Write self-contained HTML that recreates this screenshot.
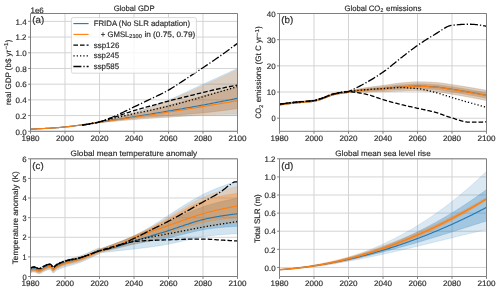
<!DOCTYPE html>
<html><head><meta charset="utf-8"><style>
html,body{margin:0;padding:0;background:#fff;}
svg{display:block;}
text{font-family:"Liberation Sans", sans-serif;text-rendering:geometricPrecision;stroke:#2e2e2e;stroke-width:0.18px;}
svg{will-change:transform;}
</style></head><body>
<svg width="500" height="291" viewBox="0 0 500 291">
<rect width="500" height="291" fill="#fff"/>
<path d="M30.50,13.50 V131.30 M65.00,13.50 V131.30 M99.50,13.50 V131.30 M134.00,13.50 V131.30 M168.50,13.50 V131.30 M203.00,13.50 V131.30 M237.50,13.50 V131.30 M30.50,131.30 H237.50 M30.50,115.59 H237.50 M30.50,99.89 H237.50 M30.50,84.18 H237.50 M30.50,68.47 H237.50 M30.50,52.77 H237.50 M30.50,37.06 H237.50 M30.50,21.35 H237.50" stroke="#d2d2d2" stroke-width="0.95" fill="none"/>
<path d="M30.50,129.02 L32.23,128.99 L33.95,128.94 L35.67,128.88 L37.40,128.81 L39.12,128.74 L40.85,128.65 L42.58,128.56 L44.30,128.46 L46.02,128.35 L47.75,128.23 L49.47,128.11 L51.20,127.99 L52.92,127.85 L54.65,127.72 L56.38,127.58 L58.10,127.43 L59.83,127.28 L61.55,127.13 L63.27,126.98 L65.00,126.82 L66.72,126.66 L68.45,126.48 L70.18,126.29 L71.90,126.08 L73.62,125.87 L75.35,125.64 L77.08,125.39 L78.80,125.14 L80.53,124.88 L82.25,124.60 L83.98,124.32 L85.70,124.03 L87.43,123.73 L89.15,123.43 L90.88,123.12 L92.60,122.80 L94.33,122.48 L96.05,122.15 L97.78,121.82 L99.50,121.48 L101.23,121.14 L102.95,120.78 L104.67,120.41 L106.40,120.02 L108.12,119.62 L109.85,119.21 L111.58,118.78 L113.30,118.35 L115.02,117.90 L116.75,117.44 L118.47,116.98 L120.20,116.50 L121.92,116.02 L123.65,115.52 L125.38,115.03 L127.10,114.52 L128.82,114.01 L130.55,113.50 L132.27,112.98 L134.00,112.45 L135.72,111.92 L137.45,111.37 L139.18,110.82 L140.90,110.25 L142.62,109.67 L144.35,109.07 L146.07,108.47 L147.80,107.86 L149.52,107.23 L151.25,106.60 L152.98,105.96 L154.70,105.31 L156.42,104.65 L158.15,103.99 L159.88,103.32 L161.60,102.64 L163.33,101.96 L165.05,101.27 L166.78,100.58 L168.50,99.89 L170.23,99.18 L171.95,98.46 L173.67,97.72 L175.40,96.97 L177.12,96.21 L178.85,95.43 L180.57,94.65 L182.30,93.86 L184.03,93.06 L185.75,92.25 L187.47,91.44 L189.20,90.63 L190.93,89.82 L192.65,89.00 L194.38,88.19 L196.10,87.38 L197.83,86.57 L199.55,85.77 L201.27,84.97 L203.00,84.18 L204.72,83.39 L206.45,82.61 L208.17,81.82 L209.90,81.04 L211.62,80.25 L213.35,79.47 L215.08,78.68 L216.80,77.90 L218.53,77.11 L220.25,76.33 L221.98,75.54 L223.70,74.76 L225.42,73.97 L227.15,73.19 L228.88,72.40 L230.60,71.61 L232.32,70.83 L234.05,70.04 L235.78,69.26 L237.50,68.47 L237.50,115.59 L235.78,115.59 L234.05,115.59 L232.32,115.59 L230.60,115.59 L228.88,115.59 L227.15,115.59 L225.42,115.59 L223.70,115.59 L221.98,115.59 L220.25,115.59 L218.53,115.59 L216.80,115.59 L215.08,115.59 L213.35,115.59 L211.62,115.59 L209.90,115.59 L208.17,115.59 L206.45,115.59 L204.72,115.59 L203.00,115.59 L201.27,115.60 L199.55,115.62 L197.83,115.65 L196.10,115.70 L194.38,115.75 L192.65,115.81 L190.93,115.89 L189.20,115.97 L187.47,116.05 L185.75,116.14 L184.03,116.24 L182.30,116.34 L180.57,116.44 L178.85,116.55 L177.12,116.65 L175.40,116.76 L173.67,116.86 L171.95,116.97 L170.23,117.07 L168.50,117.16 L166.78,117.26 L165.05,117.36 L163.33,117.46 L161.60,117.56 L159.88,117.67 L158.15,117.78 L156.42,117.89 L154.70,118.01 L152.98,118.12 L151.25,118.24 L149.52,118.36 L147.80,118.48 L146.07,118.61 L144.35,118.73 L142.62,118.86 L140.90,118.99 L139.18,119.12 L137.45,119.25 L135.72,119.39 L134.00,119.52 L132.27,119.66 L130.55,119.79 L128.82,119.93 L127.10,120.07 L125.38,120.22 L123.65,120.37 L121.92,120.51 L120.20,120.66 L118.47,120.82 L116.75,120.97 L115.02,121.13 L113.30,121.29 L111.58,121.45 L109.85,121.62 L108.12,121.79 L106.40,121.96 L104.67,122.13 L102.95,122.30 L101.23,122.48 L99.50,122.66 L97.78,122.85 L96.05,123.05 L94.33,123.26 L92.60,123.49 L90.88,123.71 L89.15,123.95 L87.43,124.19 L85.70,124.43 L83.98,124.68 L82.25,124.92 L80.53,125.16 L78.80,125.40 L77.08,125.63 L75.35,125.86 L73.62,126.08 L71.90,126.28 L70.18,126.48 L68.45,126.66 L66.72,126.83 L65.00,126.98 L63.27,127.12 L61.55,127.26 L59.83,127.40 L58.10,127.53 L56.38,127.66 L54.65,127.79 L52.92,127.92 L51.20,128.04 L49.47,128.16 L47.75,128.27 L46.02,128.38 L44.30,128.48 L42.58,128.58 L40.85,128.67 L39.12,128.76 L37.40,128.84 L35.67,128.92 L33.95,128.98 L32.23,129.05 L30.50,129.10Z" fill="#1f77b4" fill-opacity="0.2" stroke="#1f77b4" stroke-opacity="0.2" stroke-width="0.7"/>
<path d="M30.50,129.02 L32.23,128.98 L33.95,128.92 L35.67,128.86 L37.40,128.79 L39.12,128.71 L40.85,128.62 L42.58,128.52 L44.30,128.42 L46.02,128.31 L47.75,128.20 L49.47,128.08 L51.20,127.96 L52.92,127.83 L54.65,127.69 L56.38,127.56 L58.10,127.42 L59.83,127.27 L61.55,127.12 L63.27,126.97 L65.00,126.82 L66.72,126.66 L68.45,126.49 L70.18,126.31 L71.90,126.11 L73.62,125.90 L75.35,125.68 L77.08,125.45 L78.80,125.21 L80.53,124.97 L82.25,124.71 L83.98,124.45 L85.70,124.18 L87.43,123.91 L89.15,123.63 L90.88,123.34 L92.60,123.05 L94.33,122.76 L96.05,122.47 L97.78,122.17 L99.50,121.88 L101.23,121.57 L102.95,121.26 L104.67,120.93 L106.40,120.60 L108.12,120.26 L109.85,119.90 L111.58,119.54 L113.30,119.18 L115.02,118.80 L116.75,118.42 L118.47,118.04 L120.20,117.65 L121.92,117.25 L123.65,116.85 L125.38,116.45 L127.10,116.05 L128.82,115.64 L130.55,115.23 L132.27,114.82 L134.00,114.42 L135.72,114.00 L137.45,113.58 L139.18,113.16 L140.90,112.73 L142.62,112.29 L144.35,111.84 L146.07,111.40 L147.80,110.95 L149.52,110.49 L151.25,110.03 L152.98,109.57 L154.70,109.11 L156.42,108.64 L158.15,108.18 L159.88,107.71 L161.60,107.24 L163.33,106.78 L165.05,106.31 L166.78,105.85 L168.50,105.38 L170.23,104.92 L171.95,104.45 L173.67,103.98 L175.40,103.51 L177.12,103.04 L178.85,102.56 L180.57,102.08 L182.30,101.60 L184.03,101.12 L185.75,100.65 L187.47,100.17 L189.20,99.69 L190.93,99.21 L192.65,98.74 L194.38,98.27 L196.10,97.80 L197.83,97.33 L199.55,96.87 L201.27,96.41 L203.00,95.96 L204.72,95.51 L206.45,95.06 L208.17,94.62 L209.90,94.17 L211.62,93.73 L213.35,93.29 L215.08,92.85 L216.80,92.41 L218.53,91.98 L220.25,91.54 L221.98,91.11 L223.70,90.68 L225.42,90.26 L227.15,89.83 L228.88,89.41 L230.60,88.99 L232.32,88.57 L234.05,88.15 L235.78,87.73 L237.50,87.32 L237.50,108.53 L235.78,108.78 L234.05,109.03 L232.32,109.28 L230.60,109.52 L228.88,109.76 L227.15,110.00 L225.42,110.23 L223.70,110.46 L221.98,110.68 L220.25,110.90 L218.53,111.12 L216.80,111.33 L215.08,111.54 L213.35,111.74 L211.62,111.94 L209.90,112.13 L208.17,112.32 L206.45,112.50 L204.72,112.67 L203.00,112.84 L201.27,113.01 L199.55,113.17 L197.83,113.32 L196.10,113.47 L194.38,113.62 L192.65,113.76 L190.93,113.90 L189.20,114.03 L187.47,114.16 L185.75,114.30 L184.03,114.42 L182.30,114.55 L180.57,114.68 L178.85,114.81 L177.12,114.93 L175.40,115.06 L173.67,115.19 L171.95,115.32 L170.23,115.46 L168.50,115.59 L166.78,115.73 L165.05,115.86 L163.33,115.99 L161.60,116.13 L159.88,116.25 L158.15,116.38 L156.42,116.51 L154.70,116.64 L152.98,116.77 L151.25,116.90 L149.52,117.03 L147.80,117.16 L146.07,117.30 L144.35,117.43 L142.62,117.58 L140.90,117.72 L139.18,117.87 L137.45,118.02 L135.72,118.18 L134.00,118.34 L132.27,118.51 L130.55,118.69 L128.82,118.87 L127.10,119.06 L125.38,119.25 L123.65,119.45 L121.92,119.66 L120.20,119.87 L118.47,120.08 L116.75,120.29 L115.02,120.51 L113.30,120.73 L111.58,120.95 L109.85,121.17 L108.12,121.40 L106.40,121.62 L104.67,121.84 L102.95,122.07 L101.23,122.29 L99.50,122.50 L97.78,122.73 L96.05,122.96 L94.33,123.20 L92.60,123.44 L90.88,123.69 L89.15,123.95 L87.43,124.20 L85.70,124.46 L83.98,124.71 L82.25,124.96 L80.53,125.21 L78.80,125.46 L77.08,125.69 L75.35,125.92 L73.62,126.14 L71.90,126.35 L70.18,126.55 L68.45,126.74 L66.72,126.91 L65.00,127.06 L63.27,127.20 L61.55,127.34 L59.83,127.48 L58.10,127.62 L56.38,127.76 L54.65,127.89 L52.92,128.01 L51.20,128.14 L49.47,128.25 L47.75,128.37 L46.02,128.48 L44.30,128.58 L42.58,128.68 L40.85,128.77 L39.12,128.86 L37.40,128.94 L35.67,129.01 L33.95,129.07 L32.23,129.13 L30.50,129.18Z" fill="#1f77b4" fill-opacity="0.2" stroke="#1f77b4" stroke-opacity="0.2" stroke-width="0.7"/>
<path d="M30.50,128.94 L32.23,128.91 L33.95,128.86 L35.67,128.80 L37.40,128.73 L39.12,128.65 L40.85,128.57 L42.58,128.47 L44.30,128.37 L46.02,128.26 L47.75,128.15 L49.47,128.03 L51.20,127.90 L52.92,127.77 L54.65,127.63 L56.38,127.49 L58.10,127.35 L59.83,127.20 L61.55,127.05 L63.27,126.90 L65.00,126.75 L66.72,126.58 L68.45,126.41 L70.18,126.21 L71.90,126.01 L73.62,125.79 L75.35,125.56 L77.08,125.32 L78.80,125.07 L80.53,124.81 L82.25,124.54 L83.98,124.27 L85.70,123.98 L87.43,123.69 L89.15,123.39 L90.88,123.08 L92.60,122.77 L94.33,122.45 L96.05,122.13 L97.78,121.81 L99.50,121.48 L101.23,121.15 L102.95,120.80 L104.67,120.44 L106.40,120.07 L108.12,119.69 L109.85,119.29 L111.58,118.89 L113.30,118.47 L115.02,118.04 L116.75,117.61 L118.47,117.17 L120.20,116.71 L121.92,116.25 L123.65,115.78 L125.38,115.31 L127.10,114.83 L128.82,114.34 L130.55,113.85 L132.27,113.35 L134.00,112.84 L135.72,112.33 L137.45,111.81 L139.18,111.27 L140.90,110.71 L142.62,110.15 L144.35,109.57 L146.07,108.99 L147.80,108.39 L149.52,107.79 L151.25,107.17 L152.98,106.55 L154.70,105.92 L156.42,105.28 L158.15,104.64 L159.88,103.99 L161.60,103.33 L163.33,102.67 L165.05,102.01 L166.78,101.34 L168.50,100.67 L170.23,100.00 L171.95,99.31 L173.67,98.61 L175.40,97.90 L177.12,97.18 L178.85,96.45 L180.57,95.72 L182.30,94.98 L184.03,94.23 L185.75,93.47 L187.47,92.71 L189.20,91.95 L190.93,91.18 L192.65,90.41 L194.38,89.63 L196.10,88.86 L197.83,88.08 L199.55,87.30 L201.27,86.53 L203.00,85.75 L204.72,84.97 L206.45,84.20 L208.17,83.41 L209.90,82.63 L211.62,81.84 L213.35,81.05 L215.08,80.25 L216.80,79.46 L218.53,78.65 L220.25,77.85 L221.98,77.04 L223.70,76.23 L225.42,75.42 L227.15,74.61 L228.88,73.79 L230.60,72.97 L232.32,72.14 L234.05,71.31 L235.78,70.48 L237.50,69.65 L237.50,114.02 L235.78,114.03 L234.05,114.03 L232.32,114.05 L230.60,114.07 L228.88,114.09 L227.15,114.12 L225.42,114.15 L223.70,114.19 L221.98,114.23 L220.25,114.27 L218.53,114.31 L216.80,114.36 L215.08,114.41 L213.35,114.47 L211.62,114.52 L209.90,114.58 L208.17,114.63 L206.45,114.69 L204.72,114.75 L203.00,114.81 L201.27,114.87 L199.55,114.95 L197.83,115.03 L196.10,115.13 L194.38,115.23 L192.65,115.34 L190.93,115.46 L189.20,115.58 L187.47,115.71 L185.75,115.84 L184.03,115.97 L182.30,116.11 L180.57,116.25 L178.85,116.38 L177.12,116.52 L175.40,116.66 L173.67,116.79 L171.95,116.92 L170.23,117.04 L168.50,117.16 L166.78,117.28 L165.05,117.40 L163.33,117.51 L161.60,117.62 L159.88,117.73 L158.15,117.85 L156.42,117.96 L154.70,118.07 L152.98,118.18 L151.25,118.29 L149.52,118.41 L147.80,118.52 L146.07,118.64 L144.35,118.76 L142.62,118.88 L140.90,119.00 L139.18,119.12 L137.45,119.25 L135.72,119.38 L134.00,119.52 L132.27,119.66 L130.55,119.80 L128.82,119.95 L127.10,120.10 L125.38,120.25 L123.65,120.40 L121.92,120.56 L120.20,120.72 L118.47,120.88 L116.75,121.05 L115.02,121.21 L113.30,121.38 L111.58,121.55 L109.85,121.73 L108.12,121.91 L106.40,122.08 L104.67,122.27 L102.95,122.45 L101.23,122.63 L99.50,122.82 L97.78,123.01 L96.05,123.22 L94.33,123.43 L92.60,123.66 L90.88,123.89 L89.15,124.12 L87.43,124.36 L85.70,124.60 L83.98,124.85 L82.25,125.09 L80.53,125.33 L78.80,125.57 L77.08,125.80 L75.35,126.02 L73.62,126.24 L71.90,126.44 L70.18,126.64 L68.45,126.82 L66.72,126.99 L65.00,127.14 L63.27,127.28 L61.55,127.42 L59.83,127.56 L58.10,127.69 L56.38,127.82 L54.65,127.95 L52.92,128.07 L51.20,128.20 L49.47,128.31 L47.75,128.43 L46.02,128.53 L44.30,128.64 L42.58,128.74 L40.85,128.83 L39.12,128.92 L37.40,129.00 L35.67,129.07 L33.95,129.14 L32.23,129.20 L30.50,129.26Z" fill="#ff7f0e" fill-opacity="0.2" stroke="#ff7f0e" stroke-opacity="0.2" stroke-width="0.7"/>
<path d="M30.50,129.02 L32.23,128.98 L33.95,128.92 L35.67,128.86 L37.40,128.79 L39.12,128.71 L40.85,128.62 L42.58,128.52 L44.30,128.42 L46.02,128.31 L47.75,128.20 L49.47,128.08 L51.20,127.96 L52.92,127.83 L54.65,127.69 L56.38,127.56 L58.10,127.42 L59.83,127.27 L61.55,127.12 L63.27,126.97 L65.00,126.82 L66.72,126.66 L68.45,126.49 L70.18,126.31 L71.90,126.11 L73.62,125.90 L75.35,125.68 L77.08,125.45 L78.80,125.21 L80.53,124.97 L82.25,124.71 L83.98,124.45 L85.70,124.18 L87.43,123.91 L89.15,123.63 L90.88,123.34 L92.60,123.05 L94.33,122.76 L96.05,122.47 L97.78,122.17 L99.50,121.88 L101.23,121.57 L102.95,121.26 L104.67,120.93 L106.40,120.60 L108.12,120.26 L109.85,119.90 L111.58,119.54 L113.30,119.18 L115.02,118.80 L116.75,118.42 L118.47,118.04 L120.20,117.65 L121.92,117.25 L123.65,116.85 L125.38,116.45 L127.10,116.05 L128.82,115.64 L130.55,115.23 L132.27,114.82 L134.00,114.42 L135.72,114.00 L137.45,113.58 L139.18,113.16 L140.90,112.73 L142.62,112.29 L144.35,111.84 L146.07,111.40 L147.80,110.95 L149.52,110.49 L151.25,110.03 L152.98,109.57 L154.70,109.11 L156.42,108.64 L158.15,108.18 L159.88,107.71 L161.60,107.24 L163.33,106.78 L165.05,106.31 L166.78,105.85 L168.50,105.38 L170.23,104.92 L171.95,104.45 L173.67,103.98 L175.40,103.51 L177.12,103.04 L178.85,102.56 L180.57,102.08 L182.30,101.60 L184.03,101.12 L185.75,100.65 L187.47,100.17 L189.20,99.69 L190.93,99.21 L192.65,98.74 L194.38,98.27 L196.10,97.80 L197.83,97.33 L199.55,96.87 L201.27,96.41 L203.00,95.96 L204.72,95.51 L206.45,95.06 L208.17,94.62 L209.90,94.17 L211.62,93.73 L213.35,93.29 L215.08,92.85 L216.80,92.41 L218.53,91.98 L220.25,91.54 L221.98,91.11 L223.70,90.68 L225.42,90.26 L227.15,89.83 L228.88,89.41 L230.60,88.99 L232.32,88.57 L234.05,88.15 L235.78,87.73 L237.50,87.32 L237.50,108.53 L235.78,108.78 L234.05,109.03 L232.32,109.28 L230.60,109.52 L228.88,109.76 L227.15,110.00 L225.42,110.23 L223.70,110.46 L221.98,110.68 L220.25,110.90 L218.53,111.12 L216.80,111.33 L215.08,111.54 L213.35,111.74 L211.62,111.94 L209.90,112.13 L208.17,112.32 L206.45,112.50 L204.72,112.67 L203.00,112.84 L201.27,113.01 L199.55,113.17 L197.83,113.32 L196.10,113.47 L194.38,113.62 L192.65,113.76 L190.93,113.90 L189.20,114.03 L187.47,114.16 L185.75,114.30 L184.03,114.42 L182.30,114.55 L180.57,114.68 L178.85,114.81 L177.12,114.93 L175.40,115.06 L173.67,115.19 L171.95,115.32 L170.23,115.46 L168.50,115.59 L166.78,115.73 L165.05,115.86 L163.33,115.99 L161.60,116.13 L159.88,116.25 L158.15,116.38 L156.42,116.51 L154.70,116.64 L152.98,116.77 L151.25,116.90 L149.52,117.03 L147.80,117.16 L146.07,117.30 L144.35,117.43 L142.62,117.58 L140.90,117.72 L139.18,117.87 L137.45,118.02 L135.72,118.18 L134.00,118.34 L132.27,118.51 L130.55,118.69 L128.82,118.87 L127.10,119.06 L125.38,119.25 L123.65,119.45 L121.92,119.66 L120.20,119.87 L118.47,120.08 L116.75,120.29 L115.02,120.51 L113.30,120.73 L111.58,120.95 L109.85,121.17 L108.12,121.40 L106.40,121.62 L104.67,121.84 L102.95,122.07 L101.23,122.29 L99.50,122.50 L97.78,122.73 L96.05,122.96 L94.33,123.20 L92.60,123.44 L90.88,123.69 L89.15,123.95 L87.43,124.20 L85.70,124.46 L83.98,124.71 L82.25,124.96 L80.53,125.21 L78.80,125.46 L77.08,125.69 L75.35,125.92 L73.62,126.14 L71.90,126.35 L70.18,126.55 L68.45,126.74 L66.72,126.91 L65.00,127.06 L63.27,127.20 L61.55,127.34 L59.83,127.48 L58.10,127.62 L56.38,127.76 L54.65,127.89 L52.92,128.01 L51.20,128.14 L49.47,128.25 L47.75,128.37 L46.02,128.48 L44.30,128.58 L42.58,128.68 L40.85,128.77 L39.12,128.86 L37.40,128.94 L35.67,129.01 L33.95,129.07 L32.23,129.13 L30.50,129.18Z" fill="#ff7f0e" fill-opacity="0.2" stroke="#ff7f0e" stroke-opacity="0.2" stroke-width="0.7"/>
<path d="M30.50,129.10 L32.23,129.03 L33.95,128.96 L35.67,128.88 L37.40,128.81 L39.12,128.73 L40.85,128.65 L42.58,128.57 L44.30,128.48 L46.02,128.39 L47.75,128.29 L49.47,128.19 L51.20,128.09 L52.92,127.98 L54.65,127.86 L56.38,127.73 L58.10,127.60 L59.83,127.46 L61.55,127.31 L63.27,127.15 L65.00,126.98 L66.72,126.80 L68.45,126.61 L70.18,126.42 L71.90,126.21 L73.62,126.00 L75.35,125.78 L77.08,125.55 L78.80,125.31 L80.53,125.07 L82.25,124.83 L83.98,124.58 L85.70,124.32 L87.43,124.06 L89.15,123.80 L90.88,123.54 L92.60,123.27 L94.33,123.00 L96.05,122.73 L97.78,122.46 L99.50,122.19 L101.23,121.92 L102.95,121.65 L104.67,121.38 L106.40,121.11 L108.12,120.84 L109.85,120.58 L111.58,120.31 L113.30,120.04 L115.02,119.77 L116.75,119.50 L118.47,119.23 L120.20,118.96 L121.92,118.69 L123.65,118.42 L125.38,118.15 L127.10,117.87 L128.82,117.60 L130.55,117.32 L132.27,117.05 L134.00,116.77 L135.72,116.49 L137.45,116.21 L139.18,115.93 L140.90,115.65 L142.62,115.37 L144.35,115.09 L146.07,114.80 L147.80,114.52 L149.52,114.23 L151.25,113.94 L152.98,113.66 L154.70,113.37 L156.42,113.08 L158.15,112.79 L159.88,112.50 L161.60,112.21 L163.33,111.92 L165.05,111.62 L166.78,111.33 L168.50,111.04 L170.23,110.75 L171.95,110.45 L173.67,110.16 L175.40,109.86 L177.12,109.57 L178.85,109.27 L180.57,108.98 L182.30,108.68 L184.03,108.38 L185.75,108.08 L187.47,107.78 L189.20,107.48 L190.93,107.17 L192.65,106.87 L194.38,106.56 L196.10,106.25 L197.83,105.94 L199.55,105.62 L201.27,105.31 L203.00,104.99 L204.72,104.67 L206.45,104.35 L208.17,104.03 L209.90,103.70 L211.62,103.37 L213.35,103.04 L215.08,102.71 L216.80,102.38 L218.53,102.05 L220.25,101.71 L221.98,101.37 L223.70,101.04 L225.42,100.70 L227.15,100.36 L228.88,100.02 L230.60,99.68 L232.32,99.34 L234.05,99.00 L235.78,98.66 L237.50,98.32" fill="none" stroke="#1f77b4" stroke-width="1.1" stroke-linejoin="round" />
<path d="M30.50,129.10 L32.23,129.03 L33.95,128.96 L35.67,128.89 L37.40,128.81 L39.12,128.74 L40.85,128.66 L42.58,128.58 L44.30,128.49 L46.02,128.40 L47.75,128.31 L49.47,128.21 L51.20,128.10 L52.92,127.99 L54.65,127.87 L56.38,127.75 L58.10,127.61 L59.83,127.47 L61.55,127.32 L63.27,127.15 L65.00,126.98 L66.72,126.80 L68.45,126.60 L70.18,126.40 L71.90,126.19 L73.62,125.97 L75.35,125.75 L77.08,125.51 L78.80,125.27 L80.53,125.03 L82.25,124.78 L83.98,124.53 L85.70,124.27 L87.43,124.01 L89.15,123.75 L90.88,123.49 L92.60,123.23 L94.33,122.97 L96.05,122.71 L97.78,122.45 L99.50,122.19 L101.23,121.94 L102.95,121.68 L104.67,121.44 L106.40,121.19 L108.12,120.94 L109.85,120.70 L111.58,120.46 L113.30,120.22 L115.02,119.98 L116.75,119.74 L118.47,119.50 L120.20,119.26 L121.92,119.02 L123.65,118.78 L125.38,118.54 L127.10,118.30 L128.82,118.06 L130.55,117.81 L132.27,117.57 L134.00,117.32 L135.72,117.07 L137.45,116.82 L139.18,116.57 L140.90,116.31 L142.62,116.05 L144.35,115.79 L146.07,115.53 L147.80,115.27 L149.52,115.01 L151.25,114.74 L152.98,114.48 L154.70,114.21 L156.42,113.95 L158.15,113.68 L159.88,113.41 L161.60,113.14 L163.33,112.87 L165.05,112.60 L166.78,112.33 L168.50,112.06 L170.23,111.79 L171.95,111.52 L173.67,111.25 L175.40,110.98 L177.12,110.71 L178.85,110.44 L180.57,110.16 L182.30,109.89 L184.03,109.62 L185.75,109.35 L187.47,109.07 L189.20,108.80 L190.93,108.52 L192.65,108.25 L194.38,107.97 L196.10,107.69 L197.83,107.41 L199.55,107.13 L201.27,106.85 L203.00,106.56 L204.72,106.28 L206.45,105.99 L208.17,105.70 L209.90,105.41 L211.62,105.12 L213.35,104.83 L215.08,104.54 L216.80,104.24 L218.53,103.95 L220.25,103.65 L221.98,103.36 L223.70,103.06 L225.42,102.76 L227.15,102.47 L228.88,102.17 L230.60,101.87 L232.32,101.57 L234.05,101.27 L235.78,100.97 L237.50,100.67" fill="none" stroke="#ff7f0e" stroke-width="1.1" stroke-linejoin="round" />
<path d="M82.25,125.17 L83.98,124.90 L85.70,124.62 L87.43,124.34 L89.15,124.04 L90.88,123.73 L92.60,123.41 L94.33,123.06 L96.05,122.70 L97.78,122.30 L99.50,121.88 L101.23,121.42 L102.95,120.93 L104.67,120.42 L106.40,119.88 L108.12,119.33 L109.85,118.75 L111.58,118.17 L113.30,117.58 L115.02,116.98 L116.75,116.38 L118.47,115.78 L120.20,115.18 L121.92,114.59 L123.65,114.00 L125.38,113.42 L127.10,112.85 L128.82,112.28 L130.55,111.72 L132.27,111.18 L134.00,110.65 L135.72,110.13 L137.45,109.62 L139.18,109.12 L140.90,108.63 L142.62,108.15 L144.35,107.67 L146.07,107.19 L147.80,106.72 L149.52,106.25 L151.25,105.78 L152.98,105.30 L154.70,104.82 L156.42,104.35 L158.15,103.87 L159.88,103.39 L161.60,102.92 L163.33,102.45 L165.05,101.98 L166.78,101.52 L168.50,101.06 L170.23,100.62 L171.95,100.18 L173.67,99.74 L175.40,99.31 L177.12,98.88 L178.85,98.45 L180.57,98.03 L182.30,97.60 L184.03,97.17 L185.75,96.75 L187.47,96.31 L189.20,95.88 L190.93,95.45 L192.65,95.01 L194.38,94.57 L196.10,94.14 L197.83,93.71 L199.55,93.28 L201.27,92.85 L203.00,92.43 L204.72,92.01 L206.45,91.59 L208.17,91.19 L209.90,90.78 L211.62,90.39 L213.35,90.00 L215.08,89.61 L216.80,89.24 L218.53,88.86 L220.25,88.50 L221.98,88.14 L223.70,87.79 L225.42,87.44 L227.15,87.10 L228.88,86.77 L230.60,86.43 L232.32,86.10 L234.05,85.78 L235.78,85.45 L237.50,85.12" fill="none" stroke="#000" stroke-width="1.3" stroke-dasharray="4.6,2.0" stroke-linejoin="round" />
<path d="M82.25,125.17 L83.98,124.87 L85.70,124.57 L87.43,124.26 L89.15,123.95 L90.88,123.63 L92.60,123.31 L94.33,122.97 L96.05,122.62 L97.78,122.26 L99.50,121.88 L101.23,121.48 L102.95,121.07 L104.67,120.64 L106.40,120.21 L108.12,119.77 L109.85,119.33 L111.58,118.88 L113.30,118.43 L115.02,117.99 L116.75,117.56 L118.47,117.13 L120.20,116.71 L121.92,116.30 L123.65,115.90 L125.38,115.51 L127.10,115.12 L128.82,114.74 L130.55,114.36 L132.27,113.99 L134.00,113.63 L135.72,113.27 L137.45,112.92 L139.18,112.57 L140.90,112.22 L142.62,111.87 L144.35,111.52 L146.07,111.17 L147.80,110.81 L149.52,110.46 L151.25,110.10 L152.98,109.73 L154.70,109.36 L156.42,108.98 L158.15,108.59 L159.88,108.20 L161.60,107.81 L163.33,107.41 L165.05,107.00 L166.78,106.59 L168.50,106.17 L170.23,105.75 L171.95,105.32 L173.67,104.88 L175.40,104.44 L177.12,104.00 L178.85,103.55 L180.57,103.09 L182.30,102.63 L184.03,102.17 L185.75,101.69 L187.47,101.22 L189.20,100.73 L190.93,100.25 L192.65,99.75 L194.38,99.26 L196.10,98.76 L197.83,98.26 L199.55,97.76 L201.27,97.25 L203.00,96.75 L204.72,96.24 L206.45,95.73 L208.17,95.22 L209.90,94.71 L211.62,94.20 L213.35,93.69 L215.08,93.18 L216.80,92.66 L218.53,92.15 L220.25,91.64 L221.98,91.13 L223.70,90.62 L225.42,90.11 L227.15,89.60 L228.88,89.09 L230.60,88.58 L232.32,88.07 L234.05,87.56 L235.78,87.05 L237.50,86.54" fill="none" stroke="#000" stroke-width="1.3" stroke-dasharray="1.25,2.06" stroke-linejoin="round" />
<path d="M82.25,125.17 L83.98,124.92 L85.70,124.67 L87.43,124.40 L89.15,124.12 L90.88,123.82 L92.60,123.50 L94.33,123.15 L96.05,122.76 L97.78,122.34 L99.50,121.88 L101.23,121.36 L102.95,120.81 L104.67,120.21 L106.40,119.58 L108.12,118.91 L109.85,118.22 L111.58,117.49 L113.30,116.75 L115.02,115.98 L116.75,115.20 L118.47,114.41 L120.20,113.60 L121.92,112.79 L123.65,111.97 L125.38,111.14 L127.10,110.31 L128.82,109.47 L130.55,108.63 L132.27,107.79 L134.00,106.95 L135.72,106.12 L137.45,105.29 L139.18,104.45 L140.90,103.63 L142.62,102.80 L144.35,101.98 L146.07,101.16 L147.80,100.34 L149.52,99.52 L151.25,98.71 L152.98,97.90 L154.70,97.09 L156.42,96.27 L158.15,95.44 L159.88,94.60 L161.60,93.75 L163.33,92.87 L165.05,91.97 L166.78,91.04 L168.50,90.07 L170.23,89.07 L171.95,88.04 L173.67,86.97 L175.40,85.88 L177.12,84.78 L178.85,83.65 L180.57,82.52 L182.30,81.37 L184.03,80.22 L185.75,79.08 L187.47,77.93 L189.20,76.79 L190.93,75.65 L192.65,74.52 L194.38,73.38 L196.10,72.25 L197.83,71.11 L199.55,69.97 L201.27,68.83 L203.00,67.69 L204.72,66.54 L206.45,65.39 L208.17,64.23 L209.90,63.06 L211.62,61.89 L213.35,60.71 L215.08,59.53 L216.80,58.33 L218.53,57.12 L220.25,55.91 L221.98,54.68 L223.70,53.45 L225.42,52.20 L227.15,50.95 L228.88,49.69 L230.60,48.43 L232.32,47.16 L234.05,45.89 L235.78,44.62 L237.50,43.34" fill="none" stroke="#000" stroke-width="1.3" stroke-dasharray="8.0,2.0,1.25,2.0" stroke-linejoin="round" />
<path d="M30.50,13.50 H237.50 V131.30 H30.50 Z M30.50,131.30 v2.4 M65.00,131.30 v2.4 M99.50,131.30 v2.4 M134.00,131.30 v2.4 M168.50,131.30 v2.4 M203.00,131.30 v2.4 M237.50,131.30 v2.4 M30.50,131.30 h-2.4 M30.50,115.59 h-2.4 M30.50,99.89 h-2.4 M30.50,84.18 h-2.4 M30.50,68.47 h-2.4 M30.50,52.77 h-2.4 M30.50,37.06 h-2.4 M30.50,21.35 h-2.4" stroke="#7a7a7a" stroke-width="0.95" fill="none"/>
<text x="21.51" y="140.60" font-size="7.92" textLength="17.99" lengthAdjust="spacingAndGlyphs" fill="#2e2e2e">1980</text>
<text x="55.96" y="140.60" font-size="7.92" textLength="18.04" lengthAdjust="spacingAndGlyphs" fill="#2e2e2e">2000</text>
<text x="90.46" y="140.60" font-size="7.92" textLength="18.04" lengthAdjust="spacingAndGlyphs" fill="#2e2e2e">2020</text>
<text x="124.96" y="140.60" font-size="7.92" textLength="18.04" lengthAdjust="spacingAndGlyphs" fill="#2e2e2e">2040</text>
<text x="159.46" y="140.60" font-size="7.92" textLength="18.04" lengthAdjust="spacingAndGlyphs" fill="#2e2e2e">2060</text>
<text x="193.96" y="140.60" font-size="7.92" textLength="18.04" lengthAdjust="spacingAndGlyphs" fill="#2e2e2e">2080</text>
<text x="228.46" y="140.60" font-size="7.92" textLength="18.04" lengthAdjust="spacingAndGlyphs" fill="#2e2e2e">2100</text>
<text x="15.51" y="134.50" font-size="7.92" textLength="11.12" lengthAdjust="spacingAndGlyphs" fill="#2e2e2e">0.0</text>
<text x="15.52" y="118.79" font-size="7.92" textLength="10.96" lengthAdjust="spacingAndGlyphs" fill="#2e2e2e">0.2</text>
<text x="15.51" y="103.09" font-size="7.92" textLength="11.12" lengthAdjust="spacingAndGlyphs" fill="#2e2e2e">0.4</text>
<text x="15.51" y="87.38" font-size="7.92" textLength="11.19" lengthAdjust="spacingAndGlyphs" fill="#2e2e2e">0.6</text>
<text x="15.51" y="71.67" font-size="7.92" textLength="11.15" lengthAdjust="spacingAndGlyphs" fill="#2e2e2e">0.8</text>
<text x="15.53" y="55.97" font-size="7.92" textLength="11.10" lengthAdjust="spacingAndGlyphs" fill="#2e2e2e">1.0</text>
<text x="15.54" y="40.26" font-size="7.92" textLength="10.93" lengthAdjust="spacingAndGlyphs" fill="#2e2e2e">1.2</text>
<text x="15.53" y="24.55" font-size="7.92" textLength="11.10" lengthAdjust="spacingAndGlyphs" fill="#2e2e2e">1.4</text>
<path d="M279.50,13.50 V131.30 M314.00,13.50 V131.30 M348.50,13.50 V131.30 M383.00,13.50 V131.30 M417.50,13.50 V131.30 M452.00,13.50 V131.30 M486.50,13.50 V131.30 M279.50,118.21 H486.50 M279.50,92.03 H486.50 M279.50,65.86 H486.50 M279.50,39.68 H486.50 M279.50,13.50 H486.50" stroke="#d2d2d2" stroke-width="0.95" fill="none"/>
<path d="M279.50,103.71 L280.36,103.59 L281.23,103.47 L282.09,103.35 L282.95,103.23 L283.81,103.12 L284.68,103.00 L285.54,102.89 L286.40,102.78 L287.26,102.67 L288.12,102.56 L288.99,102.45 L289.85,102.35 L290.71,102.24 L291.57,102.14 L292.44,102.04 L293.30,101.94 L294.16,101.84 L295.02,101.74 L295.89,101.65 L296.75,101.55 L297.61,101.46 L298.48,101.38 L299.34,101.30 L300.20,101.23 L301.06,101.16 L301.93,101.09 L302.79,101.02 L303.65,100.96 L304.51,100.89 L305.38,100.83 L306.24,100.76 L307.10,100.69 L307.96,100.62 L308.82,100.54 L309.69,100.45 L310.55,100.36 L311.41,100.26 L312.27,100.16 L313.14,100.04 L314.00,99.92 L314.86,99.77 L315.73,99.58 L316.59,99.37 L317.45,99.13 L318.31,98.86 L319.18,98.58 L320.04,98.29 L320.90,97.99 L321.76,97.70 L322.62,97.40 L323.49,97.09 L324.35,96.75 L325.21,96.39 L326.07,96.02 L326.94,95.64 L327.80,95.26 L328.66,94.90 L329.52,94.55 L330.39,94.24 L331.25,93.97 L332.11,93.72 L332.98,93.48 L333.84,93.25 L334.70,93.04 L335.56,92.83 L336.43,92.63 L337.29,92.45 L338.15,92.28 L339.01,92.12 L339.88,91.97 L340.74,91.84 L341.60,91.71 L342.46,91.60 L343.32,91.49 L344.19,91.38 L345.05,91.28 L345.91,91.18 L346.77,91.09 L347.64,90.99 L348.50,90.89 L349.36,90.73 L350.23,90.56 L351.09,90.39 L351.95,90.22 L352.81,90.06 L353.68,89.89 L354.54,89.73 L355.40,89.57 L356.26,89.41 L357.12,89.25 L357.99,89.09 L358.85,88.93 L359.71,88.77 L360.57,88.61 L361.44,88.46 L362.30,88.30 L363.16,88.15 L364.02,88.00 L364.89,87.85 L365.75,87.70 L366.61,87.58 L367.48,87.47 L368.34,87.36 L369.20,87.25 L370.06,87.14 L370.93,87.03 L371.79,86.92 L372.65,86.82 L373.51,86.71 L374.38,86.60 L375.24,86.50 L376.10,86.39 L376.96,86.29 L377.82,86.18 L378.69,86.08 L379.55,85.97 L380.41,85.86 L381.27,85.75 L382.14,85.64 L383.00,85.52 L383.86,85.40 L384.73,85.28 L385.59,85.16 L386.45,85.03 L387.31,84.91 L388.18,84.78 L389.04,84.65 L389.90,84.52 L390.76,84.38 L391.62,84.25 L392.49,84.12 L393.35,84.00 L394.21,83.87 L395.07,83.74 L395.94,83.62 L396.80,83.51 L397.66,83.39 L398.52,83.28 L399.39,83.18 L400.25,83.08 L401.11,83.01 L401.98,82.94 L402.84,82.86 L403.70,82.79 L404.56,82.72 L405.42,82.65 L406.29,82.57 L407.15,82.50 L408.01,82.44 L408.88,82.37 L409.74,82.31 L410.60,82.25 L411.46,82.19 L412.33,82.14 L413.19,82.09 L414.05,82.04 L414.91,82.01 L415.77,81.97 L416.64,81.94 L417.50,81.92 L418.36,81.92 L419.23,81.92 L420.09,81.92 L420.95,81.94 L421.81,81.95 L422.67,81.97 L423.54,82.00 L424.40,82.02 L425.26,82.05 L426.12,82.09 L426.99,82.13 L427.85,82.17 L428.71,82.21 L429.57,82.26 L430.44,82.30 L431.30,82.35 L432.16,82.40 L433.02,82.45 L433.89,82.50 L434.75,82.55 L435.61,82.61 L436.48,82.67 L437.34,82.75 L438.20,82.83 L439.06,82.93 L439.93,83.02 L440.79,83.13 L441.65,83.24 L442.51,83.36 L443.38,83.48 L444.24,83.60 L445.10,83.73 L445.96,83.85 L446.83,83.98 L447.69,84.11 L448.55,84.24 L449.41,84.37 L450.27,84.50 L451.14,84.63 L452.00,84.75 L452.86,84.88 L453.73,85.00 L454.59,85.13 L455.45,85.26 L456.31,85.39 L457.17,85.52 L458.04,85.65 L458.90,85.79 L459.76,85.93 L460.62,86.06 L461.49,86.20 L462.35,86.34 L463.21,86.48 L464.08,86.62 L464.94,86.76 L465.80,86.91 L466.66,87.05 L467.52,87.19 L468.39,87.33 L469.25,87.48 L470.11,87.62 L470.98,87.76 L471.84,87.91 L472.70,88.05 L473.56,88.20 L474.42,88.34 L475.29,88.49 L476.15,88.64 L477.01,88.79 L477.88,88.94 L478.74,89.09 L479.60,89.24 L480.46,89.39 L481.32,89.54 L482.19,89.69 L483.05,89.84 L483.91,90.00 L484.77,90.15 L485.64,90.31 L486.50,90.46 L486.50,100.41 L485.64,100.24 L484.77,100.07 L483.91,99.90 L483.05,99.73 L482.19,99.56 L481.32,99.39 L480.46,99.23 L479.60,99.06 L478.74,98.89 L477.88,98.73 L477.01,98.56 L476.15,98.40 L475.29,98.24 L474.42,98.07 L473.56,97.91 L472.70,97.75 L471.84,97.59 L470.98,97.43 L470.11,97.27 L469.25,97.11 L468.39,96.96 L467.52,96.80 L466.66,96.64 L465.80,96.48 L464.94,96.32 L464.08,96.17 L463.21,96.01 L462.35,95.85 L461.49,95.70 L460.62,95.54 L459.76,95.39 L458.90,95.24 L458.04,95.09 L457.17,94.94 L456.31,94.79 L455.45,94.64 L454.59,94.50 L453.73,94.36 L452.86,94.22 L452.00,94.08 L451.14,93.94 L450.27,93.80 L449.41,93.65 L448.55,93.51 L447.69,93.36 L446.83,93.22 L445.96,93.07 L445.10,92.93 L444.24,92.79 L443.38,92.65 L442.51,92.51 L441.65,92.38 L440.79,92.25 L439.93,92.13 L439.06,92.02 L438.20,91.91 L437.34,91.81 L436.48,91.72 L435.61,91.64 L434.75,91.57 L433.89,91.50 L433.02,91.43 L432.16,91.37 L431.30,91.30 L430.44,91.24 L429.57,91.18 L428.71,91.12 L427.85,91.06 L426.99,91.00 L426.12,90.95 L425.26,90.90 L424.40,90.85 L423.54,90.81 L422.67,90.77 L421.81,90.73 L420.95,90.70 L420.09,90.67 L419.23,90.65 L418.36,90.64 L417.50,90.63 L416.64,90.61 L415.77,90.60 L414.91,90.60 L414.05,90.60 L413.19,90.61 L412.33,90.62 L411.46,90.63 L410.60,90.65 L409.74,90.68 L408.88,90.70 L408.01,90.73 L407.15,90.76 L406.29,90.79 L405.42,90.83 L404.56,90.86 L403.70,90.90 L402.84,90.93 L401.98,90.97 L401.11,91.00 L400.25,91.04 L399.39,91.05 L398.52,91.07 L397.66,91.09 L396.80,91.12 L395.94,91.15 L395.07,91.18 L394.21,91.22 L393.35,91.26 L392.49,91.30 L391.62,91.34 L390.76,91.38 L389.90,91.43 L389.04,91.47 L388.18,91.52 L387.31,91.56 L386.45,91.60 L385.59,91.64 L384.73,91.68 L383.86,91.71 L383.00,91.74 L382.14,91.77 L381.27,91.79 L380.41,91.81 L379.55,91.84 L378.69,91.86 L377.82,91.88 L376.96,91.90 L376.10,91.91 L375.24,91.93 L374.38,91.95 L373.51,91.97 L372.65,91.99 L371.79,92.01 L370.93,92.03 L370.06,92.05 L369.20,92.07 L368.34,92.10 L367.48,92.12 L366.61,92.15 L365.75,92.18 L364.89,92.18 L364.02,92.18 L363.16,92.18 L362.30,92.18 L361.44,92.19 L360.57,92.20 L359.71,92.20 L358.85,92.21 L357.99,92.22 L357.12,92.23 L356.26,92.24 L355.40,92.25 L354.54,92.27 L353.68,92.28 L352.81,92.30 L351.95,92.31 L351.09,92.33 L350.23,92.35 L349.36,92.37 L348.50,92.39 L347.64,92.48 L346.77,92.57 L345.91,92.66 L345.05,92.75 L344.19,92.84 L343.32,92.94 L342.46,93.04 L341.60,93.16 L340.74,93.27 L339.88,93.40 L339.01,93.54 L338.15,93.70 L337.29,93.86 L336.43,94.04 L335.56,94.23 L334.70,94.43 L333.84,94.64 L332.98,94.86 L332.11,95.09 L331.25,95.34 L330.39,95.60 L329.52,95.91 L328.66,96.25 L327.80,96.60 L326.94,96.97 L326.07,97.35 L325.21,97.72 L324.35,98.07 L323.49,98.40 L322.62,98.71 L321.76,98.99 L320.90,99.29 L320.04,99.58 L319.18,99.86 L318.31,100.14 L317.45,100.39 L316.59,100.63 L315.73,100.84 L314.86,101.02 L314.00,101.16 L313.14,101.28 L312.27,101.39 L311.41,101.49 L310.55,101.58 L309.69,101.66 L308.82,101.74 L307.96,101.82 L307.10,101.88 L306.24,101.95 L305.38,102.01 L304.51,102.07 L303.65,102.13 L302.79,102.19 L301.93,102.25 L301.06,102.31 L300.20,102.37 L299.34,102.44 L298.48,102.51 L297.61,102.59 L296.75,102.67 L295.89,102.76 L295.02,102.85 L294.16,102.94 L293.30,103.03 L292.44,103.12 L291.57,103.22 L290.71,103.32 L289.85,103.42 L288.99,103.52 L288.12,103.62 L287.26,103.72 L286.40,103.82 L285.54,103.93 L284.68,104.04 L283.81,104.14 L282.95,104.25 L282.09,104.36 L281.23,104.48 L280.36,104.59 L279.50,104.70Z" fill="#1f77b4" fill-opacity="0.2" stroke="#1f77b4" stroke-opacity="0.2" stroke-width="0.7"/>
<path d="M279.50,103.94 L280.36,103.83 L281.23,103.71 L282.09,103.59 L282.95,103.48 L283.81,103.36 L284.68,103.25 L285.54,103.14 L286.40,103.03 L287.26,102.92 L288.12,102.81 L288.99,102.70 L289.85,102.60 L290.71,102.50 L291.57,102.39 L292.44,102.29 L293.30,102.20 L294.16,102.10 L295.02,102.00 L295.89,101.91 L296.75,101.82 L297.61,101.73 L298.48,101.65 L299.34,101.57 L300.20,101.50 L301.06,101.43 L301.93,101.36 L302.79,101.30 L303.65,101.24 L304.51,101.17 L305.38,101.11 L306.24,101.04 L307.10,100.97 L307.96,100.90 L308.82,100.82 L309.69,100.74 L310.55,100.65 L311.41,100.55 L312.27,100.45 L313.14,100.34 L314.00,100.21 L314.86,100.07 L315.73,99.88 L316.59,99.67 L317.45,99.43 L318.31,99.16 L319.18,98.88 L320.04,98.60 L320.90,98.30 L321.76,98.00 L322.62,97.71 L323.49,97.40 L324.35,97.07 L325.21,96.71 L326.07,96.33 L326.94,95.95 L327.80,95.58 L328.66,95.22 L329.52,94.88 L330.39,94.56 L331.25,94.29 L332.11,94.05 L332.98,93.81 L333.84,93.58 L334.70,93.37 L335.56,93.16 L336.43,92.97 L337.29,92.78 L338.15,92.61 L339.01,92.46 L339.88,92.31 L340.74,92.18 L341.60,92.05 L342.46,91.94 L343.32,91.83 L344.19,91.73 L345.05,91.63 L345.91,91.53 L346.77,91.44 L347.64,91.34 L348.50,91.25 L349.36,91.11 L350.23,90.98 L351.09,90.85 L351.95,90.72 L352.81,90.59 L353.68,90.46 L354.54,90.33 L355.40,90.20 L356.26,90.08 L357.12,89.95 L357.99,89.83 L358.85,89.70 L359.71,89.58 L360.57,89.46 L361.44,89.34 L362.30,89.22 L363.16,89.11 L364.02,88.99 L364.89,88.87 L365.75,88.76 L366.61,88.67 L367.48,88.57 L368.34,88.48 L369.20,88.39 L370.06,88.30 L370.93,88.21 L371.79,88.13 L372.65,88.04 L373.51,87.96 L374.38,87.87 L375.24,87.79 L376.10,87.70 L376.96,87.62 L377.82,87.53 L378.69,87.44 L379.55,87.36 L380.41,87.27 L381.27,87.18 L382.14,87.09 L383.00,86.99 L383.86,86.90 L384.73,86.80 L385.59,86.70 L386.45,86.59 L387.31,86.48 L388.18,86.37 L389.04,86.26 L389.90,86.15 L390.76,86.04 L391.62,85.93 L392.49,85.82 L393.35,85.72 L394.21,85.61 L395.07,85.51 L395.94,85.41 L396.80,85.31 L397.66,85.22 L398.52,85.13 L399.39,85.04 L400.25,84.97 L401.11,84.90 L401.98,84.84 L402.84,84.77 L403.70,84.71 L404.56,84.65 L405.42,84.58 L406.29,84.52 L407.15,84.46 L408.01,84.40 L408.88,84.34 L409.74,84.29 L410.60,84.24 L411.46,84.19 L412.33,84.15 L413.19,84.11 L414.05,84.07 L414.91,84.04 L415.77,84.02 L416.64,84.00 L417.50,83.98 L418.36,83.98 L419.23,83.99 L420.09,84.00 L420.95,84.01 L421.81,84.03 L422.67,84.05 L423.54,84.08 L424.40,84.11 L425.26,84.15 L426.12,84.19 L426.99,84.23 L427.85,84.27 L428.71,84.32 L429.57,84.37 L430.44,84.42 L431.30,84.47 L432.16,84.52 L433.02,84.58 L433.89,84.63 L434.75,84.69 L435.61,84.75 L436.48,84.82 L437.34,84.90 L438.20,84.98 L439.06,85.08 L439.93,85.18 L440.79,85.29 L441.65,85.40 L442.51,85.52 L443.38,85.65 L444.24,85.77 L445.10,85.90 L445.96,86.04 L446.83,86.17 L447.69,86.30 L448.55,86.44 L449.41,86.57 L450.27,86.70 L451.14,86.83 L452.00,86.96 L452.86,87.09 L453.73,87.22 L454.59,87.35 L455.45,87.48 L456.31,87.61 L457.17,87.75 L458.04,87.89 L458.90,88.03 L459.76,88.17 L460.62,88.31 L461.49,88.45 L462.35,88.59 L463.21,88.74 L464.08,88.88 L464.94,89.03 L465.80,89.17 L466.66,89.32 L467.52,89.47 L468.39,89.61 L469.25,89.76 L470.11,89.91 L470.98,90.05 L471.84,90.20 L472.70,90.35 L473.56,90.50 L474.42,90.65 L475.29,90.80 L476.15,90.95 L477.01,91.10 L477.88,91.26 L478.74,91.41 L479.60,91.56 L480.46,91.72 L481.32,91.87 L482.19,92.03 L483.05,92.19 L483.91,92.34 L484.77,92.50 L485.64,92.66 L486.50,92.82 L486.50,98.05 L485.64,97.89 L484.77,97.72 L483.91,97.55 L483.05,97.39 L482.19,97.22 L481.32,97.06 L480.46,96.90 L479.60,96.73 L478.74,96.57 L477.88,96.41 L477.01,96.25 L476.15,96.09 L475.29,95.93 L474.42,95.77 L473.56,95.61 L472.70,95.45 L471.84,95.30 L470.98,95.14 L470.11,94.99 L469.25,94.83 L468.39,94.68 L467.52,94.52 L466.66,94.37 L465.80,94.21 L464.94,94.06 L464.08,93.91 L463.21,93.75 L462.35,93.60 L461.49,93.45 L460.62,93.30 L459.76,93.15 L458.90,93.00 L458.04,92.85 L457.17,92.71 L456.31,92.56 L455.45,92.42 L454.59,92.28 L453.73,92.14 L452.86,92.00 L452.00,91.87 L451.14,91.73 L450.27,91.60 L449.41,91.46 L448.55,91.31 L447.69,91.17 L446.83,91.03 L445.96,90.89 L445.10,90.75 L444.24,90.61 L443.38,90.47 L442.51,90.34 L441.65,90.21 L440.79,90.09 L439.93,89.98 L439.06,89.86 L438.20,89.76 L437.34,89.67 L436.48,89.58 L435.61,89.50 L434.75,89.43 L433.89,89.37 L433.02,89.31 L432.16,89.24 L431.30,89.18 L430.44,89.12 L429.57,89.06 L428.71,89.01 L427.85,88.95 L426.99,88.90 L426.12,88.85 L425.26,88.80 L424.40,88.76 L423.54,88.72 L422.67,88.68 L421.81,88.65 L420.95,88.63 L420.09,88.60 L419.23,88.58 L418.36,88.57 L417.50,88.56 L416.64,88.56 L415.77,88.56 L414.91,88.56 L414.05,88.57 L413.19,88.59 L412.33,88.61 L411.46,88.63 L410.60,88.66 L409.74,88.69 L408.88,88.73 L408.01,88.77 L407.15,88.81 L406.29,88.85 L405.42,88.89 L404.56,88.93 L403.70,88.98 L402.84,89.02 L401.98,89.07 L401.11,89.11 L400.25,89.15 L399.39,89.19 L398.52,89.22 L397.66,89.27 L396.80,89.31 L395.94,89.36 L395.07,89.42 L394.21,89.48 L393.35,89.54 L392.49,89.60 L391.62,89.66 L390.76,89.73 L389.90,89.79 L389.04,89.86 L388.18,89.92 L387.31,89.98 L386.45,90.05 L385.59,90.10 L384.73,90.16 L383.86,90.22 L383.00,90.27 L382.14,90.31 L381.27,90.36 L380.41,90.40 L379.55,90.45 L378.69,90.49 L377.82,90.53 L376.96,90.57 L376.10,90.61 L375.24,90.65 L374.38,90.69 L373.51,90.72 L372.65,90.76 L371.79,90.80 L370.93,90.84 L370.06,90.89 L369.20,90.93 L368.34,90.97 L367.48,91.02 L366.61,91.07 L365.75,91.12 L364.89,91.15 L364.02,91.19 L363.16,91.23 L362.30,91.27 L361.44,91.31 L360.57,91.35 L359.71,91.39 L358.85,91.43 L357.99,91.48 L357.12,91.52 L356.26,91.57 L355.40,91.62 L354.54,91.67 L353.68,91.72 L352.81,91.77 L351.95,91.82 L351.09,91.87 L350.23,91.92 L349.36,91.98 L348.50,92.03 L347.64,92.13 L346.77,92.22 L345.91,92.31 L345.05,92.40 L344.19,92.50 L343.32,92.60 L342.46,92.70 L341.60,92.81 L340.74,92.93 L339.88,93.06 L339.01,93.21 L338.15,93.36 L337.29,93.53 L336.43,93.71 L335.56,93.90 L334.70,94.10 L333.84,94.31 L332.98,94.54 L332.11,94.77 L331.25,95.01 L330.39,95.28 L329.52,95.59 L328.66,95.93 L327.80,96.29 L326.94,96.66 L326.07,97.03 L325.21,97.40 L324.35,97.76 L323.49,98.09 L322.62,98.40 L321.76,98.69 L320.90,98.98 L320.04,99.27 L319.18,99.56 L318.31,99.83 L317.45,100.09 L316.59,100.33 L315.73,100.54 L314.86,100.72 L314.00,100.87 L313.14,100.99 L312.27,101.10 L311.41,101.20 L310.55,101.29 L309.69,101.38 L308.82,101.46 L307.96,101.53 L307.10,101.60 L306.24,101.67 L305.38,101.73 L304.51,101.79 L303.65,101.85 L302.79,101.91 L301.93,101.97 L301.06,102.04 L300.20,102.10 L299.34,102.17 L298.48,102.24 L297.61,102.32 L296.75,102.41 L295.89,102.50 L295.02,102.59 L294.16,102.68 L293.30,102.77 L292.44,102.87 L291.57,102.96 L290.71,103.06 L289.85,103.16 L288.99,103.26 L288.12,103.37 L287.26,103.47 L286.40,103.58 L285.54,103.68 L284.68,103.79 L283.81,103.90 L282.95,104.01 L282.09,104.12 L281.23,104.24 L280.36,104.35 L279.50,104.47Z" fill="#1f77b4" fill-opacity="0.2" stroke="#1f77b4" stroke-opacity="0.2" stroke-width="0.7"/>
<path d="M279.50,103.68 L280.36,103.56 L281.23,103.44 L282.09,103.32 L282.95,103.21 L283.81,103.09 L284.68,102.98 L285.54,102.86 L286.40,102.75 L287.26,102.64 L288.12,102.53 L288.99,102.42 L289.85,102.32 L290.71,102.21 L291.57,102.11 L292.44,102.01 L293.30,101.91 L294.16,101.81 L295.02,101.71 L295.89,101.62 L296.75,101.52 L297.61,101.43 L298.48,101.35 L299.34,101.27 L300.20,101.20 L301.06,101.13 L301.93,101.06 L302.79,100.99 L303.65,100.93 L304.51,100.86 L305.38,100.80 L306.24,100.73 L307.10,100.66 L307.96,100.58 L308.82,100.50 L309.69,100.42 L310.55,100.33 L311.41,100.23 L312.27,100.13 L313.14,100.01 L314.00,99.89 L314.86,99.74 L315.73,99.55 L316.59,99.33 L317.45,99.09 L318.31,98.83 L319.18,98.55 L320.04,98.26 L320.90,97.96 L321.76,97.66 L322.62,97.37 L323.49,97.06 L324.35,96.72 L325.21,96.36 L326.07,95.98 L326.94,95.60 L327.80,95.22 L328.66,94.86 L329.52,94.52 L330.39,94.21 L331.25,93.93 L332.11,93.68 L332.98,93.45 L333.84,93.22 L334.70,93.00 L335.56,92.79 L336.43,92.60 L337.29,92.41 L338.15,92.24 L339.01,92.08 L339.88,91.94 L340.74,91.80 L341.60,91.68 L342.46,91.56 L343.32,91.45 L344.19,91.34 L345.05,91.24 L345.91,91.14 L346.77,91.05 L347.64,90.95 L348.50,90.86 L349.36,90.68 L350.23,90.51 L351.09,90.34 L351.95,90.17 L352.81,90.00 L353.68,89.83 L354.54,89.66 L355.40,89.50 L356.26,89.33 L357.12,89.17 L357.99,89.00 L358.85,88.84 L359.71,88.68 L360.57,88.52 L361.44,88.36 L362.30,88.20 L363.16,88.05 L364.02,87.89 L364.89,87.74 L365.75,87.58 L366.61,87.46 L367.48,87.35 L368.34,87.23 L369.20,87.12 L370.06,87.01 L370.93,86.90 L371.79,86.79 L372.65,86.68 L373.51,86.57 L374.38,86.46 L375.24,86.36 L376.10,86.25 L376.96,86.14 L377.82,86.03 L378.69,85.92 L379.55,85.81 L380.41,85.70 L381.27,85.59 L382.14,85.47 L383.00,85.36 L383.86,85.24 L384.73,85.12 L385.59,84.99 L386.45,84.86 L387.31,84.73 L388.18,84.60 L389.04,84.47 L389.90,84.33 L390.76,84.20 L391.62,84.07 L392.49,83.93 L393.35,83.80 L394.21,83.68 L395.07,83.55 L395.94,83.43 L396.80,83.31 L397.66,83.19 L398.52,83.08 L399.39,82.97 L400.25,82.87 L401.11,82.80 L401.98,82.73 L402.84,82.65 L403.70,82.58 L404.56,82.50 L405.42,82.43 L406.29,82.36 L407.15,82.29 L408.01,82.22 L408.88,82.15 L409.74,82.09 L410.60,82.03 L411.46,81.97 L412.33,81.91 L413.19,81.86 L414.05,81.82 L414.91,81.78 L415.77,81.74 L416.64,81.72 L417.50,81.69 L418.36,81.69 L419.23,81.69 L420.09,81.69 L420.95,81.70 L421.81,81.72 L422.67,81.74 L423.54,81.76 L424.40,81.79 L425.26,81.82 L426.12,81.86 L426.99,81.89 L427.85,81.93 L428.71,81.98 L429.57,82.02 L430.44,82.07 L431.30,82.12 L432.16,82.16 L433.02,82.21 L433.89,82.26 L434.75,82.31 L435.61,82.37 L436.48,82.44 L437.34,82.51 L438.20,82.59 L439.06,82.69 L439.93,82.78 L440.79,82.89 L441.65,83.00 L442.51,83.11 L443.38,83.23 L444.24,83.36 L445.10,83.48 L445.96,83.61 L446.83,83.74 L447.69,83.87 L448.55,84.00 L449.41,84.13 L450.27,84.26 L451.14,84.38 L452.00,84.51 L452.86,84.63 L453.73,84.75 L454.59,84.88 L455.45,85.01 L456.31,85.14 L457.17,85.27 L458.04,85.41 L458.90,85.54 L459.76,85.68 L460.62,85.81 L461.49,85.95 L462.35,86.09 L463.21,86.23 L464.08,86.37 L464.94,86.51 L465.80,86.65 L466.66,86.80 L467.52,86.94 L468.39,87.08 L469.25,87.22 L470.11,87.37 L470.98,87.51 L471.84,87.65 L472.70,87.80 L473.56,87.94 L474.42,88.09 L475.29,88.23 L476.15,88.38 L477.01,88.53 L477.88,88.68 L478.74,88.83 L479.60,88.98 L480.46,89.13 L481.32,89.28 L482.19,89.43 L483.05,89.58 L483.91,89.74 L484.77,89.89 L485.64,90.05 L486.50,90.20 L486.50,100.67 L485.64,100.50 L484.77,100.33 L483.91,100.16 L483.05,99.99 L482.19,99.82 L481.32,99.65 L480.46,99.49 L479.60,99.32 L478.74,99.15 L477.88,98.99 L477.01,98.82 L476.15,98.66 L475.29,98.49 L474.42,98.33 L473.56,98.17 L472.70,98.01 L471.84,97.85 L470.98,97.69 L470.11,97.53 L469.25,97.37 L468.39,97.21 L467.52,97.05 L466.66,96.89 L465.80,96.73 L464.94,96.58 L464.08,96.42 L463.21,96.26 L462.35,96.10 L461.49,95.95 L460.62,95.79 L459.76,95.64 L458.90,95.49 L458.04,95.34 L457.17,95.19 L456.31,95.04 L455.45,94.89 L454.59,94.75 L453.73,94.60 L452.86,94.46 L452.00,94.32 L451.14,94.18 L450.27,94.04 L449.41,93.90 L448.55,93.75 L447.69,93.61 L446.83,93.46 L445.96,93.31 L445.10,93.17 L444.24,93.03 L443.38,92.89 L442.51,92.75 L441.65,92.62 L440.79,92.49 L439.93,92.37 L439.06,92.26 L438.20,92.15 L437.34,92.05 L436.48,91.96 L435.61,91.88 L434.75,91.80 L433.89,91.74 L433.02,91.67 L432.16,91.60 L431.30,91.54 L430.44,91.48 L429.57,91.41 L428.71,91.35 L427.85,91.29 L426.99,91.24 L426.12,91.18 L425.26,91.13 L424.40,91.08 L423.54,91.04 L422.67,91.00 L421.81,90.96 L420.95,90.93 L420.09,90.91 L419.23,90.88 L418.36,90.87 L417.50,90.86 L416.64,90.84 L415.77,90.83 L414.91,90.82 L414.05,90.82 L413.19,90.83 L412.33,90.84 L411.46,90.86 L410.60,90.87 L409.74,90.90 L408.88,90.92 L408.01,90.95 L407.15,90.98 L406.29,91.01 L405.42,91.04 L404.56,91.08 L403.70,91.11 L402.84,91.15 L401.98,91.18 L401.11,91.21 L400.25,91.25 L399.39,91.26 L398.52,91.27 L397.66,91.29 L396.80,91.32 L395.94,91.34 L395.07,91.38 L394.21,91.41 L393.35,91.45 L392.49,91.49 L391.62,91.53 L390.76,91.57 L389.90,91.61 L389.04,91.65 L388.18,91.69 L387.31,91.73 L386.45,91.77 L385.59,91.81 L384.73,91.84 L383.86,91.87 L383.00,91.90 L382.14,91.93 L381.27,91.95 L380.41,91.97 L379.55,91.99 L378.69,92.01 L377.82,92.03 L376.96,92.04 L376.10,92.06 L375.24,92.08 L374.38,92.09 L373.51,92.11 L372.65,92.12 L371.79,92.14 L370.93,92.16 L370.06,92.18 L369.20,92.20 L368.34,92.22 L367.48,92.24 L366.61,92.27 L365.75,92.30 L364.89,92.29 L364.02,92.29 L363.16,92.29 L362.30,92.29 L361.44,92.29 L360.57,92.29 L359.71,92.29 L358.85,92.30 L357.99,92.30 L357.12,92.31 L356.26,92.32 L355.40,92.32 L354.54,92.33 L353.68,92.34 L352.81,92.36 L351.95,92.37 L351.09,92.38 L350.23,92.39 L349.36,92.41 L348.50,92.43 L347.64,92.52 L346.77,92.61 L345.91,92.70 L345.05,92.79 L344.19,92.88 L343.32,92.98 L342.46,93.08 L341.60,93.19 L340.74,93.31 L339.88,93.44 L339.01,93.58 L338.15,93.73 L337.29,93.90 L336.43,94.08 L335.56,94.27 L334.70,94.47 L333.84,94.68 L332.98,94.90 L332.11,95.13 L331.25,95.37 L330.39,95.64 L329.52,95.95 L328.66,96.28 L327.80,96.64 L326.94,97.01 L326.07,97.38 L325.21,97.75 L324.35,98.11 L323.49,98.44 L322.62,98.74 L321.76,99.03 L320.90,99.32 L320.04,99.61 L319.18,99.90 L318.31,100.17 L317.45,100.43 L316.59,100.66 L315.73,100.87 L314.86,101.05 L314.00,101.20 L313.14,101.31 L312.27,101.42 L311.41,101.52 L310.55,101.61 L309.69,101.70 L308.82,101.77 L307.96,101.85 L307.10,101.91 L306.24,101.98 L305.38,102.04 L304.51,102.10 L303.65,102.16 L302.79,102.22 L301.93,102.28 L301.06,102.34 L300.20,102.40 L299.34,102.47 L298.48,102.54 L297.61,102.62 L296.75,102.70 L295.89,102.79 L295.02,102.88 L294.16,102.97 L293.30,103.06 L292.44,103.15 L291.57,103.25 L290.71,103.35 L289.85,103.44 L288.99,103.54 L288.12,103.65 L287.26,103.75 L286.40,103.85 L285.54,103.96 L284.68,104.06 L283.81,104.17 L282.95,104.28 L282.09,104.39 L281.23,104.50 L280.36,104.62 L279.50,104.73Z" fill="#ff7f0e" fill-opacity="0.2" stroke="#ff7f0e" stroke-opacity="0.2" stroke-width="0.7"/>
<path d="M279.50,103.92 L280.36,103.80 L281.23,103.68 L282.09,103.56 L282.95,103.45 L283.81,103.33 L284.68,103.22 L285.54,103.11 L286.40,103.00 L287.26,102.89 L288.12,102.78 L288.99,102.68 L289.85,102.57 L290.71,102.47 L291.57,102.37 L292.44,102.27 L293.30,102.17 L294.16,102.07 L295.02,101.97 L295.89,101.88 L296.75,101.79 L297.61,101.70 L298.48,101.62 L299.34,101.54 L300.20,101.47 L301.06,101.40 L301.93,101.33 L302.79,101.27 L303.65,101.21 L304.51,101.14 L305.38,101.08 L306.24,101.01 L307.10,100.94 L307.96,100.87 L308.82,100.79 L309.69,100.71 L310.55,100.62 L311.41,100.52 L312.27,100.42 L313.14,100.30 L314.00,100.18 L314.86,100.03 L315.73,99.85 L316.59,99.63 L317.45,99.39 L318.31,99.13 L319.18,98.85 L320.04,98.56 L320.90,98.27 L321.76,97.97 L322.62,97.68 L323.49,97.37 L324.35,97.03 L325.21,96.67 L326.07,96.30 L326.94,95.92 L327.80,95.54 L328.66,95.18 L329.52,94.84 L330.39,94.53 L331.25,94.26 L332.11,94.01 L332.98,93.77 L333.84,93.55 L334.70,93.33 L335.56,93.12 L336.43,92.93 L337.29,92.75 L338.15,92.58 L339.01,92.42 L339.88,92.27 L340.74,92.14 L341.60,92.02 L342.46,91.90 L343.32,91.79 L344.19,91.69 L345.05,91.59 L345.91,91.49 L346.77,91.40 L347.64,91.30 L348.50,91.21 L349.36,91.07 L350.23,90.93 L351.09,90.80 L351.95,90.66 L352.81,90.53 L353.68,90.40 L354.54,90.26 L355.40,90.13 L356.26,90.00 L357.12,89.87 L357.99,89.75 L358.85,89.62 L359.71,89.49 L360.57,89.37 L361.44,89.24 L362.30,89.12 L363.16,89.00 L364.02,88.88 L364.89,88.76 L365.75,88.64 L366.61,88.55 L367.48,88.45 L368.34,88.36 L369.20,88.26 L370.06,88.17 L370.93,88.08 L371.79,87.99 L372.65,87.91 L373.51,87.82 L374.38,87.73 L375.24,87.64 L376.10,87.56 L376.96,87.47 L377.82,87.38 L378.69,87.29 L379.55,87.20 L380.41,87.11 L381.27,87.02 L382.14,86.93 L383.00,86.83 L383.86,86.73 L384.73,86.63 L385.59,86.52 L386.45,86.42 L387.31,86.31 L388.18,86.20 L389.04,86.08 L389.90,85.97 L390.76,85.86 L391.62,85.75 L392.49,85.63 L393.35,85.52 L394.21,85.42 L395.07,85.31 L395.94,85.21 L396.80,85.11 L397.66,85.01 L398.52,84.92 L399.39,84.84 L400.25,84.76 L401.11,84.69 L401.98,84.63 L402.84,84.56 L403.70,84.50 L404.56,84.43 L405.42,84.37 L406.29,84.30 L407.15,84.24 L408.01,84.18 L408.88,84.12 L409.74,84.07 L410.60,84.02 L411.46,83.97 L412.33,83.92 L413.19,83.88 L414.05,83.85 L414.91,83.81 L415.77,83.79 L416.64,83.77 L417.50,83.75 L418.36,83.75 L419.23,83.76 L420.09,83.77 L420.95,83.78 L421.81,83.80 L422.67,83.82 L423.54,83.85 L424.40,83.88 L425.26,83.92 L426.12,83.96 L426.99,84.00 L427.85,84.04 L428.71,84.09 L429.57,84.13 L430.44,84.18 L431.30,84.24 L432.16,84.29 L433.02,84.34 L433.89,84.40 L434.75,84.45 L435.61,84.51 L436.48,84.58 L437.34,84.66 L438.20,84.74 L439.06,84.84 L439.93,84.94 L440.79,85.05 L441.65,85.16 L442.51,85.28 L443.38,85.41 L444.24,85.53 L445.10,85.66 L445.96,85.79 L446.83,85.93 L447.69,86.06 L448.55,86.19 L449.41,86.33 L450.27,86.46 L451.14,86.59 L452.00,86.72 L452.86,86.84 L453.73,86.97 L454.59,87.10 L455.45,87.23 L456.31,87.37 L457.17,87.50 L458.04,87.64 L458.90,87.78 L459.76,87.92 L460.62,88.06 L461.49,88.20 L462.35,88.34 L463.21,88.49 L464.08,88.63 L464.94,88.78 L465.80,88.92 L466.66,89.07 L467.52,89.21 L468.39,89.36 L469.25,89.51 L470.11,89.65 L470.98,89.80 L471.84,89.95 L472.70,90.09 L473.56,90.24 L474.42,90.39 L475.29,90.54 L476.15,90.69 L477.01,90.85 L477.88,91.00 L478.74,91.15 L479.60,91.30 L480.46,91.46 L481.32,91.61 L482.19,91.77 L483.05,91.93 L483.91,92.08 L484.77,92.24 L485.64,92.40 L486.50,92.56 L486.50,98.32 L485.64,98.15 L484.77,97.98 L483.91,97.81 L483.05,97.65 L482.19,97.48 L481.32,97.32 L480.46,97.15 L479.60,96.99 L478.74,96.83 L477.88,96.67 L477.01,96.51 L476.15,96.34 L475.29,96.19 L474.42,96.03 L473.56,95.87 L472.70,95.71 L471.84,95.55 L470.98,95.40 L470.11,95.24 L469.25,95.08 L468.39,94.93 L467.52,94.77 L466.66,94.62 L465.80,94.47 L464.94,94.31 L464.08,94.16 L463.21,94.00 L462.35,93.85 L461.49,93.70 L460.62,93.55 L459.76,93.40 L458.90,93.25 L458.04,93.10 L457.17,92.96 L456.31,92.81 L455.45,92.67 L454.59,92.53 L453.73,92.39 L452.86,92.25 L452.00,92.12 L451.14,91.98 L450.27,91.84 L449.41,91.70 L448.55,91.56 L447.69,91.42 L446.83,91.27 L445.96,91.13 L445.10,90.99 L444.24,90.85 L443.38,90.72 L442.51,90.58 L441.65,90.46 L440.79,90.33 L439.93,90.21 L439.06,90.10 L438.20,90.00 L437.34,89.90 L436.48,89.82 L435.61,89.74 L434.75,89.67 L433.89,89.61 L433.02,89.54 L432.16,89.48 L431.30,89.42 L430.44,89.36 L429.57,89.30 L428.71,89.24 L427.85,89.19 L426.99,89.13 L426.12,89.08 L425.26,89.04 L424.40,88.99 L423.54,88.95 L422.67,88.92 L421.81,88.88 L420.95,88.86 L420.09,88.83 L419.23,88.81 L418.36,88.80 L417.50,88.79 L416.64,88.79 L415.77,88.78 L414.91,88.79 L414.05,88.80 L413.19,88.81 L412.33,88.83 L411.46,88.86 L410.60,88.88 L409.74,88.91 L408.88,88.95 L408.01,88.98 L407.15,89.02 L406.29,89.06 L405.42,89.10 L404.56,89.15 L403.70,89.19 L402.84,89.23 L401.98,89.28 L401.11,89.32 L400.25,89.36 L399.39,89.39 L398.52,89.43 L397.66,89.47 L396.80,89.51 L395.94,89.56 L395.07,89.62 L394.21,89.67 L393.35,89.73 L392.49,89.79 L391.62,89.85 L390.76,89.91 L389.90,89.97 L389.04,90.04 L388.18,90.10 L387.31,90.16 L386.45,90.22 L385.59,90.28 L384.73,90.33 L383.86,90.38 L383.00,90.43 L382.14,90.48 L381.27,90.52 L380.41,90.56 L379.55,90.60 L378.69,90.64 L377.82,90.68 L376.96,90.72 L376.10,90.75 L375.24,90.79 L374.38,90.83 L373.51,90.86 L372.65,90.90 L371.79,90.94 L370.93,90.98 L370.06,91.02 L369.20,91.06 L368.34,91.10 L367.48,91.14 L366.61,91.19 L365.75,91.23 L364.89,91.27 L364.02,91.30 L363.16,91.33 L362.30,91.37 L361.44,91.40 L360.57,91.44 L359.71,91.48 L358.85,91.52 L357.99,91.56 L357.12,91.60 L356.26,91.64 L355.40,91.69 L354.54,91.73 L353.68,91.78 L352.81,91.82 L351.95,91.87 L351.09,91.92 L350.23,91.97 L349.36,92.02 L348.50,92.07 L347.64,92.16 L346.77,92.26 L345.91,92.35 L345.05,92.44 L344.19,92.54 L343.32,92.63 L342.46,92.74 L341.60,92.85 L340.74,92.97 L339.88,93.10 L339.01,93.24 L338.15,93.40 L337.29,93.56 L336.43,93.74 L335.56,93.93 L334.70,94.14 L333.84,94.35 L332.98,94.57 L332.11,94.80 L331.25,95.05 L330.39,95.32 L329.52,95.62 L328.66,95.96 L327.80,96.32 L326.94,96.69 L326.07,97.07 L325.21,97.44 L324.35,97.79 L323.49,98.13 L322.62,98.43 L321.76,98.72 L320.90,99.01 L320.04,99.31 L319.18,99.59 L318.31,99.87 L317.45,100.13 L316.59,100.36 L315.73,100.58 L314.86,100.76 L314.00,100.90 L313.14,101.02 L312.27,101.13 L311.41,101.23 L310.55,101.32 L309.69,101.41 L308.82,101.49 L307.96,101.56 L307.10,101.63 L306.24,101.70 L305.38,101.76 L304.51,101.82 L303.65,101.88 L302.79,101.94 L301.93,102.00 L301.06,102.07 L300.20,102.13 L299.34,102.20 L298.48,102.27 L297.61,102.35 L296.75,102.44 L295.89,102.52 L295.02,102.61 L294.16,102.71 L293.30,102.80 L292.44,102.90 L291.57,102.99 L290.71,103.09 L289.85,103.19 L288.99,103.29 L288.12,103.39 L287.26,103.50 L286.40,103.60 L285.54,103.71 L284.68,103.82 L283.81,103.93 L282.95,104.04 L282.09,104.15 L281.23,104.26 L280.36,104.38 L279.50,104.49Z" fill="#ff7f0e" fill-opacity="0.2" stroke="#ff7f0e" stroke-opacity="0.2" stroke-width="0.7"/>
<path d="M279.50,104.08 L280.36,103.96 L281.23,103.84 L282.09,103.72 L282.95,103.61 L283.81,103.50 L284.68,103.38 L285.54,103.27 L286.40,103.16 L287.26,103.06 L288.12,102.95 L288.99,102.84 L289.85,102.74 L290.71,102.64 L291.57,102.54 L292.44,102.44 L293.30,102.34 L294.16,102.24 L295.02,102.15 L295.89,102.06 L296.75,101.96 L297.61,101.88 L298.48,101.80 L299.34,101.72 L300.20,101.65 L301.06,101.58 L301.93,101.52 L302.79,101.45 L303.65,101.39 L304.51,101.33 L305.38,101.26 L306.24,101.20 L307.10,101.13 L307.96,101.06 L308.82,100.98 L309.69,100.90 L310.55,100.81 L311.41,100.72 L312.27,100.61 L313.14,100.50 L314.00,100.38 L314.86,100.23 L315.73,100.05 L316.59,99.83 L317.45,99.59 L318.31,99.33 L319.18,99.05 L320.04,98.76 L320.90,98.47 L321.76,98.17 L322.62,97.88 L323.49,97.58 L324.35,97.24 L325.21,96.88 L326.07,96.51 L326.94,96.13 L327.80,95.75 L328.66,95.39 L329.52,95.05 L330.39,94.74 L331.25,94.47 L332.11,94.23 L332.98,93.99 L333.84,93.76 L334.70,93.55 L335.56,93.34 L336.43,93.15 L337.29,92.97 L338.15,92.80 L339.01,92.64 L339.88,92.50 L340.74,92.37 L341.60,92.24 L342.46,92.13 L343.32,92.02 L344.19,91.92 L345.05,91.82 L345.91,91.73 L346.77,91.63 L347.64,91.54 L348.50,91.44 L349.36,91.33 L350.23,91.22 L351.09,91.10 L351.95,90.99 L352.81,90.88 L353.68,90.77 L354.54,90.66 L355.40,90.56 L356.26,90.45 L357.12,90.34 L357.99,90.24 L358.85,90.14 L359.71,90.03 L360.57,89.93 L361.44,89.83 L362.30,89.73 L363.16,89.64 L364.02,89.54 L364.89,89.44 L365.75,89.35 L366.61,89.27 L367.48,89.18 L368.34,89.10 L369.20,89.02 L370.06,88.95 L370.93,88.87 L371.79,88.80 L372.65,88.72 L373.51,88.65 L374.38,88.57 L375.24,88.50 L376.10,88.43 L376.96,88.35 L377.82,88.28 L378.69,88.21 L379.55,88.13 L380.41,88.05 L381.27,87.97 L382.14,87.89 L383.00,87.81 L383.86,87.73 L384.73,87.64 L385.59,87.55 L386.45,87.45 L387.31,87.36 L388.18,87.26 L389.04,87.16 L389.90,87.06 L390.76,86.96 L391.62,86.86 L392.49,86.77 L393.35,86.67 L394.21,86.58 L395.07,86.48 L395.94,86.40 L396.80,86.31 L397.66,86.23 L398.52,86.15 L399.39,86.08 L400.25,86.01 L401.11,85.95 L401.98,85.90 L402.84,85.84 L403.70,85.78 L404.56,85.72 L405.42,85.66 L406.29,85.60 L407.15,85.55 L408.01,85.49 L408.88,85.44 L409.74,85.39 L410.60,85.34 L411.46,85.30 L412.33,85.26 L413.19,85.23 L414.05,85.20 L414.91,85.17 L415.77,85.15 L416.64,85.14 L417.50,85.13 L418.36,85.13 L419.23,85.14 L420.09,85.15 L420.95,85.16 L421.81,85.19 L422.67,85.21 L423.54,85.24 L424.40,85.28 L425.26,85.31 L426.12,85.35 L426.99,85.40 L427.85,85.44 L428.71,85.49 L429.57,85.54 L430.44,85.60 L431.30,85.65 L432.16,85.70 L433.02,85.76 L433.89,85.82 L434.75,85.87 L435.61,85.94 L436.48,86.01 L437.34,86.09 L438.20,86.18 L439.06,86.28 L439.93,86.38 L440.79,86.49 L441.65,86.61 L442.51,86.73 L443.38,86.85 L444.24,86.98 L445.10,87.12 L445.96,87.25 L446.83,87.39 L447.69,87.52 L448.55,87.66 L449.41,87.79 L450.27,87.93 L451.14,88.06 L452.00,88.19 L452.86,88.32 L453.73,88.45 L454.59,88.58 L455.45,88.72 L456.31,88.85 L457.17,88.99 L458.04,89.13 L458.90,89.27 L459.76,89.41 L460.62,89.56 L461.49,89.70 L462.35,89.85 L463.21,89.99 L464.08,90.14 L464.94,90.29 L465.80,90.43 L466.66,90.58 L467.52,90.73 L468.39,90.88 L469.25,91.03 L470.11,91.18 L470.98,91.32 L471.84,91.47 L472.70,91.63 L473.56,91.78 L474.42,91.93 L475.29,92.08 L476.15,92.24 L477.01,92.39 L477.88,92.54 L478.74,92.70 L479.60,92.86 L480.46,93.01 L481.32,93.17 L482.19,93.33 L483.05,93.49 L483.91,93.65 L484.77,93.81 L485.64,93.97 L486.50,94.13 L486.50,96.75 L485.64,96.58 L484.77,96.42 L483.91,96.25 L483.05,96.09 L482.19,95.92 L481.32,95.76 L480.46,95.60 L479.60,95.44 L478.74,95.28 L477.88,95.12 L477.01,94.96 L476.15,94.80 L475.29,94.65 L474.42,94.49 L473.56,94.33 L472.70,94.18 L471.84,94.02 L470.98,93.87 L470.11,93.72 L469.25,93.56 L468.39,93.41 L467.52,93.26 L466.66,93.11 L465.80,92.95 L464.94,92.80 L464.08,92.65 L463.21,92.50 L462.35,92.35 L461.49,92.20 L460.62,92.05 L459.76,91.90 L458.90,91.76 L458.04,91.61 L457.17,91.47 L456.31,91.33 L455.45,91.19 L454.59,91.05 L453.73,90.91 L452.86,90.78 L452.00,90.64 L451.14,90.51 L450.27,90.37 L449.41,90.24 L448.55,90.10 L447.69,89.96 L446.83,89.81 L445.96,89.68 L445.10,89.54 L444.24,89.40 L443.38,89.27 L442.51,89.14 L441.65,89.01 L440.79,88.89 L439.93,88.78 L439.06,88.67 L438.20,88.57 L437.34,88.47 L436.48,88.39 L435.61,88.31 L434.75,88.25 L433.89,88.18 L433.02,88.12 L432.16,88.06 L431.30,88.01 L430.44,87.95 L429.57,87.89 L428.71,87.84 L427.85,87.78 L426.99,87.73 L426.12,87.69 L425.26,87.64 L424.40,87.60 L423.54,87.56 L422.67,87.53 L421.81,87.50 L420.95,87.47 L420.09,87.45 L419.23,87.43 L418.36,87.42 L417.50,87.42 L416.64,87.42 L415.77,87.42 L414.91,87.43 L414.05,87.45 L413.19,87.47 L412.33,87.49 L411.46,87.52 L410.60,87.56 L409.74,87.59 L408.88,87.63 L408.01,87.67 L407.15,87.72 L406.29,87.76 L405.42,87.81 L404.56,87.86 L403.70,87.91 L402.84,87.96 L401.98,88.01 L401.11,88.06 L400.25,88.11 L399.39,88.15 L398.52,88.20 L397.66,88.25 L396.80,88.31 L395.94,88.38 L395.07,88.44 L394.21,88.51 L393.35,88.58 L392.49,88.66 L391.62,88.73 L390.76,88.81 L389.90,88.88 L389.04,88.96 L388.18,89.03 L387.31,89.11 L386.45,89.18 L385.59,89.25 L384.73,89.32 L383.86,89.39 L383.00,89.45 L382.14,89.51 L381.27,89.56 L380.41,89.62 L379.55,89.67 L378.69,89.73 L377.82,89.78 L376.96,89.83 L376.10,89.88 L375.24,89.93 L374.38,89.98 L373.51,90.03 L372.65,90.08 L371.79,90.13 L370.93,90.19 L370.06,90.24 L369.20,90.29 L368.34,90.35 L367.48,90.41 L366.61,90.47 L365.75,90.53 L364.89,90.58 L364.02,90.64 L363.16,90.70 L362.30,90.76 L361.44,90.81 L360.57,90.88 L359.71,90.94 L358.85,91.00 L357.99,91.06 L357.12,91.13 L356.26,91.20 L355.40,91.26 L354.54,91.33 L353.68,91.40 L352.81,91.47 L351.95,91.54 L351.09,91.61 L350.23,91.69 L349.36,91.76 L348.50,91.84 L347.64,91.93 L346.77,92.02 L345.91,92.11 L345.05,92.21 L344.19,92.30 L343.32,92.41 L342.46,92.51 L341.60,92.62 L340.74,92.75 L339.88,92.88 L339.01,93.02 L338.15,93.17 L337.29,93.34 L336.43,93.52 L335.56,93.71 L334.70,93.92 L333.84,94.13 L332.98,94.35 L332.11,94.59 L331.25,94.83 L330.39,95.10 L329.52,95.41 L328.66,95.75 L327.80,96.11 L326.94,96.48 L326.07,96.86 L325.21,97.23 L324.35,97.59 L323.49,97.92 L322.62,98.23 L321.76,98.52 L320.90,98.81 L320.04,99.10 L319.18,99.39 L318.31,99.67 L317.45,99.93 L316.59,100.16 L315.73,100.38 L314.86,100.56 L314.00,100.70 L313.14,100.83 L312.27,100.94 L311.41,101.04 L310.55,101.13 L309.69,101.22 L308.82,101.30 L307.96,101.37 L307.10,101.44 L306.24,101.51 L305.38,101.57 L304.51,101.64 L303.65,101.70 L302.79,101.76 L301.93,101.82 L301.06,101.88 L300.20,101.95 L299.34,102.02 L298.48,102.09 L297.61,102.17 L296.75,102.26 L295.89,102.35 L295.02,102.44 L294.16,102.53 L293.30,102.63 L292.44,102.72 L291.57,102.82 L290.71,102.92 L289.85,103.02 L288.99,103.12 L288.12,103.23 L287.26,103.33 L286.40,103.44 L285.54,103.55 L284.68,103.66 L283.81,103.77 L282.95,103.88 L282.09,103.99 L281.23,104.11 L280.36,104.22 L279.50,104.34Z" fill="#ff7f0e" fill-opacity="0.2" stroke="#ff7f0e" stroke-opacity="0.2" stroke-width="0.7"/>
<path d="M279.50,104.99 L280.36,104.87 L281.23,104.76 L282.09,104.64 L282.95,104.53 L283.81,104.42 L284.68,104.31 L285.54,104.20 L286.40,104.09 L287.26,103.98 L288.12,103.87 L288.99,103.77 L289.85,103.67 L290.71,103.57 L291.57,103.46 L292.44,103.37 L293.30,103.27 L294.16,103.17 L295.02,103.08 L295.89,102.99 L296.75,102.90 L297.61,102.81 L298.48,102.73 L299.34,102.66 L300.20,102.59 L301.06,102.52 L301.93,102.45 L302.79,102.39 L303.65,102.33 L304.51,102.27 L305.38,102.20 L306.24,102.14 L307.10,102.07 L307.96,102.00 L308.82,101.93 L309.69,101.84 L310.55,101.76 L311.41,101.66 L312.27,101.56 L313.14,101.45 L314.00,101.33 L314.86,101.18 L315.73,101.00 L316.59,100.78 L317.45,100.54 L318.31,100.28 L319.18,100.01 L320.04,99.72 L320.90,99.43 L321.76,99.13 L322.62,98.84 L323.49,98.53 L324.35,98.20 L325.21,97.84 L326.07,97.47 L326.94,97.09 L327.80,96.72 L328.66,96.36 L329.52,96.02 L330.39,95.71 L331.25,95.44 L332.11,95.19 L332.98,94.96 L333.84,94.73 L334.70,94.52 L335.56,94.31 L336.43,94.12 L337.29,93.94 L338.15,93.77 L339.01,93.62 L339.88,93.47 L340.74,93.34 L341.60,93.22 L342.46,93.11 L343.32,93.00 L344.19,92.90 L345.05,92.80 L345.91,92.71 L346.77,92.61 L347.64,92.52 L348.50,92.43 L349.36,91.42 L350.23,91.32 L351.09,91.23 L351.95,91.14 L352.81,91.05 L353.68,90.96 L354.54,90.87 L355.40,90.78 L356.26,90.69 L357.12,90.61 L357.99,90.52 L358.85,90.44 L359.71,90.36 L360.57,90.27 L361.44,90.19 L362.30,90.11 L363.16,90.04 L364.02,89.96 L364.89,89.88 L365.75,89.81 L366.61,89.74 L367.48,89.66 L368.34,89.60 L369.20,89.53 L370.06,89.46 L370.93,89.40 L371.79,89.33 L372.65,89.27 L373.51,89.21 L374.38,89.15 L375.24,89.09 L376.10,89.02 L376.96,88.96 L377.82,88.90 L378.69,88.84 L379.55,88.77 L380.41,88.71 L381.27,88.64 L382.14,88.57 L383.00,88.50 L383.86,88.43 L384.73,88.35 L385.59,88.27 L386.45,88.19 L387.31,88.10 L388.18,88.02 L389.04,87.93 L389.90,87.84 L390.76,87.75 L391.62,87.67 L392.49,87.58 L393.35,87.50 L394.21,87.41 L395.07,87.33 L395.94,87.25 L396.80,87.18 L397.66,87.11 L398.52,87.04 L399.39,86.98 L400.25,86.93 L401.11,86.88 L401.98,86.82 L402.84,86.77 L403.70,86.71 L404.56,86.66 L405.42,86.61 L406.29,86.55 L407.15,86.50 L408.01,86.45 L408.88,86.41 L409.74,86.36 L410.60,86.32 L411.46,86.28 L412.33,86.25 L413.19,86.22 L414.05,86.19 L414.91,86.17 L415.77,86.16 L416.64,86.15 L417.50,86.14 L418.36,86.15 L419.23,86.15 L420.09,86.17 L420.95,86.19 L421.81,86.21 L422.67,86.24 L423.54,86.27 L424.40,86.31 L425.26,86.35 L426.12,86.39 L426.99,86.43 L427.85,86.48 L428.71,86.53 L429.57,86.59 L430.44,86.64 L431.30,86.70 L432.16,86.75 L433.02,86.81 L433.89,86.87 L434.75,86.93 L435.61,86.99 L436.48,87.07 L437.34,87.15 L438.20,87.24 L439.06,87.34 L439.93,87.45 L440.79,87.56 L441.65,87.68 L442.51,87.80 L443.38,87.93 L444.24,88.06 L445.10,88.20 L445.96,88.33 L446.83,88.47 L447.69,88.61 L448.55,88.75 L449.41,88.88 L450.27,89.02 L451.14,89.15 L452.00,89.28 L452.86,89.42 L453.73,89.55 L454.59,89.68 L455.45,89.82 L456.31,89.96 L457.17,90.10 L458.04,90.24 L458.90,90.38 L459.76,90.53 L460.62,90.67 L461.49,90.82 L462.35,90.97 L463.21,91.11 L464.08,91.26 L464.94,91.41 L465.80,91.56 L466.66,91.71 L467.52,91.86 L468.39,92.01 L469.25,92.16 L470.11,92.31 L470.98,92.47 L471.84,92.62 L472.70,92.77 L473.56,92.92 L474.42,93.08 L475.29,93.23 L476.15,93.39 L477.01,93.54 L477.88,93.70 L478.74,93.86 L479.60,94.02 L480.46,94.18 L481.32,94.34 L482.19,94.50 L483.05,94.66 L483.91,94.82 L484.77,94.98 L485.64,95.14 L486.50,95.31" fill="none" stroke="#1f77b4" stroke-width="1.1" stroke-linejoin="round" />
<path d="M279.50,104.99 L280.36,104.87 L281.23,104.76 L282.09,104.64 L282.95,104.53 L283.81,104.42 L284.68,104.31 L285.54,104.20 L286.40,104.09 L287.26,103.98 L288.12,103.87 L288.99,103.77 L289.85,103.67 L290.71,103.57 L291.57,103.46 L292.44,103.37 L293.30,103.27 L294.16,103.17 L295.02,103.08 L295.89,102.99 L296.75,102.90 L297.61,102.81 L298.48,102.73 L299.34,102.66 L300.20,102.59 L301.06,102.52 L301.93,102.45 L302.79,102.39 L303.65,102.33 L304.51,102.27 L305.38,102.20 L306.24,102.14 L307.10,102.07 L307.96,102.00 L308.82,101.93 L309.69,101.84 L310.55,101.76 L311.41,101.66 L312.27,101.56 L313.14,101.45 L314.00,101.33 L314.86,101.18 L315.73,101.00 L316.59,100.78 L317.45,100.54 L318.31,100.28 L319.18,100.01 L320.04,99.72 L320.90,99.43 L321.76,99.13 L322.62,98.84 L323.49,98.53 L324.35,98.20 L325.21,97.84 L326.07,97.47 L326.94,97.09 L327.80,96.72 L328.66,96.36 L329.52,96.02 L330.39,95.71 L331.25,95.44 L332.11,95.19 L332.98,94.96 L333.84,94.73 L334.70,94.52 L335.56,94.31 L336.43,94.12 L337.29,93.94 L338.15,93.77 L339.01,93.62 L339.88,93.47 L340.74,93.34 L341.60,93.22 L342.46,93.11 L343.32,93.00 L344.19,92.90 L345.05,92.80 L345.91,92.71 L346.77,92.61 L347.64,92.52 L348.50,92.43 L349.36,91.55 L350.23,91.45 L351.09,91.36 L351.95,91.27 L352.81,91.18 L353.68,91.09 L354.54,91.00 L355.40,90.91 L356.26,90.82 L357.12,90.74 L357.99,90.65 L358.85,90.57 L359.71,90.49 L360.57,90.40 L361.44,90.32 L362.30,90.24 L363.16,90.17 L364.02,90.09 L364.89,90.01 L365.75,89.94 L366.61,89.87 L367.48,89.80 L368.34,89.73 L369.20,89.66 L370.06,89.59 L370.93,89.53 L371.79,89.47 L372.65,89.40 L373.51,89.34 L374.38,89.28 L375.24,89.22 L376.10,89.15 L376.96,89.09 L377.82,89.03 L378.69,88.97 L379.55,88.90 L380.41,88.84 L381.27,88.77 L382.14,88.70 L383.00,88.63 L383.86,88.56 L384.73,88.48 L385.59,88.40 L386.45,88.32 L387.31,88.23 L388.18,88.15 L389.04,88.06 L389.90,87.97 L390.76,87.88 L391.62,87.80 L392.49,87.71 L393.35,87.63 L394.21,87.54 L395.07,87.46 L395.94,87.39 L396.80,87.31 L397.66,87.24 L398.52,87.18 L399.39,87.11 L400.25,87.06 L401.11,87.01 L401.98,86.95 L402.84,86.90 L403.70,86.84 L404.56,86.79 L405.42,86.74 L406.29,86.68 L407.15,86.63 L408.01,86.58 L408.88,86.54 L409.74,86.49 L410.60,86.45 L411.46,86.41 L412.33,86.38 L413.19,86.35 L414.05,86.32 L414.91,86.30 L415.77,86.29 L416.64,86.28 L417.50,86.27 L418.36,86.28 L419.23,86.29 L420.09,86.30 L420.95,86.32 L421.81,86.34 L422.67,86.37 L423.54,86.40 L424.40,86.44 L425.26,86.48 L426.12,86.52 L426.99,86.57 L427.85,86.61 L428.71,86.66 L429.57,86.72 L430.44,86.77 L431.30,86.83 L432.16,86.88 L433.02,86.94 L433.89,87.00 L434.75,87.06 L435.61,87.12 L436.48,87.20 L437.34,87.28 L438.20,87.37 L439.06,87.47 L439.93,87.58 L440.79,87.69 L441.65,87.81 L442.51,87.93 L443.38,88.06 L444.24,88.19 L445.10,88.33 L445.96,88.46 L446.83,88.60 L447.69,88.74 L448.55,88.88 L449.41,89.01 L450.27,89.15 L451.14,89.28 L452.00,89.42 L452.86,89.55 L453.73,89.68 L454.59,89.81 L455.45,89.95 L456.31,90.09 L457.17,90.23 L458.04,90.37 L458.90,90.51 L459.76,90.66 L460.62,90.80 L461.49,90.95 L462.35,91.10 L463.21,91.25 L464.08,91.39 L464.94,91.54 L465.80,91.69 L466.66,91.84 L467.52,91.99 L468.39,92.14 L469.25,92.30 L470.11,92.45 L470.98,92.60 L471.84,92.75 L472.70,92.90 L473.56,93.06 L474.42,93.21 L475.29,93.36 L476.15,93.52 L477.01,93.68 L477.88,93.83 L478.74,93.99 L479.60,94.15 L480.46,94.31 L481.32,94.47 L482.19,94.63 L483.05,94.79 L483.91,94.95 L484.77,95.11 L485.64,95.27 L486.50,95.44" fill="none" stroke="#ff7f0e" stroke-width="1.1" stroke-linejoin="round" />
<path d="M279.50,104.21 L280.36,104.09 L281.23,103.97 L282.09,103.86 L282.95,103.74 L283.81,103.63 L284.68,103.52 L285.54,103.41 L286.40,103.30 L287.26,103.19 L288.12,103.09 L288.99,102.98 L289.85,102.88 L290.71,102.78 L291.57,102.68 L292.44,102.58 L293.30,102.48 L294.16,102.39 L295.02,102.29 L295.89,102.20 L296.75,102.11 L297.61,102.03 L298.48,101.95 L299.34,101.87 L300.20,101.80 L301.06,101.73 L301.93,101.67 L302.79,101.61 L303.65,101.54 L304.51,101.48 L305.38,101.42 L306.24,101.35 L307.10,101.29 L307.96,101.22 L308.82,101.14 L309.69,101.06 L310.55,100.97 L311.41,100.88 L312.27,100.77 L313.14,100.66 L314.00,100.54 L314.86,100.39 L315.73,100.21 L316.59,100.00 L317.45,99.76 L318.31,99.50 L319.18,99.22 L320.04,98.93 L320.90,98.64 L321.76,98.35 L322.62,98.05 L323.49,97.75 L324.35,97.41 L325.21,97.05 L326.07,96.68 L326.94,96.30 L327.80,95.93 L328.66,95.57 L329.52,95.23 L330.39,94.92 L331.25,94.65 L332.11,94.41 L332.98,94.17 L333.84,93.95 L334.70,93.73 L335.56,93.53 L336.43,93.34 L337.29,93.16 L338.15,92.99 L339.01,92.83 L339.88,92.69 L340.74,92.55 L341.60,92.42 L342.46,92.30 L343.32,92.18 L344.19,92.07 L345.05,91.96 L345.91,91.87 L346.77,91.78 L347.64,91.71 L348.50,91.64 L349.36,91.69 L350.23,91.76 L351.09,91.83 L351.95,91.92 L352.81,92.01 L353.68,92.11 L354.54,92.21 L355.40,92.33 L356.26,92.45 L357.12,92.58 L357.99,92.71 L358.85,92.85 L359.71,93.00 L360.57,93.15 L361.44,93.30 L362.30,93.46 L363.16,93.62 L364.02,93.79 L364.89,93.96 L365.75,94.13 L366.61,94.31 L367.48,94.51 L368.34,94.74 L369.20,94.98 L370.06,95.23 L370.93,95.50 L371.79,95.78 L372.65,96.07 L373.51,96.37 L374.38,96.67 L375.24,96.98 L376.10,97.29 L376.96,97.60 L377.82,97.91 L378.69,98.21 L379.55,98.51 L380.41,98.81 L381.27,99.09 L382.14,99.36 L383.00,99.62 L383.86,99.88 L384.73,100.13 L385.59,100.38 L386.45,100.63 L387.31,100.87 L388.18,101.12 L389.04,101.36 L389.90,101.60 L390.76,101.84 L391.62,102.08 L392.49,102.32 L393.35,102.55 L394.21,102.78 L395.07,103.01 L395.94,103.24 L396.80,103.46 L397.66,103.68 L398.52,103.90 L399.39,104.12 L400.25,104.34 L401.11,104.55 L401.98,104.76 L402.84,104.96 L403.70,105.17 L404.56,105.37 L405.42,105.57 L406.29,105.76 L407.15,105.96 L408.01,106.15 L408.88,106.34 L409.74,106.54 L410.60,106.73 L411.46,106.92 L412.33,107.11 L413.19,107.30 L414.05,107.49 L414.91,107.68 L415.77,107.87 L416.64,108.07 L417.50,108.26 L418.36,108.46 L419.23,108.65 L420.09,108.84 L420.95,109.03 L421.81,109.21 L422.67,109.39 L423.54,109.58 L424.40,109.76 L425.26,109.95 L426.12,110.13 L426.99,110.32 L427.85,110.51 L428.71,110.71 L429.57,110.90 L430.44,111.10 L431.30,111.31 L432.16,111.52 L433.02,111.74 L433.89,111.96 L434.75,112.19 L435.61,112.43 L436.48,112.69 L437.34,112.95 L438.20,113.23 L439.06,113.52 L439.93,113.82 L440.79,114.12 L441.65,114.42 L442.51,114.73 L443.38,115.05 L444.24,115.36 L445.10,115.67 L445.96,115.98 L446.83,116.29 L447.69,116.59 L448.55,116.88 L449.41,117.16 L450.27,117.44 L451.14,117.70 L452.00,117.95 L452.86,118.20 L453.73,118.46 L454.59,118.73 L455.45,119.01 L456.31,119.29 L457.17,119.57 L458.04,119.85 L458.90,120.12 L459.76,120.39 L460.62,120.65 L461.49,120.90 L462.35,121.13 L463.21,121.34 L464.08,121.54 L464.94,121.71 L465.80,121.86 L466.66,121.98 L467.52,122.06 L468.39,122.12 L469.25,122.14 L470.11,122.14 L470.98,122.14 L471.84,122.14 L472.70,122.14 L473.56,122.13 L474.42,122.13 L475.29,122.13 L476.15,122.12 L477.01,122.11 L477.88,122.11 L478.74,122.09 L479.60,122.08 L480.46,122.07 L481.32,122.05 L482.19,122.03 L483.05,122.00 L483.91,121.98 L484.77,121.95 L485.64,121.91 L486.50,121.88" fill="none" stroke="#000" stroke-width="1.3" stroke-dasharray="4.6,2.0" stroke-linejoin="round" />
<path d="M279.50,104.21 L280.36,104.09 L281.23,103.97 L282.09,103.86 L282.95,103.74 L283.81,103.63 L284.68,103.52 L285.54,103.41 L286.40,103.30 L287.26,103.19 L288.12,103.09 L288.99,102.98 L289.85,102.88 L290.71,102.78 L291.57,102.68 L292.44,102.58 L293.30,102.48 L294.16,102.39 L295.02,102.29 L295.89,102.20 L296.75,102.11 L297.61,102.03 L298.48,101.95 L299.34,101.87 L300.20,101.80 L301.06,101.73 L301.93,101.67 L302.79,101.61 L303.65,101.54 L304.51,101.48 L305.38,101.42 L306.24,101.35 L307.10,101.29 L307.96,101.22 L308.82,101.14 L309.69,101.06 L310.55,100.97 L311.41,100.88 L312.27,100.77 L313.14,100.66 L314.00,100.54 L314.86,100.39 L315.73,100.21 L316.59,100.00 L317.45,99.76 L318.31,99.50 L319.18,99.22 L320.04,98.93 L320.90,98.64 L321.76,98.35 L322.62,98.05 L323.49,97.75 L324.35,97.41 L325.21,97.05 L326.07,96.68 L326.94,96.30 L327.80,95.93 L328.66,95.57 L329.52,95.23 L330.39,94.92 L331.25,94.65 L332.11,94.41 L332.98,94.17 L333.84,93.95 L334.70,93.73 L335.56,93.53 L336.43,93.34 L337.29,93.16 L338.15,92.99 L339.01,92.83 L339.88,92.69 L340.74,92.55 L341.60,92.42 L342.46,92.30 L343.32,92.18 L344.19,92.07 L345.05,91.96 L345.91,91.87 L346.77,91.78 L347.64,91.71 L348.50,91.64 L349.36,91.52 L350.23,91.40 L351.09,91.29 L351.95,91.17 L352.81,91.06 L353.68,90.95 L354.54,90.84 L355.40,90.73 L356.26,90.63 L357.12,90.53 L357.99,90.43 L358.85,90.33 L359.71,90.24 L360.57,90.15 L361.44,90.06 L362.30,89.98 L363.16,89.90 L364.02,89.82 L364.89,89.75 L365.75,89.68 L366.61,89.61 L367.48,89.55 L368.34,89.49 L369.20,89.43 L370.06,89.37 L370.93,89.32 L371.79,89.26 L372.65,89.21 L373.51,89.16 L374.38,89.11 L375.24,89.07 L376.10,89.02 L376.96,88.97 L377.82,88.92 L378.69,88.88 L379.55,88.83 L380.41,88.78 L381.27,88.73 L382.14,88.68 L383.00,88.63 L383.86,88.58 L384.73,88.52 L385.59,88.45 L386.45,88.39 L387.31,88.32 L388.18,88.25 L389.04,88.18 L389.90,88.11 L390.76,88.04 L391.62,87.98 L392.49,87.91 L393.35,87.85 L394.21,87.79 L395.07,87.74 L395.94,87.70 L396.80,87.66 L397.66,87.63 L398.52,87.60 L399.39,87.59 L400.25,87.58 L401.11,87.59 L401.98,87.60 L402.84,87.62 L403.70,87.64 L404.56,87.67 L405.42,87.71 L406.29,87.75 L407.15,87.80 L408.01,87.85 L408.88,87.90 L409.74,87.96 L410.60,88.03 L411.46,88.09 L412.33,88.16 L413.19,88.24 L414.05,88.31 L414.91,88.39 L415.77,88.47 L416.64,88.55 L417.50,88.63 L418.36,88.72 L419.23,88.83 L420.09,88.95 L420.95,89.08 L421.81,89.23 L422.67,89.39 L423.54,89.56 L424.40,89.74 L425.26,89.93 L426.12,90.13 L426.99,90.33 L427.85,90.54 L428.71,90.75 L429.57,90.97 L430.44,91.19 L431.30,91.41 L432.16,91.64 L433.02,91.86 L433.89,92.08 L434.75,92.30 L435.61,92.52 L436.48,92.75 L437.34,92.98 L438.20,93.23 L439.06,93.48 L439.93,93.74 L440.79,94.00 L441.65,94.27 L442.51,94.54 L443.38,94.81 L444.24,95.09 L445.10,95.37 L445.96,95.64 L446.83,95.92 L447.69,96.20 L448.55,96.47 L449.41,96.74 L450.27,97.01 L451.14,97.27 L452.00,97.53 L452.86,97.79 L453.73,98.04 L454.59,98.29 L455.45,98.54 L456.31,98.79 L457.17,99.04 L458.04,99.29 L458.90,99.54 L459.76,99.79 L460.62,100.03 L461.49,100.28 L462.35,100.53 L463.21,100.77 L464.08,101.02 L464.94,101.27 L465.80,101.51 L466.66,101.76 L467.52,102.01 L468.39,102.26 L469.25,102.50 L470.11,102.75 L470.98,103.00 L471.84,103.25 L472.70,103.50 L473.56,103.75 L474.42,104.00 L475.29,104.25 L476.15,104.49 L477.01,104.74 L477.88,104.99 L478.74,105.24 L479.60,105.49 L480.46,105.74 L481.32,105.99 L482.19,106.23 L483.05,106.48 L483.91,106.73 L484.77,106.98 L485.64,107.23 L486.50,107.48" fill="none" stroke="#000" stroke-width="1.3" stroke-dasharray="1.25,2.06" stroke-linejoin="round" />
<path d="M279.50,104.21 L280.36,104.09 L281.23,103.97 L282.09,103.86 L282.95,103.74 L283.81,103.63 L284.68,103.52 L285.54,103.41 L286.40,103.30 L287.26,103.19 L288.12,103.09 L288.99,102.98 L289.85,102.88 L290.71,102.78 L291.57,102.68 L292.44,102.58 L293.30,102.48 L294.16,102.39 L295.02,102.29 L295.89,102.20 L296.75,102.11 L297.61,102.03 L298.48,101.95 L299.34,101.87 L300.20,101.80 L301.06,101.73 L301.93,101.67 L302.79,101.61 L303.65,101.54 L304.51,101.48 L305.38,101.42 L306.24,101.35 L307.10,101.29 L307.96,101.22 L308.82,101.14 L309.69,101.06 L310.55,100.97 L311.41,100.88 L312.27,100.77 L313.14,100.66 L314.00,100.54 L314.86,100.39 L315.73,100.21 L316.59,100.00 L317.45,99.76 L318.31,99.50 L319.18,99.22 L320.04,98.93 L320.90,98.64 L321.76,98.35 L322.62,98.05 L323.49,97.75 L324.35,97.41 L325.21,97.05 L326.07,96.68 L326.94,96.30 L327.80,95.93 L328.66,95.57 L329.52,95.23 L330.39,94.92 L331.25,94.65 L332.11,94.41 L332.98,94.17 L333.84,93.95 L334.70,93.73 L335.56,93.53 L336.43,93.34 L337.29,93.16 L338.15,92.99 L339.01,92.83 L339.88,92.69 L340.74,92.55 L341.60,92.42 L342.46,92.30 L343.32,92.18 L344.19,92.07 L345.05,91.96 L345.91,91.87 L346.77,91.78 L347.64,91.71 L348.50,91.64 L349.36,91.13 L350.23,90.74 L351.09,90.35 L351.95,89.95 L352.81,89.54 L353.68,89.13 L354.54,88.72 L355.40,88.29 L356.26,87.87 L357.12,87.44 L357.99,87.00 L358.85,86.56 L359.71,86.12 L360.57,85.67 L361.44,85.21 L362.30,84.75 L363.16,84.29 L364.02,83.82 L364.89,83.35 L365.75,82.87 L366.61,82.39 L367.48,81.90 L368.34,81.41 L369.20,80.91 L370.06,80.41 L370.93,79.90 L371.79,79.39 L372.65,78.87 L373.51,78.34 L374.38,77.81 L375.24,77.27 L376.10,76.73 L376.96,76.17 L377.82,75.62 L378.69,75.05 L379.55,74.48 L380.41,73.91 L381.27,73.32 L382.14,72.73 L383.00,72.14 L383.86,71.53 L384.73,70.90 L385.59,70.27 L386.45,69.61 L387.31,68.95 L388.18,68.27 L389.04,67.59 L389.90,66.90 L390.76,66.20 L391.62,65.50 L392.49,64.79 L393.35,64.09 L394.21,63.38 L395.07,62.67 L395.94,61.97 L396.80,61.27 L397.66,60.57 L398.52,59.88 L399.39,59.20 L400.25,58.53 L401.11,57.86 L401.98,57.19 L402.84,56.51 L403.70,55.84 L404.56,55.16 L405.42,54.49 L406.29,53.82 L407.15,53.14 L408.01,52.47 L408.88,51.81 L409.74,51.14 L410.60,50.48 L411.46,49.83 L412.33,49.18 L413.19,48.54 L414.05,47.90 L414.91,47.27 L415.77,46.65 L416.64,46.04 L417.50,45.44 L418.36,44.84 L419.23,44.25 L420.09,43.66 L420.95,43.08 L421.81,42.51 L422.67,41.93 L423.54,41.37 L424.40,40.81 L425.26,40.25 L426.12,39.70 L426.99,39.15 L427.85,38.60 L428.71,38.07 L429.57,37.53 L430.44,37.01 L431.30,36.48 L432.16,35.96 L433.02,35.45 L433.89,34.94 L434.75,34.44 L435.61,33.93 L436.48,33.39 L437.34,32.84 L438.20,32.27 L439.06,31.69 L439.93,31.11 L440.79,30.53 L441.65,29.96 L442.51,29.39 L443.38,28.85 L444.24,28.32 L445.10,27.82 L445.96,27.34 L446.83,26.91 L447.69,26.51 L448.55,26.15 L449.41,25.85 L450.27,25.60 L451.14,25.41 L452.00,25.28 L452.86,25.19 L453.73,25.10 L454.59,25.01 L455.45,24.93 L456.31,24.85 L457.17,24.78 L458.04,24.71 L458.90,24.64 L459.76,24.58 L460.62,24.52 L461.49,24.47 L462.35,24.42 L463.21,24.38 L464.08,24.34 L464.94,24.31 L465.80,24.28 L466.66,24.26 L467.52,24.25 L468.39,24.24 L469.25,24.23 L470.11,24.24 L470.98,24.26 L471.84,24.29 L472.70,24.33 L473.56,24.39 L474.42,24.45 L475.29,24.53 L476.15,24.62 L477.01,24.72 L477.88,24.82 L478.74,24.94 L479.60,25.06 L480.46,25.20 L481.32,25.34 L482.19,25.48 L483.05,25.64 L483.91,25.80 L484.77,25.97 L485.64,26.15 L486.50,26.33" fill="none" stroke="#000" stroke-width="1.3" stroke-dasharray="8.0,2.0,1.25,2.0" stroke-linejoin="round" />
<path d="M279.50,13.50 H486.50 V131.30 H279.50 Z M279.50,131.30 v2.4 M314.00,131.30 v2.4 M348.50,131.30 v2.4 M383.00,131.30 v2.4 M417.50,131.30 v2.4 M452.00,131.30 v2.4 M486.50,131.30 v2.4 M279.50,118.21 h-2.4 M279.50,92.03 h-2.4 M279.50,65.86 h-2.4 M279.50,39.68 h-2.4 M279.50,13.50 h-2.4" stroke="#7a7a7a" stroke-width="0.95" fill="none"/>
<text x="270.51" y="140.60" font-size="7.92" textLength="17.99" lengthAdjust="spacingAndGlyphs" fill="#2e2e2e">1980</text>
<text x="304.96" y="140.60" font-size="7.92" textLength="18.04" lengthAdjust="spacingAndGlyphs" fill="#2e2e2e">2000</text>
<text x="339.46" y="140.60" font-size="7.92" textLength="18.04" lengthAdjust="spacingAndGlyphs" fill="#2e2e2e">2020</text>
<text x="373.96" y="140.60" font-size="7.92" textLength="18.04" lengthAdjust="spacingAndGlyphs" fill="#2e2e2e">2040</text>
<text x="408.46" y="140.60" font-size="7.92" textLength="18.04" lengthAdjust="spacingAndGlyphs" fill="#2e2e2e">2060</text>
<text x="442.96" y="140.60" font-size="7.92" textLength="18.04" lengthAdjust="spacingAndGlyphs" fill="#2e2e2e">2080</text>
<text x="477.46" y="140.60" font-size="7.92" textLength="18.04" lengthAdjust="spacingAndGlyphs" fill="#2e2e2e">2100</text>
<text x="271.40" y="121.41" font-size="7.92" textLength="4.22" lengthAdjust="spacingAndGlyphs" fill="#2e2e2e">0</text>
<text x="266.83" y="95.23" font-size="7.92" textLength="8.80" lengthAdjust="spacingAndGlyphs" fill="#2e2e2e">10</text>
<text x="266.76" y="69.06" font-size="7.92" textLength="8.87" lengthAdjust="spacingAndGlyphs" fill="#2e2e2e">20</text>
<text x="266.89" y="42.88" font-size="7.92" textLength="8.74" lengthAdjust="spacingAndGlyphs" fill="#2e2e2e">30</text>
<text x="266.81" y="16.70" font-size="7.92" textLength="8.82" lengthAdjust="spacingAndGlyphs" fill="#2e2e2e">40</text>
<path d="M30.50,158.80 V276.50 M65.00,158.80 V276.50 M99.50,158.80 V276.50 M134.00,158.80 V276.50 M168.50,158.80 V276.50 M203.00,158.80 V276.50 M237.50,158.80 V276.50 M30.50,276.50 H237.50 M30.50,256.88 H237.50 M30.50,237.27 H237.50 M30.50,217.65 H237.50 M30.50,198.03 H237.50 M30.50,178.42 H237.50 M30.50,158.80 H237.50" stroke="#d2d2d2" stroke-width="0.95" fill="none"/>
<path d="M30.50,267.28 L31.36,266.87 L32.23,266.55 L33.09,266.34 L33.95,266.27 L34.81,266.37 L35.67,266.66 L36.54,267.02 L37.40,267.39 L38.26,267.68 L39.12,267.78 L39.99,267.63 L40.85,267.26 L41.71,266.74 L42.58,266.17 L43.44,265.62 L44.30,265.18 L45.16,264.80 L46.02,264.40 L46.89,264.01 L47.75,263.69 L48.61,263.46 L49.47,263.37 L50.34,263.47 L51.20,263.74 L52.06,265.19 L52.92,266.47 L53.79,266.16 L54.65,265.44 L55.51,264.58 L56.38,263.89 L57.24,263.38 L58.10,262.92 L58.96,262.48 L59.83,262.07 L60.69,261.67 L61.55,261.28 L62.41,260.90 L63.27,260.52 L64.14,260.17 L65.00,259.88 L65.86,259.63 L66.72,259.41 L67.59,259.21 L68.45,259.02 L69.31,258.83 L70.18,258.65 L71.04,258.42 L71.90,258.20 L72.76,257.99 L73.62,257.78 L74.49,257.56 L75.35,257.32 L76.21,257.07 L77.08,256.82 L77.94,256.55 L78.80,256.28 L79.66,256.00 L80.53,255.71 L81.39,255.41 L82.25,255.09 L83.11,254.77 L83.98,254.42 L84.84,254.06 L85.70,253.69 L86.56,253.31 L87.43,252.92 L88.29,252.53 L89.15,252.14 L90.01,251.76 L90.88,251.38 L91.74,251.01 L92.60,250.64 L93.46,250.26 L94.33,249.89 L95.19,249.52 L96.05,249.15 L96.91,248.78 L97.78,248.41 L98.64,248.04 L99.50,247.66 L100.36,248.73 L101.23,248.42 L102.09,248.11 L102.95,247.79 L103.81,247.48 L104.67,247.17 L105.54,246.86 L106.40,246.55 L107.26,246.24 L108.12,245.92 L108.99,245.61 L109.85,245.30 L110.71,244.98 L111.58,244.67 L112.44,244.35 L113.30,244.03 L114.16,243.72 L115.02,243.40 L115.89,243.08 L116.75,242.76 L117.61,242.44 L118.47,242.12 L119.34,241.79 L120.20,241.46 L121.06,241.14 L121.92,240.80 L122.79,240.47 L123.65,240.13 L124.51,239.79 L125.38,239.45 L126.24,239.10 L127.10,238.74 L127.96,238.38 L128.82,238.02 L129.69,237.65 L130.55,237.27 L131.41,236.89 L132.27,236.50 L133.14,236.10 L134.00,235.70 L134.86,235.29 L135.72,234.87 L136.59,234.44 L137.45,234.01 L138.31,233.57 L139.18,233.12 L140.04,232.67 L140.90,232.21 L141.76,231.74 L142.62,231.27 L143.49,230.80 L144.35,230.31 L145.21,229.82 L146.07,229.33 L146.94,228.83 L147.80,228.33 L148.66,227.82 L149.52,227.31 L150.39,226.79 L151.25,226.27 L152.11,225.75 L152.98,225.22 L153.84,224.69 L154.70,224.15 L155.56,223.61 L156.42,223.07 L157.29,222.53 L158.15,221.98 L159.01,221.44 L159.88,220.88 L160.74,220.33 L161.60,219.78 L162.46,219.22 L163.33,218.66 L164.19,218.10 L165.05,217.54 L165.91,216.98 L166.78,216.42 L167.64,215.86 L168.50,215.30 L169.36,214.73 L170.23,214.17 L171.09,213.61 L171.95,213.05 L172.81,212.49 L173.67,211.92 L174.54,211.36 L175.40,210.81 L176.26,210.25 L177.12,209.69 L177.99,209.14 L178.85,208.59 L179.71,208.03 L180.57,207.49 L181.44,206.94 L182.30,206.40 L183.16,205.85 L184.03,205.31 L184.89,204.78 L185.75,204.25 L186.61,203.72 L187.47,203.19 L188.34,202.67 L189.20,202.15 L190.06,201.63 L190.93,201.12 L191.79,200.62 L192.65,200.12 L193.51,199.62 L194.38,199.13 L195.24,198.64 L196.10,198.16 L196.96,197.68 L197.83,197.21 L198.69,196.74 L199.55,196.28 L200.41,195.83 L201.27,195.38 L202.14,194.94 L203.00,194.50 L203.86,194.07 L204.72,193.65 L205.59,193.24 L206.45,192.83 L207.31,192.42 L208.17,192.02 L209.04,191.63 L209.90,191.25 L210.76,190.86 L211.62,190.49 L212.49,190.12 L213.35,189.75 L214.21,189.39 L215.08,189.03 L215.94,188.68 L216.80,188.33 L217.66,187.98 L218.53,187.64 L219.39,187.31 L220.25,186.97 L221.11,186.64 L221.98,186.31 L222.84,185.99 L223.70,185.67 L224.56,185.35 L225.42,185.03 L226.29,184.72 L227.15,184.41 L228.01,184.10 L228.88,183.79 L229.74,183.48 L230.60,183.18 L231.46,182.87 L232.32,182.57 L233.19,182.27 L234.05,181.97 L234.91,181.67 L235.78,181.37 L236.64,181.07 L237.50,180.77 L237.50,233.74 L236.64,233.78 L235.78,233.83 L234.91,233.88 L234.05,233.93 L233.19,233.97 L232.32,234.02 L231.46,234.07 L230.60,234.12 L229.74,234.17 L228.88,234.23 L228.01,234.28 L227.15,234.34 L226.29,234.39 L225.42,234.45 L224.56,234.51 L223.70,234.57 L222.84,234.63 L221.98,234.70 L221.11,234.77 L220.25,234.83 L219.39,234.91 L218.53,234.98 L217.66,235.06 L216.80,235.14 L215.94,235.22 L215.08,235.31 L214.21,235.39 L213.35,235.49 L212.49,235.58 L211.62,235.68 L210.76,235.78 L209.90,235.89 L209.04,235.99 L208.17,236.11 L207.31,236.22 L206.45,236.35 L205.59,236.47 L204.72,236.60 L203.86,236.74 L203.00,236.87 L202.14,237.02 L201.27,237.17 L200.41,237.32 L199.55,237.47 L198.69,237.63 L197.83,237.80 L196.96,237.97 L196.10,238.14 L195.24,238.31 L194.38,238.49 L193.51,238.67 L192.65,238.85 L191.79,239.03 L190.93,239.22 L190.06,239.41 L189.20,239.60 L188.34,239.79 L187.47,239.98 L186.61,240.17 L185.75,240.37 L184.89,240.56 L184.03,240.76 L183.16,240.96 L182.30,241.15 L181.44,241.35 L180.57,241.54 L179.71,241.74 L178.85,241.93 L177.99,242.13 L177.12,242.32 L176.26,242.51 L175.40,242.70 L174.54,242.89 L173.67,243.07 L172.81,243.25 L171.95,243.44 L171.09,243.61 L170.23,243.79 L169.36,243.96 L168.50,244.13 L167.64,244.30 L166.78,244.46 L165.91,244.62 L165.05,244.78 L164.19,244.93 L163.33,245.08 L162.46,245.23 L161.60,245.38 L160.74,245.52 L159.88,245.66 L159.01,245.80 L158.15,245.93 L157.29,246.06 L156.42,246.19 L155.56,246.32 L154.70,246.45 L153.84,246.57 L152.98,246.69 L152.11,246.81 L151.25,246.93 L150.39,247.05 L149.52,247.16 L148.66,247.28 L147.80,247.39 L146.94,247.50 L146.07,247.61 L145.21,247.71 L144.35,247.82 L143.49,247.93 L142.62,248.03 L141.76,248.13 L140.90,248.24 L140.04,248.34 L139.18,248.44 L138.31,248.54 L137.45,248.64 L136.59,248.74 L135.72,248.84 L134.86,248.94 L134.00,249.04 L133.14,249.14 L132.27,249.23 L131.41,249.33 L130.55,249.43 L129.69,249.53 L128.82,249.63 L127.96,249.73 L127.10,249.82 L126.24,249.92 L125.38,250.02 L124.51,250.12 L123.65,250.22 L122.79,250.31 L121.92,250.41 L121.06,250.51 L120.20,250.61 L119.34,250.70 L118.47,250.80 L117.61,250.90 L116.75,251.00 L115.89,251.10 L115.02,251.19 L114.16,251.29 L113.30,251.39 L112.44,251.49 L111.58,251.59 L110.71,251.68 L109.85,251.78 L108.99,251.88 L108.12,251.98 L107.26,252.08 L106.40,252.17 L105.54,252.27 L104.67,252.37 L103.81,252.47 L102.95,252.57 L102.09,252.67 L101.23,252.76 L100.36,252.86 L99.50,253.74 L98.64,254.14 L97.78,254.54 L96.91,254.93 L96.05,255.33 L95.19,255.73 L94.33,256.12 L93.46,256.52 L92.60,256.91 L91.74,257.31 L90.88,257.71 L90.01,258.11 L89.15,258.52 L88.29,258.93 L87.43,259.34 L86.56,259.76 L85.70,260.16 L84.84,260.56 L83.98,260.95 L83.11,261.32 L82.25,261.67 L81.39,262.00 L80.53,262.33 L79.66,262.64 L78.80,262.95 L77.94,263.25 L77.08,263.54 L76.21,263.82 L75.35,264.09 L74.49,264.35 L73.62,264.59 L72.76,264.83 L71.90,265.07 L71.04,265.31 L70.18,265.56 L69.31,265.77 L68.45,265.98 L67.59,266.19 L66.72,266.42 L65.86,266.67 L65.00,266.94 L64.14,267.20 L63.27,267.50 L62.41,267.84 L61.55,268.19 L60.69,268.54 L59.83,268.89 L58.96,269.27 L58.10,269.66 L57.24,270.09 L56.38,270.56 L55.51,271.21 L54.65,272.03 L53.79,272.71 L52.92,272.98 L52.06,271.66 L51.20,270.17 L50.34,269.86 L49.47,269.72 L48.61,269.77 L47.75,269.96 L46.89,270.25 L46.02,270.60 L45.16,270.96 L44.30,271.30 L43.44,271.70 L42.58,272.21 L41.71,272.75 L40.85,273.22 L39.99,273.56 L39.12,273.67 L38.26,273.52 L37.40,273.20 L36.54,272.79 L35.67,272.38 L34.81,272.06 L33.95,271.91 L33.09,271.95 L32.23,272.12 L31.36,272.40 L30.50,272.77Z" fill="#1f77b4" fill-opacity="0.2" stroke="#1f77b4" stroke-opacity="0.2" stroke-width="0.7"/>
<path d="M30.50,269.05 L31.36,268.63 L32.23,268.31 L33.09,268.11 L33.95,268.03 L34.81,268.14 L35.67,268.42 L36.54,268.79 L37.40,269.16 L38.26,269.44 L39.12,269.55 L39.99,269.40 L40.85,269.03 L41.71,268.51 L42.58,267.93 L43.44,267.39 L44.30,266.95 L45.16,266.57 L46.02,266.16 L46.89,265.78 L47.75,265.45 L48.61,265.22 L49.47,265.13 L50.34,265.23 L51.20,265.51 L52.06,266.96 L52.92,268.24 L53.79,267.93 L54.65,267.20 L55.51,266.35 L56.38,265.65 L57.24,265.15 L58.10,264.68 L58.96,264.25 L59.83,263.83 L60.69,263.44 L61.55,263.05 L62.41,262.66 L63.27,262.28 L64.14,261.94 L65.00,261.64 L65.86,261.39 L66.72,261.17 L67.59,260.97 L68.45,260.78 L69.31,260.60 L70.18,260.41 L71.04,260.19 L71.90,259.97 L72.76,259.76 L73.62,259.54 L74.49,259.32 L75.35,259.09 L76.21,258.84 L77.08,258.58 L77.94,258.32 L78.80,258.04 L79.66,257.76 L80.53,257.47 L81.39,257.17 L82.25,256.86 L83.11,256.53 L83.98,256.19 L84.84,255.83 L85.70,255.46 L86.56,255.07 L87.43,254.68 L88.29,254.29 L89.15,253.91 L90.01,253.52 L90.88,253.14 L91.74,252.77 L92.60,252.40 L93.46,252.03 L94.33,251.66 L95.19,251.29 L96.05,250.92 L96.91,250.54 L97.78,250.17 L98.64,249.80 L99.50,249.43 L100.36,249.31 L101.23,248.99 L102.09,248.67 L102.95,248.35 L103.81,248.03 L104.67,247.71 L105.54,247.39 L106.40,247.07 L107.26,246.74 L108.12,246.42 L108.99,246.10 L109.85,245.78 L110.71,245.45 L111.58,245.13 L112.44,244.80 L113.30,244.47 L114.16,244.14 L115.02,243.81 L115.89,243.48 L116.75,243.15 L117.61,242.82 L118.47,242.48 L119.34,242.15 L120.20,241.81 L121.06,241.47 L121.92,241.13 L122.79,240.79 L123.65,240.45 L124.51,240.11 L125.38,239.77 L126.24,239.42 L127.10,239.08 L127.96,238.73 L128.82,238.38 L129.69,238.04 L130.55,237.69 L131.41,237.34 L132.27,236.99 L133.14,236.64 L134.00,236.29 L134.86,235.93 L135.72,235.58 L136.59,235.23 L137.45,234.88 L138.31,234.52 L139.18,234.17 L140.04,233.81 L140.90,233.45 L141.76,233.10 L142.62,232.74 L143.49,232.38 L144.35,232.02 L145.21,231.66 L146.07,231.30 L146.94,230.94 L147.80,230.58 L148.66,230.21 L149.52,229.85 L150.39,229.48 L151.25,229.12 L152.11,228.75 L152.98,228.38 L153.84,228.01 L154.70,227.64 L155.56,227.27 L156.42,226.90 L157.29,226.53 L158.15,226.15 L159.01,225.78 L159.88,225.40 L160.74,225.02 L161.60,224.65 L162.46,224.27 L163.33,223.89 L164.19,223.50 L165.05,223.12 L165.91,222.74 L166.78,222.35 L167.64,221.96 L168.50,221.57 L169.36,221.18 L170.23,220.79 L171.09,220.40 L171.95,220.01 L172.81,219.61 L173.67,219.22 L174.54,218.83 L175.40,218.43 L176.26,218.04 L177.12,217.65 L177.99,217.25 L178.85,216.86 L179.71,216.47 L180.57,216.08 L181.44,215.69 L182.30,215.30 L183.16,214.91 L184.03,214.53 L184.89,214.15 L185.75,213.76 L186.61,213.39 L187.47,213.01 L188.34,212.64 L189.20,212.27 L190.06,211.90 L190.93,211.53 L191.79,211.17 L192.65,210.81 L193.51,210.46 L194.38,210.11 L195.24,209.76 L196.10,209.42 L196.96,209.08 L197.83,208.75 L198.69,208.42 L199.55,208.10 L200.41,207.78 L201.27,207.47 L202.14,207.16 L203.00,206.86 L203.86,206.57 L204.72,206.28 L205.59,205.99 L206.45,205.71 L207.31,205.44 L208.17,205.17 L209.04,204.91 L209.90,204.65 L210.76,204.39 L211.62,204.14 L212.49,203.90 L213.35,203.66 L214.21,203.42 L215.08,203.19 L215.94,202.96 L216.80,202.73 L217.66,202.51 L218.53,202.29 L219.39,202.07 L220.25,201.86 L221.11,201.65 L221.98,201.45 L222.84,201.24 L223.70,201.04 L224.56,200.84 L225.42,200.64 L226.29,200.45 L227.15,200.26 L228.01,200.06 L228.88,199.87 L229.74,199.69 L230.60,199.50 L231.46,199.31 L232.32,199.13 L233.19,198.94 L234.05,198.76 L234.91,198.58 L235.78,198.40 L236.64,198.22 L237.50,198.03 L237.50,226.28 L236.64,226.34 L235.78,226.39 L234.91,226.44 L234.05,226.50 L233.19,226.55 L232.32,226.61 L231.46,226.67 L230.60,226.72 L229.74,226.78 L228.88,226.84 L228.01,226.90 L227.15,226.96 L226.29,227.03 L225.42,227.09 L224.56,227.16 L223.70,227.23 L222.84,227.30 L221.98,227.38 L221.11,227.45 L220.25,227.53 L219.39,227.61 L218.53,227.69 L217.66,227.78 L216.80,227.87 L215.94,227.96 L215.08,228.06 L214.21,228.16 L213.35,228.26 L212.49,228.37 L211.62,228.48 L210.76,228.59 L209.90,228.71 L209.04,228.83 L208.17,228.96 L207.31,229.09 L206.45,229.22 L205.59,229.36 L204.72,229.51 L203.86,229.66 L203.00,229.81 L202.14,229.97 L201.27,230.14 L200.41,230.31 L199.55,230.48 L198.69,230.66 L197.83,230.84 L196.96,231.03 L196.10,231.22 L195.24,231.41 L194.38,231.61 L193.51,231.80 L192.65,232.01 L191.79,232.21 L190.93,232.42 L190.06,232.63 L189.20,232.84 L188.34,233.05 L187.47,233.26 L186.61,233.48 L185.75,233.69 L184.89,233.91 L184.03,234.13 L183.16,234.34 L182.30,234.56 L181.44,234.78 L180.57,234.99 L179.71,235.21 L178.85,235.42 L177.99,235.64 L177.12,235.85 L176.26,236.06 L175.40,236.27 L174.54,236.48 L173.67,236.68 L172.81,236.89 L171.95,237.09 L171.09,237.28 L170.23,237.48 L169.36,237.67 L168.50,237.86 L167.64,238.04 L166.78,238.22 L165.91,238.40 L165.05,238.57 L164.19,238.74 L163.33,238.91 L162.46,239.07 L161.60,239.23 L160.74,239.39 L159.88,239.55 L159.01,239.71 L158.15,239.86 L157.29,240.01 L156.42,240.16 L155.56,240.31 L154.70,240.46 L153.84,240.61 L152.98,240.76 L152.11,240.90 L151.25,241.05 L150.39,241.19 L149.52,241.34 L148.66,241.48 L147.80,241.63 L146.94,241.77 L146.07,241.92 L145.21,242.07 L144.35,242.22 L143.49,242.36 L142.62,242.52 L141.76,242.67 L140.90,242.82 L140.04,242.98 L139.18,243.13 L138.31,243.29 L137.45,243.46 L136.59,243.62 L135.72,243.79 L134.86,243.96 L134.00,244.13 L133.14,244.31 L132.27,244.49 L131.41,244.67 L130.55,244.86 L129.69,245.04 L128.82,245.23 L127.96,245.43 L127.10,245.62 L126.24,245.82 L125.38,246.02 L124.51,246.21 L123.65,246.42 L122.79,246.62 L121.92,246.82 L121.06,247.03 L120.20,247.23 L119.34,247.44 L118.47,247.64 L117.61,247.85 L116.75,248.06 L115.89,248.26 L115.02,248.47 L114.16,248.67 L113.30,248.88 L112.44,249.09 L111.58,249.29 L110.71,249.50 L109.85,249.71 L108.99,249.91 L108.12,250.12 L107.26,250.32 L106.40,250.53 L105.54,250.73 L104.67,250.94 L103.81,251.15 L102.95,251.35 L102.09,251.56 L101.23,251.76 L100.36,251.97 L99.50,251.98 L98.64,252.35 L97.78,252.72 L96.91,253.09 L96.05,253.47 L95.19,253.84 L94.33,254.21 L93.46,254.58 L92.60,254.95 L91.74,255.32 L90.88,255.69 L90.01,256.07 L89.15,256.46 L88.29,256.84 L87.43,257.24 L86.56,257.62 L85.70,258.01 L84.84,258.38 L83.98,258.74 L83.11,259.08 L82.25,259.41 L81.39,259.72 L80.53,260.02 L79.66,260.31 L78.80,260.59 L77.94,260.87 L77.08,261.13 L76.21,261.39 L75.35,261.64 L74.49,261.87 L73.62,262.09 L72.76,262.31 L71.90,262.52 L71.04,262.74 L70.18,262.96 L69.31,263.15 L68.45,263.33 L67.59,263.52 L66.72,263.72 L65.86,263.95 L65.00,264.19 L64.14,264.49 L63.27,264.83 L62.41,265.21 L61.55,265.60 L60.69,265.99 L59.83,266.38 L58.96,266.80 L58.10,267.23 L57.24,267.70 L56.38,268.20 L55.51,268.90 L54.65,269.75 L53.79,270.48 L52.92,270.79 L52.06,269.51 L51.20,268.06 L50.34,267.78 L49.47,267.68 L48.61,267.77 L47.75,268.00 L46.89,268.33 L46.02,268.71 L45.16,269.12 L44.30,269.50 L43.44,269.94 L42.58,270.49 L41.71,271.06 L40.85,271.58 L39.99,271.95 L39.12,272.10 L38.26,271.99 L37.40,271.71 L36.54,271.34 L35.67,270.97 L34.81,270.69 L33.95,270.58 L33.09,270.66 L32.23,270.86 L31.36,271.18 L30.50,271.60Z" fill="#1f77b4" fill-opacity="0.3" stroke="#1f77b4" stroke-opacity="0.3" stroke-width="0.7"/>
<path d="M30.50,267.87 L31.36,267.45 L32.23,267.14 L33.09,266.93 L33.95,266.85 L34.81,266.96 L35.67,267.24 L36.54,267.61 L37.40,267.98 L38.26,268.26 L39.12,268.37 L39.99,268.22 L40.85,267.85 L41.71,267.33 L42.58,266.76 L43.44,266.21 L44.30,265.77 L45.16,265.39 L46.02,264.99 L46.89,264.60 L47.75,264.27 L48.61,264.04 L49.47,263.95 L50.34,264.06 L51.20,264.33 L52.06,265.78 L52.92,267.06 L53.79,266.75 L54.65,266.02 L55.51,265.17 L56.38,264.47 L57.24,263.97 L58.10,263.50 L58.96,263.07 L59.83,262.66 L60.69,262.26 L61.55,261.87 L62.41,261.49 L63.27,261.11 L64.14,260.76 L65.00,260.47 L65.86,260.22 L66.72,260.00 L67.59,259.79 L68.45,259.61 L69.31,259.42 L70.18,259.24 L71.04,259.01 L71.90,258.79 L72.76,258.58 L73.62,258.37 L74.49,258.15 L75.35,257.91 L76.21,257.66 L77.08,257.41 L77.94,257.14 L78.80,256.87 L79.66,256.59 L80.53,256.29 L81.39,255.99 L82.25,255.68 L83.11,255.36 L83.98,255.01 L84.84,254.65 L85.70,254.28 L86.56,253.90 L87.43,253.51 L88.29,253.12 L89.15,252.73 L90.01,252.34 L90.88,251.97 L91.74,251.60 L92.60,251.22 L93.46,250.85 L94.33,250.48 L95.19,250.11 L96.05,249.74 L96.91,249.37 L97.78,249.00 L98.64,248.62 L99.50,248.25 L100.36,248.75 L101.23,248.46 L102.09,248.18 L102.95,247.89 L103.81,247.60 L104.67,247.31 L105.54,247.02 L106.40,246.73 L107.26,246.44 L108.12,246.15 L108.99,245.86 L109.85,245.56 L110.71,245.27 L111.58,244.97 L112.44,244.67 L113.30,244.37 L114.16,244.07 L115.02,243.77 L115.89,243.46 L116.75,243.15 L117.61,242.84 L118.47,242.53 L119.34,242.21 L120.20,241.90 L121.06,241.57 L121.92,241.25 L122.79,240.92 L123.65,240.59 L124.51,240.26 L125.38,239.92 L126.24,239.58 L127.10,239.23 L127.96,238.88 L128.82,238.52 L129.69,238.16 L130.55,237.80 L131.41,237.43 L132.27,237.05 L133.14,236.67 L134.00,236.29 L134.86,235.89 L135.72,235.50 L136.59,235.09 L137.45,234.68 L138.31,234.27 L139.18,233.85 L140.04,233.43 L140.90,233.00 L141.76,232.56 L142.62,232.12 L143.49,231.68 L144.35,231.23 L145.21,230.78 L146.07,230.32 L146.94,229.86 L147.80,229.39 L148.66,228.92 L149.52,228.45 L150.39,227.97 L151.25,227.49 L152.11,227.01 L152.98,226.52 L153.84,226.03 L154.70,225.53 L155.56,225.03 L156.42,224.53 L157.29,224.03 L158.15,223.52 L159.01,223.01 L159.88,222.50 L160.74,221.98 L161.60,221.47 L162.46,220.95 L163.33,220.43 L164.19,219.90 L165.05,219.38 L165.91,218.85 L166.78,218.32 L167.64,217.79 L168.50,217.26 L169.36,216.72 L170.23,216.19 L171.09,215.65 L171.95,215.12 L172.81,214.58 L173.67,214.04 L174.54,213.51 L175.40,212.97 L176.26,212.43 L177.12,211.90 L177.99,211.37 L178.85,210.83 L179.71,210.30 L180.57,209.77 L181.44,209.24 L182.30,208.72 L183.16,208.20 L184.03,207.68 L184.89,207.16 L185.75,206.65 L186.61,206.14 L187.47,205.63 L188.34,205.13 L189.20,204.63 L190.06,204.14 L190.93,203.65 L191.79,203.17 L192.65,202.69 L193.51,202.21 L194.38,201.75 L195.24,201.29 L196.10,200.83 L196.96,200.38 L197.83,199.94 L198.69,199.51 L199.55,199.08 L200.41,198.66 L201.27,198.25 L202.14,197.84 L203.00,197.44 L203.86,197.06 L204.72,196.68 L205.59,196.31 L206.45,195.94 L207.31,195.59 L208.17,195.24 L209.04,194.89 L209.90,194.56 L210.76,194.23 L211.62,193.91 L212.49,193.60 L213.35,193.29 L214.21,192.98 L215.08,192.69 L215.94,192.39 L216.80,192.11 L217.66,191.83 L218.53,191.55 L219.39,191.28 L220.25,191.01 L221.11,190.75 L221.98,190.49 L222.84,190.23 L223.70,189.98 L224.56,189.73 L225.42,189.49 L226.29,189.24 L227.15,189.00 L228.01,188.77 L228.88,188.53 L229.74,188.30 L230.60,188.07 L231.46,187.84 L232.32,187.61 L233.19,187.38 L234.05,187.16 L234.91,186.93 L235.78,186.71 L236.64,186.49 L237.50,186.26 L237.50,222.55 L236.64,222.65 L235.78,222.74 L234.91,222.84 L234.05,222.93 L233.19,223.02 L232.32,223.12 L231.46,223.22 L230.60,223.31 L229.74,223.41 L228.88,223.51 L228.01,223.61 L227.15,223.71 L226.29,223.81 L225.42,223.92 L224.56,224.02 L223.70,224.13 L222.84,224.24 L221.98,224.35 L221.11,224.46 L220.25,224.57 L219.39,224.69 L218.53,224.81 L217.66,224.93 L216.80,225.05 L215.94,225.18 L215.08,225.31 L214.21,225.44 L213.35,225.57 L212.49,225.71 L211.62,225.85 L210.76,226.00 L209.90,226.14 L209.04,226.30 L208.17,226.45 L207.31,226.61 L206.45,226.77 L205.59,226.94 L204.72,227.11 L203.86,227.28 L203.00,227.46 L202.14,227.64 L201.27,227.83 L200.41,228.02 L199.55,228.21 L198.69,228.41 L197.83,228.61 L196.96,228.82 L196.10,229.03 L195.24,229.24 L194.38,229.45 L193.51,229.67 L192.65,229.89 L191.79,230.11 L190.93,230.33 L190.06,230.56 L189.20,230.78 L188.34,231.01 L187.47,231.24 L186.61,231.47 L185.75,231.70 L184.89,231.94 L184.03,232.17 L183.16,232.40 L182.30,232.64 L181.44,232.87 L180.57,233.11 L179.71,233.34 L178.85,233.57 L177.99,233.81 L177.12,234.04 L176.26,234.27 L175.40,234.50 L174.54,234.73 L173.67,234.96 L172.81,235.18 L171.95,235.41 L171.09,235.63 L170.23,235.85 L169.36,236.07 L168.50,236.29 L167.64,236.50 L166.78,236.71 L165.91,236.92 L165.05,237.12 L164.19,237.33 L163.33,237.53 L162.46,237.73 L161.60,237.93 L160.74,238.12 L159.88,238.32 L159.01,238.51 L158.15,238.70 L157.29,238.90 L156.42,239.09 L155.56,239.28 L154.70,239.46 L153.84,239.65 L152.98,239.84 L152.11,240.03 L151.25,240.22 L150.39,240.40 L149.52,240.59 L148.66,240.78 L147.80,240.97 L146.94,241.16 L146.07,241.34 L145.21,241.53 L144.35,241.73 L143.49,241.92 L142.62,242.11 L141.76,242.30 L140.90,242.50 L140.04,242.70 L139.18,242.90 L138.31,243.10 L137.45,243.30 L136.59,243.50 L135.72,243.71 L134.86,243.92 L134.00,244.13 L133.14,244.35 L132.27,244.56 L131.41,244.78 L130.55,245.00 L129.69,245.23 L128.82,245.45 L127.96,245.68 L127.10,245.90 L126.24,246.13 L125.38,246.36 L124.51,246.59 L123.65,246.82 L122.79,247.05 L121.92,247.28 L121.06,247.51 L120.20,247.74 L119.34,247.96 L118.47,248.19 L117.61,248.42 L116.75,248.64 L115.89,248.87 L115.02,249.09 L114.16,249.31 L113.30,249.53 L112.44,249.75 L111.58,249.97 L110.71,250.19 L109.85,250.41 L108.99,250.62 L108.12,250.84 L107.26,251.05 L106.40,251.26 L105.54,251.48 L104.67,251.69 L103.81,251.90 L102.95,252.11 L102.09,252.33 L101.23,252.54 L100.36,252.75 L99.50,253.35 L98.64,253.72 L97.78,254.10 L96.91,254.47 L96.05,254.84 L95.19,255.21 L94.33,255.58 L93.46,255.95 L92.60,256.32 L91.74,256.70 L90.88,257.07 L90.01,257.44 L89.15,257.83 L88.29,258.22 L87.43,258.61 L86.56,259.00 L85.70,259.38 L84.84,259.75 L83.98,260.11 L83.11,260.46 L82.25,260.78 L81.39,261.09 L80.53,261.39 L79.66,261.69 L78.80,261.97 L77.94,262.24 L77.08,262.51 L76.21,262.76 L75.35,263.01 L74.49,263.25 L73.62,263.47 L72.76,263.68 L71.90,263.89 L71.04,264.11 L70.18,264.34 L69.31,264.52 L68.45,264.71 L67.59,264.89 L66.72,265.10 L65.86,265.32 L65.00,265.57 L64.14,265.86 L63.27,266.21 L62.41,266.59 L61.55,266.97 L60.69,267.36 L59.83,267.76 L58.96,268.17 L58.10,268.60 L57.24,269.07 L56.38,269.57 L55.51,270.27 L54.65,271.13 L53.79,271.85 L52.92,272.16 L52.06,270.88 L51.20,269.43 L50.34,269.16 L49.47,269.05 L48.61,269.15 L47.75,269.37 L46.89,269.70 L46.02,270.09 L45.16,270.49 L44.30,270.87 L43.44,271.31 L42.58,271.86 L41.71,272.43 L40.85,272.95 L39.99,273.32 L39.12,273.47 L38.26,273.36 L37.40,273.08 L36.54,272.71 L35.67,272.34 L34.81,272.06 L33.95,271.95 L33.09,272.03 L32.23,272.24 L31.36,272.56 L30.50,272.97Z" fill="#ff7f0e" fill-opacity="0.2" stroke="#ff7f0e" stroke-opacity="0.2" stroke-width="0.7"/>
<path d="M30.50,269.44 L31.36,269.02 L32.23,268.71 L33.09,268.50 L33.95,268.42 L34.81,268.53 L35.67,268.81 L36.54,269.18 L37.40,269.55 L38.26,269.83 L39.12,269.94 L39.99,269.79 L40.85,269.42 L41.71,268.90 L42.58,268.33 L43.44,267.78 L44.30,267.34 L45.16,266.96 L46.02,266.56 L46.89,266.17 L47.75,265.84 L48.61,265.61 L49.47,265.52 L50.34,265.63 L51.20,265.90 L52.06,267.35 L52.92,268.63 L53.79,268.32 L54.65,267.59 L55.51,266.74 L56.38,266.04 L57.24,265.54 L58.10,265.07 L58.96,264.64 L59.83,264.23 L60.69,263.83 L61.55,263.44 L62.41,263.05 L63.27,262.68 L64.14,262.33 L65.00,262.03 L65.86,261.79 L66.72,261.57 L67.59,261.36 L68.45,261.17 L69.31,260.99 L70.18,260.81 L71.04,260.58 L71.90,260.36 L72.76,260.15 L73.62,259.94 L74.49,259.71 L75.35,259.48 L76.21,259.23 L77.08,258.98 L77.94,258.71 L78.80,258.44 L79.66,258.15 L80.53,257.86 L81.39,257.56 L82.25,257.25 L83.11,256.93 L83.98,256.58 L84.84,256.22 L85.70,255.85 L86.56,255.47 L87.43,255.08 L88.29,254.69 L89.15,254.30 L90.01,253.91 L90.88,253.54 L91.74,253.17 L92.60,252.79 L93.46,252.42 L94.33,252.05 L95.19,251.68 L96.05,251.31 L96.91,250.94 L97.78,250.56 L98.64,250.19 L99.50,249.82 L100.36,249.31 L101.23,249.00 L102.09,248.69 L102.95,248.37 L103.81,248.06 L104.67,247.74 L105.54,247.43 L106.40,247.11 L107.26,246.79 L108.12,246.47 L108.99,246.15 L109.85,245.83 L110.71,245.50 L111.58,245.17 L112.44,244.84 L113.30,244.51 L114.16,244.18 L115.02,243.84 L115.89,243.50 L116.75,243.15 L117.61,242.80 L118.47,242.45 L119.34,242.10 L120.20,241.74 L121.06,241.38 L121.92,241.02 L122.79,240.65 L123.65,240.28 L124.51,239.91 L125.38,239.54 L126.24,239.16 L127.10,238.79 L127.96,238.41 L128.82,238.02 L129.69,237.64 L130.55,237.25 L131.41,236.87 L132.27,236.48 L133.14,236.09 L134.00,235.70 L134.86,235.30 L135.72,234.91 L136.59,234.52 L137.45,234.12 L138.31,233.72 L139.18,233.32 L140.04,232.92 L140.90,232.52 L141.76,232.12 L142.62,231.71 L143.49,231.30 L144.35,230.89 L145.21,230.48 L146.07,230.07 L146.94,229.66 L147.80,229.24 L148.66,228.83 L149.52,228.41 L150.39,227.99 L151.25,227.56 L152.11,227.14 L152.98,226.71 L153.84,226.28 L154.70,225.85 L155.56,225.42 L156.42,224.98 L157.29,224.54 L158.15,224.10 L159.01,223.66 L159.88,223.22 L160.74,222.77 L161.60,222.32 L162.46,221.87 L163.33,221.41 L164.19,220.96 L165.05,220.50 L165.91,220.03 L166.78,219.57 L167.64,219.10 L168.50,218.63 L169.36,218.16 L170.23,217.68 L171.09,217.20 L171.95,216.73 L172.81,216.24 L173.67,215.76 L174.54,215.28 L175.40,214.80 L176.26,214.31 L177.12,213.83 L177.99,213.35 L178.85,212.86 L179.71,212.38 L180.57,211.90 L181.44,211.43 L182.30,210.95 L183.16,210.48 L184.03,210.01 L184.89,209.54 L185.75,209.07 L186.61,208.61 L187.47,208.16 L188.34,207.70 L189.20,207.25 L190.06,206.81 L190.93,206.37 L191.79,205.94 L192.65,205.51 L193.51,205.09 L194.38,204.68 L195.24,204.27 L196.10,203.88 L196.96,203.48 L197.83,203.10 L198.69,202.72 L199.55,202.36 L200.41,202.00 L201.27,201.65 L202.14,201.31 L203.00,200.98 L203.86,200.66 L204.72,200.34 L205.59,200.04 L206.45,199.75 L207.31,199.47 L208.17,199.19 L209.04,198.93 L209.90,198.67 L210.76,198.42 L211.62,198.18 L212.49,197.95 L213.35,197.72 L214.21,197.50 L215.08,197.29 L215.94,197.08 L216.80,196.88 L217.66,196.69 L218.53,196.50 L219.39,196.32 L220.25,196.14 L221.11,195.97 L221.98,195.80 L222.84,195.64 L223.70,195.48 L224.56,195.33 L225.42,195.18 L226.29,195.03 L227.15,194.89 L228.01,194.75 L228.88,194.61 L229.74,194.47 L230.60,194.34 L231.46,194.21 L232.32,194.08 L233.19,193.95 L234.05,193.82 L234.91,193.70 L235.78,193.57 L236.64,193.45 L237.50,193.33 L237.50,217.65 L236.64,217.74 L235.78,217.82 L234.91,217.91 L234.05,218.00 L233.19,218.09 L232.32,218.17 L231.46,218.26 L230.60,218.35 L229.74,218.45 L228.88,218.54 L228.01,218.63 L227.15,218.73 L226.29,218.82 L225.42,218.92 L224.56,219.02 L223.70,219.13 L222.84,219.23 L221.98,219.34 L221.11,219.45 L220.25,219.56 L219.39,219.68 L218.53,219.79 L217.66,219.91 L216.80,220.04 L215.94,220.17 L215.08,220.30 L214.21,220.43 L213.35,220.57 L212.49,220.71 L211.62,220.85 L210.76,221.00 L209.90,221.16 L209.04,221.32 L208.17,221.48 L207.31,221.65 L206.45,221.82 L205.59,221.99 L204.72,222.18 L203.86,222.36 L203.00,222.55 L202.14,222.75 L201.27,222.95 L200.41,223.16 L199.55,223.37 L198.69,223.59 L197.83,223.81 L196.96,224.04 L196.10,224.27 L195.24,224.50 L194.38,224.74 L193.51,224.98 L192.65,225.22 L191.79,225.46 L190.93,225.71 L190.06,225.96 L189.20,226.22 L188.34,226.47 L187.47,226.73 L186.61,226.98 L185.75,227.24 L184.89,227.50 L184.03,227.76 L183.16,228.03 L182.30,228.29 L181.44,228.55 L180.57,228.81 L179.71,229.07 L178.85,229.34 L177.99,229.60 L177.12,229.86 L176.26,230.12 L175.40,230.37 L174.54,230.63 L173.67,230.88 L172.81,231.14 L171.95,231.39 L171.09,231.64 L170.23,231.88 L169.36,232.12 L168.50,232.36 L167.64,232.60 L166.78,232.83 L165.91,233.06 L165.05,233.29 L164.19,233.51 L163.33,233.74 L162.46,233.96 L161.60,234.18 L160.74,234.39 L159.88,234.61 L159.01,234.82 L158.15,235.03 L157.29,235.24 L156.42,235.46 L155.56,235.66 L154.70,235.87 L153.84,236.08 L152.98,236.29 L152.11,236.50 L151.25,236.71 L150.39,236.92 L149.52,237.13 L148.66,237.34 L147.80,237.55 L146.94,237.76 L146.07,237.97 L145.21,238.19 L144.35,238.40 L143.49,238.62 L142.62,238.84 L141.76,239.06 L140.90,239.29 L140.04,239.52 L139.18,239.74 L138.31,239.98 L137.45,240.21 L136.59,240.45 L135.72,240.69 L134.86,240.94 L134.00,241.19 L133.14,241.44 L132.27,241.70 L131.41,241.96 L130.55,242.23 L129.69,242.49 L128.82,242.76 L127.96,243.03 L127.10,243.31 L126.24,243.58 L125.38,243.86 L124.51,244.14 L123.65,244.42 L122.79,244.70 L121.92,244.99 L121.06,245.27 L120.20,245.55 L119.34,245.84 L118.47,246.12 L117.61,246.40 L116.75,246.68 L115.89,246.96 L115.02,247.24 L114.16,247.52 L113.30,247.80 L112.44,248.08 L111.58,248.35 L110.71,248.63 L109.85,248.91 L108.99,249.18 L108.12,249.45 L107.26,249.73 L106.40,250.00 L105.54,250.27 L104.67,250.55 L103.81,250.82 L102.95,251.09 L102.09,251.36 L101.23,251.63 L100.36,251.90 L99.50,252.18 L98.64,252.55 L97.78,252.92 L96.91,253.29 L96.05,253.66 L95.19,254.03 L94.33,254.40 L93.46,254.78 L92.60,255.15 L91.74,255.52 L90.88,255.89 L90.01,256.27 L89.15,256.65 L88.29,257.04 L87.43,257.43 L86.56,257.82 L85.70,258.20 L84.84,258.57 L83.98,258.94 L83.11,259.28 L82.25,259.61 L81.39,259.92 L80.53,260.22 L79.66,260.51 L78.80,260.79 L77.94,261.06 L77.08,261.33 L76.21,261.59 L75.35,261.83 L74.49,262.07 L73.62,262.29 L72.76,262.50 L71.90,262.72 L71.04,262.93 L70.18,263.16 L69.31,263.34 L68.45,263.53 L67.59,263.72 L66.72,263.92 L65.86,264.14 L65.00,264.39 L64.14,264.68 L63.27,265.03 L62.41,265.41 L61.55,265.80 L60.69,266.18 L59.83,266.58 L58.96,266.99 L58.10,267.43 L57.24,267.89 L56.38,268.40 L55.51,269.10 L54.65,269.95 L53.79,270.67 L52.92,270.98 L52.06,269.70 L51.20,268.25 L50.34,267.98 L49.47,267.88 L48.61,267.97 L47.75,268.20 L46.89,268.52 L46.02,268.91 L45.16,269.31 L44.30,269.69 L43.44,270.13 L42.58,270.68 L41.71,271.26 L40.85,271.77 L39.99,272.15 L39.12,272.30 L38.26,272.19 L37.40,271.91 L36.54,271.54 L35.67,271.17 L34.81,270.88 L33.95,270.78 L33.09,270.85 L32.23,271.06 L31.36,271.38 L30.50,271.79Z" fill="#ff7f0e" fill-opacity="0.33" stroke="#ff7f0e" stroke-opacity="0.33" stroke-width="0.7"/>
<path d="M30.50,269.83 L31.36,269.42 L32.23,269.10 L33.09,268.89 L33.95,268.82 L34.81,268.92 L35.67,269.21 L36.54,269.57 L37.40,269.94 L38.26,270.23 L39.12,270.33 L39.99,270.18 L40.85,269.81 L41.71,269.29 L42.58,268.72 L43.44,268.17 L44.30,267.73 L45.16,267.35 L46.02,266.95 L46.89,266.56 L47.75,266.24 L48.61,266.01 L49.47,265.92 L50.34,266.02 L51.20,266.29 L52.06,267.74 L52.92,269.02 L53.79,268.71 L54.65,267.99 L55.51,267.13 L56.38,266.44 L57.24,265.93 L58.10,265.47 L58.96,265.03 L59.83,264.62 L60.69,264.22 L61.55,263.83 L62.41,263.45 L63.27,263.07 L64.14,262.72 L65.00,262.43 L65.86,262.18 L66.72,261.96 L67.59,261.76 L68.45,261.57 L69.31,261.38 L70.18,261.20 L71.04,260.97 L71.90,260.75 L72.76,260.54 L73.62,260.33 L74.49,260.11 L75.35,259.87 L76.21,259.62 L77.08,259.37 L77.94,259.10 L78.80,258.83 L79.66,258.55 L80.53,258.26 L81.39,257.96 L82.25,257.64 L83.11,257.32 L83.98,256.97 L84.84,256.61 L85.70,256.24 L86.56,255.86 L87.43,255.47 L88.29,255.08 L89.15,254.69 L90.01,254.31 L90.88,253.93 L91.74,253.56 L92.60,253.19 L93.46,252.81 L94.33,252.44 L95.19,252.07 L96.05,251.70 L96.91,251.33 L97.78,250.96 L98.64,250.59 L99.50,250.21 L100.36,250.62 L101.23,250.43 L102.09,250.24 L102.95,250.05 L103.81,249.86 L104.67,249.67 L105.54,249.48 L106.40,249.28 L107.26,249.08 L108.12,248.88 L108.99,248.68 L109.85,248.48 L110.71,248.27 L111.58,248.05 L112.44,247.84 L113.30,247.62 L114.16,247.39 L115.02,247.16 L115.89,246.92 L116.75,246.68 L117.61,246.44 L118.47,246.18 L119.34,245.93 L120.20,245.67 L121.06,245.40 L121.92,245.13 L122.79,244.86 L123.65,244.58 L124.51,244.30 L125.38,244.02 L126.24,243.74 L127.10,243.46 L127.96,243.17 L128.82,242.89 L129.69,242.60 L130.55,242.32 L131.41,242.04 L132.27,241.75 L133.14,241.47 L134.00,241.19 L134.86,240.91 L135.72,240.64 L136.59,240.36 L137.45,240.09 L138.31,239.82 L139.18,239.55 L140.04,239.28 L140.90,239.02 L141.76,238.75 L142.62,238.49 L143.49,238.23 L144.35,237.97 L145.21,237.71 L146.07,237.45 L146.94,237.19 L147.80,236.93 L148.66,236.67 L149.52,236.41 L150.39,236.16 L151.25,235.90 L152.11,235.64 L152.98,235.38 L153.84,235.13 L154.70,234.87 L155.56,234.61 L156.42,234.35 L157.29,234.09 L158.15,233.83 L159.01,233.57 L159.88,233.31 L160.74,233.04 L161.60,232.78 L162.46,232.51 L163.33,232.24 L164.19,231.97 L165.05,231.70 L165.91,231.43 L166.78,231.15 L167.64,230.88 L168.50,230.60 L169.36,230.32 L170.23,230.03 L171.09,229.75 L171.95,229.46 L172.81,229.17 L173.67,228.88 L174.54,228.59 L175.40,228.30 L176.26,228.01 L177.12,227.71 L177.99,227.42 L178.85,227.13 L179.71,226.83 L180.57,226.54 L181.44,226.25 L182.30,225.95 L183.16,225.66 L184.03,225.37 L184.89,225.08 L185.75,224.80 L186.61,224.51 L187.47,224.22 L188.34,223.94 L189.20,223.66 L190.06,223.38 L190.93,223.11 L191.79,222.83 L192.65,222.56 L193.51,222.30 L194.38,222.03 L195.24,221.77 L196.10,221.51 L196.96,221.26 L197.83,221.01 L198.69,220.77 L199.55,220.53 L200.41,220.29 L201.27,220.06 L202.14,219.83 L203.00,219.61 L203.86,219.40 L204.72,219.19 L205.59,218.98 L206.45,218.78 L207.31,218.58 L208.17,218.39 L209.04,218.21 L209.90,218.02 L210.76,217.85 L211.62,217.67 L212.49,217.50 L213.35,217.34 L214.21,217.18 L215.08,217.02 L215.94,216.86 L216.80,216.71 L217.66,216.56 L218.53,216.42 L219.39,216.27 L220.25,216.13 L221.11,216.00 L221.98,215.86 L222.84,215.73 L223.70,215.60 L224.56,215.47 L225.42,215.35 L226.29,215.23 L227.15,215.10 L228.01,214.98 L228.88,214.86 L229.74,214.75 L230.60,214.63 L231.46,214.51 L232.32,214.40 L233.19,214.29 L234.05,214.17 L234.91,214.06 L235.78,213.95 L236.64,213.84 L237.50,213.73" fill="none" stroke="#1f77b4" stroke-width="1.1" stroke-linejoin="round" />
<path d="M30.50,270.42 L31.36,270.01 L32.23,269.69 L33.09,269.48 L33.95,269.40 L34.81,269.51 L35.67,269.79 L36.54,270.16 L37.40,270.53 L38.26,270.81 L39.12,270.92 L39.99,270.77 L40.85,270.40 L41.71,269.88 L42.58,269.31 L43.44,268.76 L44.30,268.32 L45.16,267.94 L46.02,267.54 L46.89,267.15 L47.75,266.82 L48.61,266.60 L49.47,266.50 L50.34,266.61 L51.20,266.88 L52.06,268.33 L52.92,269.61 L53.79,269.30 L54.65,268.57 L55.51,267.72 L56.38,267.02 L57.24,266.52 L58.10,266.05 L58.96,265.62 L59.83,265.21 L60.69,264.81 L61.55,264.42 L62.41,264.04 L63.27,263.66 L64.14,263.31 L65.00,263.02 L65.86,262.77 L66.72,262.55 L67.59,262.34 L68.45,262.16 L69.31,261.97 L70.18,261.79 L71.04,261.56 L71.90,261.34 L72.76,261.13 L73.62,260.92 L74.49,260.70 L75.35,260.46 L76.21,260.21 L77.08,259.96 L77.94,259.69 L78.80,259.42 L79.66,259.14 L80.53,258.84 L81.39,258.54 L82.25,258.23 L83.11,257.91 L83.98,257.56 L84.84,257.20 L85.70,256.83 L86.56,256.45 L87.43,256.06 L88.29,255.67 L89.15,255.28 L90.01,254.89 L90.88,254.52 L91.74,254.15 L92.60,253.77 L93.46,253.40 L94.33,253.03 L95.19,252.66 L96.05,252.29 L96.91,251.92 L97.78,251.55 L98.64,251.17 L99.50,250.80 L100.36,250.60 L101.23,250.39 L102.09,250.18 L102.95,249.97 L103.81,249.76 L104.67,249.54 L105.54,249.33 L106.40,249.10 L107.26,248.88 L108.12,248.64 L108.99,248.40 L109.85,248.16 L110.71,247.91 L111.58,247.65 L112.44,247.38 L113.30,247.10 L114.16,246.82 L115.02,246.52 L115.89,246.22 L116.75,245.90 L117.61,245.57 L118.47,245.23 L119.34,244.88 L120.20,244.52 L121.06,244.15 L121.92,243.78 L122.79,243.40 L123.65,243.01 L124.51,242.62 L125.38,242.22 L126.24,241.83 L127.10,241.43 L127.96,241.02 L128.82,240.62 L129.69,240.22 L130.55,239.82 L131.41,239.42 L132.27,239.03 L133.14,238.63 L134.00,238.25 L134.86,237.87 L135.72,237.49 L136.59,237.12 L137.45,236.75 L138.31,236.39 L139.18,236.04 L140.04,235.69 L140.90,235.34 L141.76,235.00 L142.62,234.66 L143.49,234.33 L144.35,233.99 L145.21,233.67 L146.07,233.34 L146.94,233.02 L147.80,232.70 L148.66,232.39 L149.52,232.08 L150.39,231.77 L151.25,231.46 L152.11,231.15 L152.98,230.85 L153.84,230.55 L154.70,230.25 L155.56,229.95 L156.42,229.65 L157.29,229.35 L158.15,229.05 L159.01,228.76 L159.88,228.46 L160.74,228.17 L161.60,227.87 L162.46,227.58 L163.33,227.28 L164.19,226.99 L165.05,226.69 L165.91,226.39 L166.78,226.10 L167.64,225.80 L168.50,225.50 L169.36,225.19 L170.23,224.89 L171.09,224.59 L171.95,224.28 L172.81,223.97 L173.67,223.67 L174.54,223.36 L175.40,223.05 L176.26,222.74 L177.12,222.43 L177.99,222.12 L178.85,221.81 L179.71,221.50 L180.57,221.20 L181.44,220.89 L182.30,220.58 L183.16,220.27 L184.03,219.97 L184.89,219.66 L185.75,219.36 L186.61,219.05 L187.47,218.75 L188.34,218.45 L189.20,218.15 L190.06,217.86 L190.93,217.56 L191.79,217.27 L192.65,216.98 L193.51,216.69 L194.38,216.41 L195.24,216.13 L196.10,215.85 L196.96,215.57 L197.83,215.30 L198.69,215.03 L199.55,214.76 L200.41,214.49 L201.27,214.24 L202.14,213.98 L203.00,213.73 L203.86,213.48 L204.72,213.23 L205.59,212.99 L206.45,212.76 L207.31,212.52 L208.17,212.29 L209.04,212.07 L209.90,211.85 L210.76,211.63 L211.62,211.41 L212.49,211.20 L213.35,210.99 L214.21,210.78 L215.08,210.57 L215.94,210.37 L216.80,210.17 L217.66,209.98 L218.53,209.78 L219.39,209.59 L220.25,209.40 L221.11,209.21 L221.98,209.02 L222.84,208.84 L223.70,208.66 L224.56,208.47 L225.42,208.29 L226.29,208.12 L227.15,207.94 L228.01,207.76 L228.88,207.59 L229.74,207.41 L230.60,207.24 L231.46,207.07 L232.32,206.90 L233.19,206.73 L234.05,206.56 L234.91,206.39 L235.78,206.22 L236.64,206.05 L237.50,205.88" fill="none" stroke="#ff7f0e" stroke-width="1.1" stroke-linejoin="round" />
<path d="M30.50,268.06 L31.36,267.66 L32.23,267.35 L33.09,267.15 L33.95,267.08 L34.81,267.20 L35.67,267.49 L36.54,267.87 L37.40,268.25 L38.26,268.54 L39.12,268.65 L39.99,268.51 L40.85,268.15 L41.71,267.64 L42.58,267.07 L43.44,266.53 L44.30,266.10 L45.16,265.73 L46.02,265.34 L46.89,264.96 L47.75,264.64 L48.61,264.42 L49.47,264.34 L50.34,264.45 L51.20,264.73 L52.06,266.19 L52.92,267.48 L53.79,267.17 L54.65,266.46 L55.51,265.62 L56.38,264.93 L57.24,264.43 L58.10,263.97 L58.96,263.55 L59.83,263.14 L60.69,262.76 L61.55,262.38 L62.41,262.00 L63.27,261.63 L64.14,261.29 L65.00,261.00 L65.86,260.76 L66.72,260.55 L67.59,260.36 L68.45,260.18 L69.31,260.00 L70.18,259.83 L71.04,259.66 L71.90,259.50 L72.76,259.34 L73.62,259.19 L74.49,259.02 L75.35,258.85 L76.21,258.65 L77.08,258.46 L77.94,258.25 L78.80,258.03 L79.66,257.81 L80.53,257.58 L81.39,257.33 L82.25,257.08 L83.11,256.81 L83.98,256.52 L84.84,256.22 L85.70,255.91 L86.56,255.58 L87.43,255.25 L88.29,254.92 L89.15,254.59 L90.01,254.26 L90.88,253.94 L91.74,253.63 L92.60,253.31 L93.46,253.00 L94.33,252.69 L95.19,252.37 L96.05,252.06 L96.91,251.74 L97.78,251.43 L98.64,251.12 L99.50,250.80 L100.36,250.52 L101.23,250.25 L102.09,249.97 L102.95,249.70 L103.81,249.43 L104.67,249.17 L105.54,248.90 L106.40,248.64 L107.26,248.38 L108.12,248.12 L108.99,247.87 L109.85,247.62 L110.71,247.37 L111.58,247.12 L112.44,246.88 L113.30,246.64 L114.16,246.40 L115.02,246.16 L115.89,245.93 L116.75,245.70 L117.61,245.47 L118.47,245.23 L119.34,244.99 L120.20,244.75 L121.06,244.50 L121.92,244.26 L122.79,244.01 L123.65,243.77 L124.51,243.53 L125.38,243.30 L126.24,243.08 L127.10,242.86 L127.96,242.65 L128.82,242.45 L129.69,242.27 L130.55,242.10 L131.41,241.94 L132.27,241.80 L133.14,241.68 L134.00,241.58 L134.86,241.49 L135.72,241.41 L136.59,241.33 L137.45,241.25 L138.31,241.18 L139.18,241.11 L140.04,241.04 L140.90,240.98 L141.76,240.92 L142.62,240.86 L143.49,240.81 L144.35,240.76 L145.21,240.71 L146.07,240.66 L146.94,240.61 L147.80,240.57 L148.66,240.53 L149.52,240.49 L150.39,240.44 L151.25,240.41 L152.11,240.37 L152.98,240.33 L153.84,240.30 L154.70,240.26 L155.56,240.23 L156.42,240.20 L157.29,240.17 L158.15,240.14 L159.01,240.11 L159.88,240.09 L160.74,240.06 L161.60,240.03 L162.46,240.01 L163.33,239.98 L164.19,239.95 L165.05,239.93 L165.91,239.90 L166.78,239.87 L167.64,239.85 L168.50,239.82 L169.36,239.79 L170.23,239.76 L171.09,239.72 L171.95,239.69 L172.81,239.66 L173.67,239.62 L174.54,239.59 L175.40,239.55 L176.26,239.52 L177.12,239.49 L177.99,239.45 L178.85,239.42 L179.71,239.39 L180.57,239.36 L181.44,239.33 L182.30,239.31 L183.16,239.28 L184.03,239.26 L184.89,239.24 L185.75,239.23 L186.61,239.21 L187.47,239.20 L188.34,239.18 L189.20,239.17 L190.06,239.16 L190.93,239.14 L191.79,239.13 L192.65,239.12 L193.51,239.10 L194.38,239.09 L195.24,239.08 L196.10,239.07 L196.96,239.06 L197.83,239.06 L198.69,239.05 L199.55,239.04 L200.41,239.04 L201.27,239.04 L202.14,239.03 L203.00,239.03 L203.86,239.04 L204.72,239.05 L205.59,239.07 L206.45,239.10 L207.31,239.14 L208.17,239.18 L209.04,239.23 L209.90,239.28 L210.76,239.34 L211.62,239.40 L212.49,239.46 L213.35,239.53 L214.21,239.59 L215.08,239.66 L215.94,239.72 L216.80,239.79 L217.66,239.85 L218.53,239.91 L219.39,239.96 L220.25,240.01 L221.11,240.06 L221.98,240.11 L222.84,240.16 L223.70,240.21 L224.56,240.26 L225.42,240.31 L226.29,240.36 L227.15,240.41 L228.01,240.45 L228.88,240.50 L229.74,240.55 L230.60,240.60 L231.46,240.65 L232.32,240.70 L233.19,240.75 L234.05,240.80 L234.91,240.85 L235.78,240.90 L236.64,240.94 L237.50,240.99" fill="none" stroke="#000" stroke-width="1.3" stroke-dasharray="4.6,2.0" stroke-linejoin="round" />
<path d="M30.50,268.06 L31.36,267.66 L32.23,267.35 L33.09,267.15 L33.95,267.08 L34.81,267.20 L35.67,267.49 L36.54,267.87 L37.40,268.25 L38.26,268.54 L39.12,268.65 L39.99,268.51 L40.85,268.15 L41.71,267.64 L42.58,267.07 L43.44,266.53 L44.30,266.10 L45.16,265.73 L46.02,265.34 L46.89,264.96 L47.75,264.64 L48.61,264.42 L49.47,264.34 L50.34,264.45 L51.20,264.73 L52.06,266.19 L52.92,267.48 L53.79,267.17 L54.65,266.46 L55.51,265.62 L56.38,264.93 L57.24,264.43 L58.10,263.97 L58.96,263.55 L59.83,263.14 L60.69,262.76 L61.55,262.38 L62.41,262.00 L63.27,261.63 L64.14,261.29 L65.00,261.00 L65.86,260.76 L66.72,260.55 L67.59,260.36 L68.45,260.18 L69.31,260.00 L70.18,259.83 L71.04,259.66 L71.90,259.50 L72.76,259.34 L73.62,259.19 L74.49,259.02 L75.35,258.85 L76.21,258.65 L77.08,258.46 L77.94,258.25 L78.80,258.03 L79.66,257.81 L80.53,257.58 L81.39,257.33 L82.25,257.08 L83.11,256.81 L83.98,256.52 L84.84,256.22 L85.70,255.91 L86.56,255.58 L87.43,255.25 L88.29,254.92 L89.15,254.59 L90.01,254.26 L90.88,253.94 L91.74,253.63 L92.60,253.31 L93.46,253.00 L94.33,252.69 L95.19,252.37 L96.05,252.06 L96.91,251.74 L97.78,251.43 L98.64,251.12 L99.50,250.80 L100.36,250.55 L101.23,250.29 L102.09,250.04 L102.95,249.78 L103.81,249.53 L104.67,249.28 L105.54,249.02 L106.40,248.77 L107.26,248.51 L108.12,248.26 L108.99,248.00 L109.85,247.75 L110.71,247.49 L111.58,247.24 L112.44,246.98 L113.30,246.73 L114.16,246.47 L115.02,246.21 L115.89,245.96 L116.75,245.70 L117.61,245.45 L118.47,245.19 L119.34,244.93 L120.20,244.68 L121.06,244.42 L121.92,244.17 L122.79,243.91 L123.65,243.66 L124.51,243.41 L125.38,243.16 L126.24,242.91 L127.10,242.67 L127.96,242.42 L128.82,242.18 L129.69,241.94 L130.55,241.71 L131.41,241.48 L132.27,241.25 L133.14,241.02 L134.00,240.80 L134.86,240.58 L135.72,240.36 L136.59,240.15 L137.45,239.94 L138.31,239.74 L139.18,239.54 L140.04,239.34 L140.90,239.14 L141.76,238.95 L142.62,238.76 L143.49,238.57 L144.35,238.39 L145.21,238.20 L146.07,238.02 L146.94,237.84 L147.80,237.67 L148.66,237.49 L149.52,237.32 L150.39,237.15 L151.25,236.98 L152.11,236.81 L152.98,236.65 L153.84,236.48 L154.70,236.32 L155.56,236.15 L156.42,235.99 L157.29,235.83 L158.15,235.67 L159.01,235.51 L159.88,235.34 L160.74,235.18 L161.60,235.02 L162.46,234.86 L163.33,234.70 L164.19,234.54 L165.05,234.38 L165.91,234.22 L166.78,234.06 L167.64,233.90 L168.50,233.74 L169.36,233.57 L170.23,233.41 L171.09,233.24 L171.95,233.07 L172.81,232.91 L173.67,232.74 L174.54,232.57 L175.40,232.40 L176.26,232.23 L177.12,232.06 L177.99,231.89 L178.85,231.72 L179.71,231.55 L180.57,231.38 L181.44,231.21 L182.30,231.04 L183.16,230.87 L184.03,230.70 L184.89,230.53 L185.75,230.36 L186.61,230.19 L187.47,230.02 L188.34,229.85 L189.20,229.68 L190.06,229.51 L190.93,229.34 L191.79,229.17 L192.65,229.01 L193.51,228.84 L194.38,228.67 L195.24,228.51 L196.10,228.34 L196.96,228.18 L197.83,228.02 L198.69,227.86 L199.55,227.70 L200.41,227.54 L201.27,227.38 L202.14,227.22 L203.00,227.07 L203.86,226.91 L204.72,226.76 L205.59,226.61 L206.45,226.46 L207.31,226.31 L208.17,226.16 L209.04,226.01 L209.90,225.87 L210.76,225.72 L211.62,225.58 L212.49,225.43 L213.35,225.29 L214.21,225.15 L215.08,225.01 L215.94,224.87 L216.80,224.73 L217.66,224.60 L218.53,224.46 L219.39,224.32 L220.25,224.19 L221.11,224.05 L221.98,223.92 L222.84,223.78 L223.70,223.65 L224.56,223.52 L225.42,223.39 L226.29,223.26 L227.15,223.12 L228.01,222.99 L228.88,222.86 L229.74,222.73 L230.60,222.60 L231.46,222.47 L232.32,222.35 L233.19,222.22 L234.05,222.09 L234.91,221.96 L235.78,221.83 L236.64,221.70 L237.50,221.57" fill="none" stroke="#000" stroke-width="1.3" stroke-dasharray="1.25,2.06" stroke-linejoin="round" />
<path d="M30.50,268.06 L31.36,267.66 L32.23,267.35 L33.09,267.15 L33.95,267.08 L34.81,267.20 L35.67,267.49 L36.54,267.87 L37.40,268.25 L38.26,268.54 L39.12,268.65 L39.99,268.51 L40.85,268.15 L41.71,267.64 L42.58,267.07 L43.44,266.53 L44.30,266.10 L45.16,265.73 L46.02,265.34 L46.89,264.96 L47.75,264.64 L48.61,264.42 L49.47,264.34 L50.34,264.45 L51.20,264.73 L52.06,266.19 L52.92,267.48 L53.79,267.17 L54.65,266.46 L55.51,265.62 L56.38,264.93 L57.24,264.43 L58.10,263.97 L58.96,263.55 L59.83,263.14 L60.69,262.76 L61.55,262.38 L62.41,262.00 L63.27,261.63 L64.14,261.29 L65.00,261.00 L65.86,260.76 L66.72,260.55 L67.59,260.36 L68.45,260.18 L69.31,260.00 L70.18,259.83 L71.04,259.66 L71.90,259.50 L72.76,259.34 L73.62,259.19 L74.49,259.02 L75.35,258.85 L76.21,258.65 L77.08,258.46 L77.94,258.25 L78.80,258.03 L79.66,257.81 L80.53,257.58 L81.39,257.33 L82.25,257.08 L83.11,256.81 L83.98,256.52 L84.84,256.22 L85.70,255.91 L86.56,255.58 L87.43,255.25 L88.29,254.92 L89.15,254.59 L90.01,254.26 L90.88,253.94 L91.74,253.63 L92.60,253.31 L93.46,253.00 L94.33,252.69 L95.19,252.37 L96.05,252.06 L96.91,251.74 L97.78,251.43 L98.64,251.12 L99.50,250.80 L100.36,250.64 L101.23,250.46 L102.09,250.28 L102.95,250.08 L103.81,249.88 L104.67,249.68 L105.54,249.46 L106.40,249.24 L107.26,249.01 L108.12,248.77 L108.99,248.53 L109.85,248.28 L110.71,248.02 L111.58,247.76 L112.44,247.50 L113.30,247.23 L114.16,246.95 L115.02,246.67 L115.89,246.38 L116.75,246.09 L117.61,245.79 L118.47,245.48 L119.34,245.15 L120.20,244.81 L121.06,244.46 L121.92,244.10 L122.79,243.72 L123.65,243.34 L124.51,242.95 L125.38,242.55 L126.24,242.15 L127.10,241.75 L127.96,241.33 L128.82,240.92 L129.69,240.51 L130.55,240.09 L131.41,239.68 L132.27,239.26 L133.14,238.85 L134.00,238.44 L134.86,238.04 L135.72,237.62 L136.59,237.21 L137.45,236.78 L138.31,236.36 L139.18,235.93 L140.04,235.50 L140.90,235.07 L141.76,234.63 L142.62,234.19 L143.49,233.75 L144.35,233.31 L145.21,232.87 L146.07,232.43 L146.94,231.99 L147.80,231.56 L148.66,231.12 L149.52,230.68 L150.39,230.25 L151.25,229.81 L152.11,229.38 L152.98,228.95 L153.84,228.52 L154.70,228.10 L155.56,227.67 L156.42,227.25 L157.29,226.82 L158.15,226.40 L159.01,225.97 L159.88,225.54 L160.74,225.12 L161.60,224.69 L162.46,224.26 L163.33,223.83 L164.19,223.39 L165.05,222.96 L165.91,222.52 L166.78,222.07 L167.64,221.63 L168.50,221.18 L169.36,220.73 L170.23,220.27 L171.09,219.82 L171.95,219.36 L172.81,218.89 L173.67,218.43 L174.54,217.96 L175.40,217.49 L176.26,217.02 L177.12,216.55 L177.99,216.07 L178.85,215.60 L179.71,215.12 L180.57,214.64 L181.44,214.17 L182.30,213.69 L183.16,213.21 L184.03,212.73 L184.89,212.25 L185.75,211.77 L186.61,211.28 L187.47,210.80 L188.34,210.32 L189.20,209.83 L190.06,209.34 L190.93,208.85 L191.79,208.36 L192.65,207.87 L193.51,207.38 L194.38,206.89 L195.24,206.39 L196.10,205.90 L196.96,205.41 L197.83,204.91 L198.69,204.42 L199.55,203.92 L200.41,203.43 L201.27,202.94 L202.14,202.45 L203.00,201.96 L203.86,201.47 L204.72,200.99 L205.59,200.51 L206.45,200.04 L207.31,199.58 L208.17,199.11 L209.04,198.65 L209.90,198.18 L210.76,197.71 L211.62,197.24 L212.49,196.77 L213.35,196.29 L214.21,195.81 L215.08,195.32 L215.94,194.82 L216.80,194.31 L217.66,193.79 L218.53,193.25 L219.39,192.71 L220.25,192.15 L221.11,191.56 L221.98,190.93 L222.84,190.27 L223.70,189.58 L224.56,188.88 L225.42,188.18 L226.29,187.47 L227.15,186.78 L228.01,186.11 L228.88,185.47 L229.74,184.86 L230.60,184.30 L231.46,183.71 L232.32,183.09 L233.19,182.52 L234.05,182.11 L234.91,181.95 L235.78,181.95 L236.64,181.95 L237.50,181.95" fill="none" stroke="#000" stroke-width="1.3" stroke-dasharray="8.0,2.0,1.25,2.0" stroke-linejoin="round" />
<path d="M30.50,158.80 H237.50 V276.50 H30.50 Z M30.50,276.50 v2.4 M65.00,276.50 v2.4 M99.50,276.50 v2.4 M134.00,276.50 v2.4 M168.50,276.50 v2.4 M203.00,276.50 v2.4 M237.50,276.50 v2.4 M30.50,276.50 h-2.4 M30.50,256.88 h-2.4 M30.50,237.27 h-2.4 M30.50,217.65 h-2.4 M30.50,198.03 h-2.4 M30.50,178.42 h-2.4 M30.50,158.80 h-2.4" stroke="#7a7a7a" stroke-width="0.95" fill="none"/>
<text x="21.51" y="285.80" font-size="7.92" textLength="17.99" lengthAdjust="spacingAndGlyphs" fill="#2e2e2e">1980</text>
<text x="55.96" y="285.80" font-size="7.92" textLength="18.04" lengthAdjust="spacingAndGlyphs" fill="#2e2e2e">2000</text>
<text x="90.46" y="285.80" font-size="7.92" textLength="18.04" lengthAdjust="spacingAndGlyphs" fill="#2e2e2e">2020</text>
<text x="124.96" y="285.80" font-size="7.92" textLength="18.04" lengthAdjust="spacingAndGlyphs" fill="#2e2e2e">2040</text>
<text x="159.46" y="285.80" font-size="7.92" textLength="18.04" lengthAdjust="spacingAndGlyphs" fill="#2e2e2e">2060</text>
<text x="193.96" y="285.80" font-size="7.92" textLength="18.04" lengthAdjust="spacingAndGlyphs" fill="#2e2e2e">2080</text>
<text x="228.46" y="285.80" font-size="7.92" textLength="18.04" lengthAdjust="spacingAndGlyphs" fill="#2e2e2e">2100</text>
<text x="22.40" y="279.70" font-size="7.92" textLength="4.22" lengthAdjust="spacingAndGlyphs" fill="#2e2e2e">0</text>
<text x="22.46" y="260.08" font-size="7.92" textLength="4.03" lengthAdjust="spacingAndGlyphs" fill="#2e2e2e">1</text>
<text x="22.38" y="240.47" font-size="7.92" textLength="4.07" lengthAdjust="spacingAndGlyphs" fill="#2e2e2e">2</text>
<text x="22.49" y="220.85" font-size="7.92" textLength="4.05" lengthAdjust="spacingAndGlyphs" fill="#2e2e2e">3</text>
<text x="22.40" y="201.23" font-size="7.92" textLength="4.22" lengthAdjust="spacingAndGlyphs" fill="#2e2e2e">4</text>
<text x="22.49" y="181.62" font-size="7.92" textLength="3.98" lengthAdjust="spacingAndGlyphs" fill="#2e2e2e">5</text>
<text x="22.32" y="162.00" font-size="7.92" textLength="4.37" lengthAdjust="spacingAndGlyphs" fill="#2e2e2e">6</text>
<path d="M279.50,158.80 V276.50 M314.00,158.80 V276.50 M348.50,158.80 V276.50 M383.00,158.80 V276.50 M417.50,158.80 V276.50 M452.00,158.80 V276.50 M486.50,158.80 V276.50 M279.50,267.45 H486.50 M279.50,249.34 H486.50 M279.50,231.23 H486.50 M279.50,213.12 H486.50 M279.50,195.02 H486.50 M279.50,176.91 H486.50 M279.50,158.80 H486.50" stroke="#d2d2d2" stroke-width="0.95" fill="none"/>
<path d="M279.50,269.39 L280.36,269.35 L281.23,269.30 L282.09,269.25 L282.95,269.20 L283.81,269.15 L284.68,269.09 L285.54,269.03 L286.40,268.97 L287.26,268.91 L288.12,268.84 L288.99,268.77 L289.85,268.70 L290.71,268.62 L291.57,268.54 L292.44,268.46 L293.30,268.38 L294.16,268.30 L295.02,268.21 L295.89,268.12 L296.75,268.02 L297.61,267.93 L298.48,267.83 L299.34,267.73 L300.20,267.62 L301.06,267.51 L301.93,267.40 L302.79,267.29 L303.65,267.18 L304.51,267.06 L305.38,266.94 L306.24,266.81 L307.10,266.69 L307.96,266.56 L308.82,266.43 L309.69,266.29 L310.55,266.15 L311.41,266.01 L312.27,265.87 L313.14,265.72 L314.00,265.58 L314.86,265.42 L315.73,265.27 L316.59,265.11 L317.45,264.95 L318.31,264.79 L319.18,264.62 L320.04,264.45 L320.90,264.28 L321.76,264.11 L322.62,263.93 L323.49,263.75 L324.35,263.57 L325.21,263.38 L326.07,263.19 L326.94,263.00 L327.80,262.81 L328.66,262.61 L329.52,262.41 L330.39,262.21 L331.25,262.00 L332.11,261.79 L332.98,261.58 L333.84,261.36 L334.70,261.15 L335.56,260.93 L336.43,260.70 L337.29,260.47 L338.15,260.24 L339.01,260.01 L339.88,259.78 L340.74,259.54 L341.60,259.30 L342.46,259.05 L343.32,258.80 L344.19,258.55 L345.05,258.30 L345.91,258.04 L346.77,257.78 L347.64,257.52 L348.50,257.25 L349.36,256.98 L350.23,256.71 L351.09,256.44 L351.95,256.16 L352.81,255.88 L353.68,255.59 L354.54,255.30 L355.40,255.01 L356.26,254.72 L357.12,254.42 L357.99,254.12 L358.85,253.82 L359.71,253.51 L360.57,253.20 L361.44,252.89 L362.30,252.58 L363.16,252.26 L364.02,251.94 L364.89,251.61 L365.75,251.28 L366.61,250.95 L367.48,250.62 L368.34,250.28 L369.20,249.94 L370.06,249.59 L370.93,249.25 L371.79,248.90 L372.65,248.54 L373.51,248.18 L374.38,247.82 L375.24,247.46 L376.10,247.09 L376.96,246.72 L377.82,246.35 L378.69,245.98 L379.55,245.60 L380.41,245.21 L381.27,244.83 L382.14,244.44 L383.00,244.04 L383.86,243.65 L384.73,243.25 L385.59,242.85 L386.45,242.44 L387.31,242.03 L388.18,241.62 L389.04,241.20 L389.90,240.78 L390.76,240.36 L391.62,239.93 L392.49,239.51 L393.35,239.07 L394.21,238.64 L395.07,238.20 L395.94,237.75 L396.80,237.31 L397.66,236.86 L398.52,236.41 L399.39,235.95 L400.25,235.49 L401.11,235.03 L401.98,234.56 L402.84,234.09 L403.70,233.62 L404.56,233.14 L405.42,232.66 L406.29,232.18 L407.15,231.69 L408.01,231.20 L408.88,230.71 L409.74,230.21 L410.60,229.71 L411.46,229.20 L412.33,228.70 L413.19,228.18 L414.05,227.67 L414.91,227.15 L415.77,226.63 L416.64,226.10 L417.50,225.57 L418.36,225.04 L419.23,224.51 L420.09,223.97 L420.95,223.42 L421.81,222.88 L422.67,222.33 L423.54,221.77 L424.40,221.22 L425.26,220.65 L426.12,220.09 L426.99,219.52 L427.85,218.95 L428.71,218.38 L429.57,217.80 L430.44,217.21 L431.30,216.63 L432.16,216.04 L433.02,215.45 L433.89,214.85 L434.75,214.25 L435.61,213.64 L436.48,213.04 L437.34,212.42 L438.20,211.81 L439.06,211.19 L439.93,210.57 L440.79,209.94 L441.65,209.31 L442.51,208.68 L443.38,208.04 L444.24,207.40 L445.10,206.76 L445.96,206.11 L446.83,205.46 L447.69,204.80 L448.55,204.14 L449.41,203.48 L450.27,202.81 L451.14,202.14 L452.00,201.47 L452.86,200.79 L453.73,200.10 L454.59,199.42 L455.45,198.73 L456.31,198.04 L457.17,197.34 L458.04,196.64 L458.90,195.93 L459.76,195.22 L460.62,194.51 L461.49,193.80 L462.35,193.08 L463.21,192.35 L464.08,191.62 L464.94,190.89 L465.80,190.16 L466.66,189.42 L467.52,188.68 L468.39,187.93 L469.25,187.18 L470.11,186.42 L470.98,185.66 L471.84,184.90 L472.70,184.14 L473.56,183.37 L474.42,182.59 L475.29,181.81 L476.15,181.03 L477.01,180.25 L477.88,179.46 L478.74,178.66 L479.60,177.86 L480.46,177.06 L481.32,176.26 L482.19,175.45 L483.05,174.63 L483.91,173.82 L484.77,172.99 L485.64,172.17 L486.50,171.34 L486.50,229.59 L485.64,229.79 L484.77,229.99 L483.91,230.19 L483.05,230.39 L482.19,230.59 L481.32,230.79 L480.46,230.99 L479.60,231.20 L478.74,231.40 L477.88,231.60 L477.01,231.81 L476.15,232.01 L475.29,232.22 L474.42,232.42 L473.56,232.63 L472.70,232.83 L471.84,233.04 L470.98,233.24 L470.11,233.45 L469.25,233.66 L468.39,233.86 L467.52,234.07 L466.66,234.28 L465.80,234.49 L464.94,234.70 L464.08,234.90 L463.21,235.11 L462.35,235.32 L461.49,235.53 L460.62,235.74 L459.76,235.95 L458.90,236.16 L458.04,236.37 L457.17,236.58 L456.31,236.79 L455.45,237.00 L454.59,237.21 L453.73,237.42 L452.86,237.63 L452.00,237.84 L451.14,238.06 L450.27,238.27 L449.41,238.48 L448.55,238.69 L447.69,238.90 L446.83,239.11 L445.96,239.32 L445.10,239.54 L444.24,239.75 L443.38,239.96 L442.51,240.17 L441.65,240.38 L440.79,240.59 L439.93,240.81 L439.06,241.02 L438.20,241.23 L437.34,241.44 L436.48,241.65 L435.61,241.87 L434.75,242.08 L433.89,242.29 L433.02,242.50 L432.16,242.71 L431.30,242.92 L430.44,243.13 L429.57,243.34 L428.71,243.55 L427.85,243.76 L426.99,243.98 L426.12,244.19 L425.26,244.40 L424.40,244.61 L423.54,244.82 L422.67,245.02 L421.81,245.23 L420.95,245.44 L420.09,245.65 L419.23,245.86 L418.36,246.07 L417.50,246.28 L416.64,246.49 L415.77,246.69 L414.91,246.90 L414.05,247.11 L413.19,247.31 L412.33,247.52 L411.46,247.73 L410.60,247.93 L409.74,248.14 L408.88,248.34 L408.01,248.55 L407.15,248.75 L406.29,248.96 L405.42,249.16 L404.56,249.36 L403.70,249.56 L402.84,249.77 L401.98,249.97 L401.11,250.17 L400.25,250.37 L399.39,250.57 L398.52,250.77 L397.66,250.97 L396.80,251.17 L395.94,251.37 L395.07,251.57 L394.21,251.77 L393.35,251.96 L392.49,252.16 L391.62,252.36 L390.76,252.55 L389.90,252.75 L389.04,252.94 L388.18,253.13 L387.31,253.33 L386.45,253.52 L385.59,253.71 L384.73,253.90 L383.86,254.09 L383.00,254.28 L382.14,254.47 L381.27,254.66 L380.41,254.85 L379.55,255.04 L378.69,255.22 L377.82,255.41 L376.96,255.60 L376.10,255.78 L375.24,255.96 L374.38,256.15 L373.51,256.33 L372.65,256.51 L371.79,256.69 L370.93,256.87 L370.06,257.05 L369.20,257.23 L368.34,257.41 L367.48,257.59 L366.61,257.76 L365.75,257.94 L364.89,258.11 L364.02,258.29 L363.16,258.46 L362.30,258.63 L361.44,258.80 L360.57,258.97 L359.71,259.14 L358.85,259.31 L357.99,259.48 L357.12,259.65 L356.26,259.81 L355.40,259.98 L354.54,260.14 L353.68,260.30 L352.81,260.46 L351.95,260.63 L351.09,260.79 L350.23,260.94 L349.36,261.10 L348.50,261.26 L347.64,261.42 L346.77,261.57 L345.91,261.72 L345.05,261.88 L344.19,262.03 L343.32,262.18 L342.46,262.33 L341.60,262.48 L340.74,262.63 L339.88,262.77 L339.01,262.92 L338.15,263.06 L337.29,263.20 L336.43,263.35 L335.56,263.49 L334.70,263.63 L333.84,263.76 L332.98,263.90 L332.11,264.04 L331.25,264.17 L330.39,264.31 L329.52,264.44 L328.66,264.57 L327.80,264.70 L326.94,264.83 L326.07,264.96 L325.21,265.08 L324.35,265.21 L323.49,265.33 L322.62,265.45 L321.76,265.57 L320.90,265.69 L320.04,265.81 L319.18,265.93 L318.31,266.04 L317.45,266.16 L316.59,266.27 L315.73,266.38 L314.86,266.49 L314.00,266.60 L313.14,266.71 L312.27,266.81 L311.41,266.92 L310.55,267.02 L309.69,267.12 L308.82,267.22 L307.96,267.32 L307.10,267.42 L306.24,267.52 L305.38,267.61 L304.51,267.70 L303.65,267.79 L302.79,267.88 L301.93,267.97 L301.06,268.06 L300.20,268.15 L299.34,268.23 L298.48,268.31 L297.61,268.39 L296.75,268.47 L295.89,268.55 L295.02,268.62 L294.16,268.70 L293.30,268.77 L292.44,268.84 L291.57,268.91 L290.71,268.98 L289.85,269.04 L288.99,269.11 L288.12,269.17 L287.26,269.23 L286.40,269.29 L285.54,269.35 L284.68,269.41 L283.81,269.46 L282.95,269.51 L282.09,269.56 L281.23,269.61 L280.36,269.66 L279.50,269.71Z" fill="#1f77b4" fill-opacity="0.17" stroke="#1f77b4" stroke-opacity="0.17" stroke-width="0.7"/>
<path d="M279.50,269.64 L280.36,269.58 L281.23,269.51 L282.09,269.44 L282.95,269.36 L283.81,269.29 L284.68,269.21 L285.54,269.13 L286.40,269.05 L287.26,268.97 L288.12,268.89 L288.99,268.80 L289.85,268.71 L290.71,268.62 L291.57,268.53 L292.44,268.43 L293.30,268.34 L294.16,268.24 L295.02,268.14 L295.89,268.04 L296.75,267.93 L297.61,267.83 L298.48,267.72 L299.34,267.61 L300.20,267.49 L301.06,267.38 L301.93,267.26 L302.79,267.15 L303.65,267.02 L304.51,266.90 L305.38,266.78 L306.24,266.65 L307.10,266.52 L307.96,266.39 L308.82,266.26 L309.69,266.12 L310.55,265.99 L311.41,265.85 L312.27,265.71 L313.14,265.56 L314.00,265.42 L314.86,265.27 L315.73,265.12 L316.59,264.97 L317.45,264.82 L318.31,264.66 L319.18,264.51 L320.04,264.35 L320.90,264.18 L321.76,264.02 L322.62,263.85 L323.49,263.69 L324.35,263.52 L325.21,263.34 L326.07,263.17 L326.94,262.99 L327.80,262.81 L328.66,262.63 L329.52,262.45 L330.39,262.26 L331.25,262.08 L332.11,261.89 L332.98,261.70 L333.84,261.50 L334.70,261.31 L335.56,261.11 L336.43,260.91 L337.29,260.70 L338.15,260.50 L339.01,260.29 L339.88,260.08 L340.74,259.87 L341.60,259.66 L342.46,259.44 L343.32,259.23 L344.19,259.01 L345.05,258.78 L345.91,258.56 L346.77,258.33 L347.64,258.10 L348.50,257.87 L349.36,257.64 L350.23,257.40 L351.09,257.17 L351.95,256.93 L352.81,256.68 L353.68,256.44 L354.54,256.19 L355.40,255.94 L356.26,255.69 L357.12,255.44 L357.99,255.18 L358.85,254.92 L359.71,254.66 L360.57,254.40 L361.44,254.14 L362.30,253.87 L363.16,253.60 L364.02,253.33 L364.89,253.05 L365.75,252.78 L366.61,252.50 L367.48,252.22 L368.34,251.93 L369.20,251.65 L370.06,251.36 L370.93,251.07 L371.79,250.78 L372.65,250.48 L373.51,250.19 L374.38,249.89 L375.24,249.58 L376.10,249.28 L376.96,248.97 L377.82,248.66 L378.69,248.35 L379.55,248.04 L380.41,247.72 L381.27,247.40 L382.14,247.08 L383.00,246.76 L383.86,246.43 L384.73,246.11 L385.59,245.78 L386.45,245.44 L387.31,245.11 L388.18,244.77 L389.04,244.43 L389.90,244.09 L390.76,243.74 L391.62,243.40 L392.49,243.05 L393.35,242.70 L394.21,242.34 L395.07,241.98 L395.94,241.62 L396.80,241.26 L397.66,240.90 L398.52,240.53 L399.39,240.16 L400.25,239.79 L401.11,239.42 L401.98,239.04 L402.84,238.66 L403.70,238.28 L404.56,237.90 L405.42,237.51 L406.29,237.12 L407.15,236.73 L408.01,236.34 L408.88,235.94 L409.74,235.54 L410.60,235.14 L411.46,234.74 L412.33,234.33 L413.19,233.92 L414.05,233.51 L414.91,233.10 L415.77,232.68 L416.64,232.26 L417.50,231.84 L418.36,231.42 L419.23,230.99 L420.09,230.56 L420.95,230.13 L421.81,229.70 L422.67,229.26 L423.54,228.82 L424.40,228.38 L425.26,227.93 L426.12,227.49 L426.99,227.04 L427.85,226.59 L428.71,226.13 L429.57,225.67 L430.44,225.22 L431.30,224.75 L432.16,224.29 L433.02,223.82 L433.89,223.35 L434.75,222.88 L435.61,222.40 L436.48,221.92 L437.34,221.44 L438.20,220.96 L439.06,220.48 L439.93,219.99 L440.79,219.50 L441.65,219.00 L442.51,218.51 L443.38,218.01 L444.24,217.51 L445.10,217.00 L445.96,216.50 L446.83,215.99 L447.69,215.47 L448.55,214.96 L449.41,214.44 L450.27,213.92 L451.14,213.40 L452.00,212.87 L452.86,212.34 L453.73,211.81 L454.59,211.28 L455.45,210.74 L456.31,210.21 L457.17,209.66 L458.04,209.12 L458.90,208.57 L459.76,208.02 L460.62,207.47 L461.49,206.92 L462.35,206.36 L463.21,205.80 L464.08,205.23 L464.94,204.67 L465.80,204.10 L466.66,203.53 L467.52,202.95 L468.39,202.38 L469.25,201.80 L470.11,201.21 L470.98,200.63 L471.84,200.04 L472.70,199.45 L473.56,198.86 L474.42,198.26 L475.29,197.66 L476.15,197.06 L477.01,196.45 L477.88,195.85 L478.74,195.23 L479.60,194.62 L480.46,194.01 L481.32,193.39 L482.19,192.77 L483.05,192.14 L483.91,191.51 L484.77,190.88 L485.64,190.25 L486.50,189.62 L486.50,220.95 L485.64,221.22 L484.77,221.50 L483.91,221.77 L483.05,222.04 L482.19,222.32 L481.32,222.59 L480.46,222.87 L479.60,223.14 L478.74,223.42 L477.88,223.69 L477.01,223.97 L476.15,224.24 L475.29,224.52 L474.42,224.79 L473.56,225.07 L472.70,225.34 L471.84,225.62 L470.98,225.89 L470.11,226.16 L469.25,226.44 L468.39,226.71 L467.52,226.99 L466.66,227.26 L465.80,227.53 L464.94,227.81 L464.08,228.08 L463.21,228.36 L462.35,228.63 L461.49,228.90 L460.62,229.17 L459.76,229.45 L458.90,229.72 L458.04,229.99 L457.17,230.26 L456.31,230.54 L455.45,230.81 L454.59,231.08 L453.73,231.35 L452.86,231.62 L452.00,231.89 L451.14,232.16 L450.27,232.43 L449.41,232.70 L448.55,232.97 L447.69,233.24 L446.83,233.51 L445.96,233.78 L445.10,234.05 L444.24,234.32 L443.38,234.58 L442.51,234.85 L441.65,235.12 L440.79,235.39 L439.93,235.65 L439.06,235.92 L438.20,236.18 L437.34,236.45 L436.48,236.71 L435.61,236.98 L434.75,237.24 L433.89,237.51 L433.02,237.77 L432.16,238.03 L431.30,238.29 L430.44,238.56 L429.57,238.82 L428.71,239.08 L427.85,239.34 L426.99,239.60 L426.12,239.86 L425.26,240.12 L424.40,240.37 L423.54,240.63 L422.67,240.89 L421.81,241.15 L420.95,241.40 L420.09,241.66 L419.23,241.91 L418.36,242.17 L417.50,242.42 L416.64,242.67 L415.77,242.93 L414.91,243.18 L414.05,243.43 L413.19,243.68 L412.33,243.93 L411.46,244.18 L410.60,244.43 L409.74,244.68 L408.88,244.93 L408.01,245.17 L407.15,245.42 L406.29,245.66 L405.42,245.91 L404.56,246.15 L403.70,246.40 L402.84,246.64 L401.98,246.88 L401.11,247.12 L400.25,247.36 L399.39,247.60 L398.52,247.84 L397.66,248.08 L396.80,248.32 L395.94,248.55 L395.07,248.79 L394.21,249.02 L393.35,249.26 L392.49,249.49 L391.62,249.72 L390.76,249.96 L389.90,250.19 L389.04,250.42 L388.18,250.65 L387.31,250.87 L386.45,251.10 L385.59,251.33 L384.73,251.55 L383.86,251.78 L383.00,252.00 L382.14,252.23 L381.27,252.45 L380.41,252.67 L379.55,252.89 L378.69,253.11 L377.82,253.33 L376.96,253.54 L376.10,253.76 L375.24,253.97 L374.38,254.19 L373.51,254.40 L372.65,254.61 L371.79,254.83 L370.93,255.04 L370.06,255.24 L369.20,255.45 L368.34,255.66 L367.48,255.87 L366.61,256.07 L365.75,256.27 L364.89,256.48 L364.02,256.68 L363.16,256.88 L362.30,257.08 L361.44,257.28 L360.57,257.47 L359.71,257.67 L358.85,257.86 L357.99,258.06 L357.12,258.25 L356.26,258.44 L355.40,258.63 L354.54,258.82 L353.68,259.01 L352.81,259.20 L351.95,259.38 L351.09,259.57 L350.23,259.75 L349.36,259.93 L348.50,260.11 L347.64,260.29 L346.77,260.47 L345.91,260.64 L345.05,260.82 L344.19,260.99 L343.32,261.17 L342.46,261.34 L341.60,261.51 L340.74,261.68 L339.88,261.84 L339.01,262.01 L338.15,262.18 L337.29,262.34 L336.43,262.50 L335.56,262.66 L334.70,262.82 L333.84,262.98 L332.98,263.14 L332.11,263.29 L331.25,263.45 L330.39,263.60 L329.52,263.75 L328.66,263.90 L327.80,264.05 L326.94,264.19 L326.07,264.34 L325.21,264.48 L324.35,264.63 L323.49,264.77 L322.62,264.91 L321.76,265.04 L320.90,265.18 L320.04,265.31 L319.18,265.45 L318.31,265.58 L317.45,265.71 L316.59,265.84 L315.73,265.97 L314.86,266.09 L314.00,266.22 L313.14,266.34 L312.27,266.46 L311.41,266.58 L310.55,266.70 L309.69,266.81 L308.82,266.93 L307.96,267.04 L307.10,267.15 L306.24,267.26 L305.38,267.37 L304.51,267.47 L303.65,267.58 L302.79,267.68 L301.93,267.78 L301.06,267.88 L300.20,267.98 L299.34,268.07 L298.48,268.17 L297.61,268.26 L296.75,268.35 L295.89,268.44 L295.02,268.53 L294.16,268.61 L293.30,268.70 L292.44,268.78 L291.57,268.86 L290.71,268.94 L289.85,269.01 L288.99,269.09 L288.12,269.16 L287.26,269.23 L286.40,269.30 L285.54,269.37 L284.68,269.44 L283.81,269.50 L282.95,269.56 L282.09,269.62 L281.23,269.68 L280.36,269.74 L279.50,269.79Z" fill="#1f77b4" fill-opacity="0.29" stroke="#1f77b4" stroke-opacity="0.29" stroke-width="0.7"/>
<path d="M279.50,269.32 L280.36,269.25 L281.23,269.18 L282.09,269.11 L282.95,269.03 L283.81,268.95 L284.68,268.87 L285.54,268.79 L286.40,268.70 L287.26,268.62 L288.12,268.53 L288.99,268.44 L289.85,268.34 L290.71,268.25 L291.57,268.15 L292.44,268.05 L293.30,267.95 L294.16,267.85 L295.02,267.74 L295.89,267.64 L296.75,267.53 L297.61,267.42 L298.48,267.30 L299.34,267.19 L300.20,267.07 L301.06,266.95 L301.93,266.83 L302.79,266.71 L303.65,266.58 L304.51,266.45 L305.38,266.32 L306.24,266.19 L307.10,266.06 L307.96,265.92 L308.82,265.79 L309.69,265.65 L310.55,265.50 L311.41,265.36 L312.27,265.22 L313.14,265.07 L314.00,264.92 L314.86,264.76 L315.73,264.59 L316.59,264.43 L317.45,264.26 L318.31,264.09 L319.18,263.92 L320.04,263.75 L320.90,263.57 L321.76,263.40 L322.62,263.22 L323.49,263.04 L324.35,262.85 L325.21,262.67 L326.07,262.48 L326.94,262.29 L327.80,262.10 L328.66,261.91 L329.52,261.71 L330.39,261.52 L331.25,261.32 L332.11,261.12 L332.98,260.91 L333.84,260.71 L334.70,260.50 L335.56,260.29 L336.43,260.08 L337.29,259.87 L338.15,259.65 L339.01,259.43 L339.88,259.21 L340.74,258.99 L341.60,258.77 L342.46,258.54 L343.32,258.32 L344.19,258.09 L345.05,257.86 L345.91,257.62 L346.77,257.39 L347.64,257.15 L348.50,256.91 L349.36,256.67 L350.23,256.43 L351.09,256.18 L351.95,255.93 L352.81,255.69 L353.68,255.43 L354.54,255.18 L355.40,254.93 L356.26,254.67 L357.12,254.41 L357.99,254.15 L358.85,253.88 L359.71,253.62 L360.57,253.35 L361.44,253.08 L362.30,252.81 L363.16,252.54 L364.02,252.26 L364.89,251.99 L365.75,251.71 L366.61,251.43 L367.48,251.14 L368.34,250.86 L369.20,250.57 L370.06,250.28 L370.93,249.99 L371.79,249.70 L372.65,249.40 L373.51,249.11 L374.38,248.81 L375.24,248.51 L376.10,248.21 L376.96,247.90 L377.82,247.59 L378.69,247.29 L379.55,246.97 L380.41,246.66 L381.27,246.35 L382.14,246.03 L383.00,245.71 L383.86,245.41 L384.73,245.11 L385.59,244.81 L386.45,244.51 L387.31,244.20 L388.18,243.90 L389.04,243.59 L389.90,243.27 L390.76,242.96 L391.62,242.65 L392.49,242.33 L393.35,242.01 L394.21,241.69 L395.07,241.36 L395.94,241.04 L396.80,240.71 L397.66,240.38 L398.52,240.05 L399.39,239.72 L400.25,239.38 L401.11,239.05 L401.98,238.71 L402.84,238.37 L403.70,238.02 L404.56,237.68 L405.42,237.33 L406.29,236.98 L407.15,236.63 L408.01,236.28 L408.88,235.92 L409.74,235.57 L410.60,235.21 L411.46,234.85 L412.33,234.49 L413.19,234.12 L414.05,233.76 L414.91,233.39 L415.77,233.02 L416.64,232.65 L417.50,232.27 L418.36,231.91 L419.23,231.54 L420.09,231.17 L420.95,230.80 L421.81,230.43 L422.67,230.06 L423.54,229.68 L424.40,229.30 L425.26,228.92 L426.12,228.54 L426.99,228.15 L427.85,227.77 L428.71,227.38 L429.57,226.99 L430.44,226.60 L431.30,226.21 L432.16,225.81 L433.02,225.41 L433.89,225.01 L434.75,224.61 L435.61,224.21 L436.48,223.80 L437.34,223.40 L438.20,222.99 L439.06,222.58 L439.93,222.16 L440.79,221.75 L441.65,221.33 L442.51,220.91 L443.38,220.49 L444.24,220.07 L445.10,219.65 L445.96,219.22 L446.83,218.79 L447.69,218.36 L448.55,217.93 L449.41,217.50 L450.27,217.06 L451.14,216.62 L452.00,216.18 L452.86,215.75 L453.73,215.31 L454.59,214.88 L455.45,214.44 L456.31,214.00 L457.17,213.56 L458.04,213.11 L458.90,212.67 L459.76,212.22 L460.62,211.77 L461.49,211.32 L462.35,210.87 L463.21,210.41 L464.08,209.95 L464.94,209.49 L465.80,209.03 L466.66,208.57 L467.52,208.10 L468.39,207.64 L469.25,207.17 L470.11,206.70 L470.98,206.23 L471.84,205.75 L472.70,205.28 L473.56,204.80 L474.42,204.32 L475.29,203.83 L476.15,203.35 L477.01,202.87 L477.88,202.38 L478.74,201.89 L479.60,201.40 L480.46,200.90 L481.32,200.41 L482.19,199.91 L483.05,199.41 L483.91,198.91 L484.77,198.41 L485.64,197.90 L486.50,197.40 L486.50,200.29 L485.64,200.84 L484.77,201.39 L483.91,201.93 L483.05,202.47 L482.19,203.01 L481.32,203.55 L480.46,204.09 L479.60,204.62 L478.74,205.15 L477.88,205.68 L477.01,206.21 L476.15,206.74 L475.29,207.26 L474.42,207.78 L473.56,208.31 L472.70,208.82 L471.84,209.34 L470.98,209.86 L470.11,210.37 L469.25,210.88 L468.39,211.39 L467.52,211.90 L466.66,212.40 L465.80,212.91 L464.94,213.41 L464.08,213.91 L463.21,214.41 L462.35,214.90 L461.49,215.40 L460.62,215.89 L459.76,216.38 L458.90,216.87 L458.04,217.36 L457.17,217.84 L456.31,218.32 L455.45,218.80 L454.59,219.28 L453.73,219.76 L452.86,220.24 L452.00,220.71 L451.14,221.17 L450.27,221.63 L449.41,222.09 L448.55,222.55 L447.69,223.00 L446.83,223.45 L445.96,223.91 L445.10,224.35 L444.24,224.80 L443.38,225.25 L442.51,225.69 L441.65,226.13 L440.79,226.57 L439.93,227.01 L439.06,227.44 L438.20,227.88 L437.34,228.31 L436.48,228.74 L435.61,229.17 L434.75,229.59 L433.89,230.02 L433.02,230.44 L432.16,230.86 L431.30,231.28 L430.44,231.69 L429.57,232.11 L428.71,232.52 L427.85,232.93 L426.99,233.34 L426.12,233.74 L425.26,234.15 L424.40,234.55 L423.54,234.95 L422.67,235.35 L421.81,235.75 L420.95,236.14 L420.09,236.54 L419.23,236.93 L418.36,237.32 L417.50,237.70 L416.64,238.08 L415.77,238.45 L414.91,238.82 L414.05,239.19 L413.19,239.55 L412.33,239.92 L411.46,240.28 L410.60,240.64 L409.74,241.00 L408.88,241.36 L408.01,241.71 L407.15,242.06 L406.29,242.41 L405.42,242.76 L404.56,243.11 L403.70,243.46 L402.84,243.80 L401.98,244.14 L401.11,244.48 L400.25,244.82 L399.39,245.15 L398.52,245.48 L397.66,245.81 L396.80,246.14 L395.94,246.47 L395.07,246.80 L394.21,247.12 L393.35,247.44 L392.49,247.76 L391.62,248.08 L390.76,248.39 L389.90,248.71 L389.04,249.02 L388.18,249.33 L387.31,249.64 L386.45,249.94 L385.59,250.25 L384.73,250.55 L383.86,250.85 L383.00,251.14 L382.14,251.42 L381.27,251.69 L380.41,251.96 L379.55,252.23 L378.69,252.49 L377.82,252.75 L376.96,253.02 L376.10,253.28 L375.24,253.53 L374.38,253.79 L373.51,254.04 L372.65,254.29 L371.79,254.54 L370.93,254.79 L370.06,255.04 L369.20,255.28 L368.34,255.52 L367.48,255.76 L366.61,256.00 L365.75,256.24 L364.89,256.47 L364.02,256.70 L363.16,256.93 L362.30,257.16 L361.44,257.38 L360.57,257.61 L359.71,257.83 L358.85,258.05 L357.99,258.27 L357.12,258.48 L356.26,258.70 L355.40,258.91 L354.54,259.12 L353.68,259.33 L352.81,259.53 L351.95,259.74 L351.09,259.94 L350.23,260.14 L349.36,260.34 L348.50,260.53 L347.64,260.73 L346.77,260.92 L345.91,261.11 L345.05,261.30 L344.19,261.48 L343.32,261.67 L342.46,261.85 L341.60,262.03 L340.74,262.21 L339.88,262.38 L339.01,262.56 L338.15,262.73 L337.29,262.90 L336.43,263.07 L335.56,263.23 L334.70,263.40 L333.84,263.56 L332.98,263.72 L332.11,263.88 L331.25,264.03 L330.39,264.19 L329.52,264.34 L328.66,264.49 L327.80,264.64 L326.94,264.78 L326.07,264.93 L325.21,265.07 L324.35,265.21 L323.49,265.35 L322.62,265.48 L321.76,265.62 L320.90,265.75 L320.04,265.88 L319.18,266.00 L318.31,266.13 L317.45,266.25 L316.59,266.38 L315.73,266.50 L314.86,266.61 L314.00,266.73 L313.14,266.85 L312.27,266.97 L311.41,267.09 L310.55,267.21 L309.69,267.32 L308.82,267.43 L307.96,267.54 L307.10,267.65 L306.24,267.76 L305.38,267.86 L304.51,267.97 L303.65,268.07 L302.79,268.16 L301.93,268.26 L301.06,268.36 L300.20,268.45 L299.34,268.54 L298.48,268.63 L297.61,268.71 L296.75,268.80 L295.89,268.88 L295.02,268.96 L294.16,269.04 L293.30,269.11 L292.44,269.19 L291.57,269.26 L290.71,269.33 L289.85,269.39 L288.99,269.46 L288.12,269.52 L287.26,269.59 L286.40,269.65 L285.54,269.70 L284.68,269.76 L283.81,269.81 L282.95,269.86 L282.09,269.91 L281.23,269.96 L280.36,270.00 L279.50,270.05Z" fill="#ff7f0e" fill-opacity="0.2" stroke="#ff7f0e" stroke-opacity="0.2" stroke-width="0.7"/>
<path d="M279.50,269.50 L280.36,269.44 L281.23,269.38 L282.09,269.31 L282.95,269.24 L283.81,269.17 L284.68,269.09 L285.54,269.02 L286.40,268.94 L287.26,268.86 L288.12,268.78 L288.99,268.69 L289.85,268.61 L290.71,268.52 L291.57,268.43 L292.44,268.34 L293.30,268.24 L294.16,268.15 L295.02,268.05 L295.89,267.95 L296.75,267.85 L297.61,267.74 L298.48,267.63 L299.34,267.53 L300.20,267.42 L301.06,267.30 L301.93,267.19 L302.79,267.07 L303.65,266.95 L304.51,266.83 L305.38,266.71 L306.24,266.58 L307.10,266.46 L307.96,266.33 L308.82,266.20 L309.69,266.07 L310.55,265.93 L311.41,265.79 L312.27,265.65 L313.14,265.51 L314.00,265.37 L314.86,265.22 L315.73,265.07 L316.59,264.92 L317.45,264.76 L318.31,264.60 L319.18,264.44 L320.04,264.28 L320.90,264.12 L321.76,263.95 L322.62,263.78 L323.49,263.61 L324.35,263.44 L325.21,263.27 L326.07,263.09 L326.94,262.91 L327.80,262.73 L328.66,262.55 L329.52,262.37 L330.39,262.18 L331.25,262.00 L332.11,261.81 L332.98,261.61 L333.84,261.42 L334.70,261.22 L335.56,261.03 L336.43,260.83 L337.29,260.62 L338.15,260.42 L339.01,260.21 L339.88,260.01 L340.74,259.80 L341.60,259.58 L342.46,259.37 L343.32,259.15 L344.19,258.94 L345.05,258.72 L345.91,258.49 L346.77,258.27 L347.64,258.04 L348.50,257.82 L349.36,257.59 L350.23,257.35 L351.09,257.12 L351.95,256.89 L352.81,256.65 L353.68,256.41 L354.54,256.17 L355.40,255.92 L356.26,255.68 L357.12,255.43 L357.99,255.18 L358.85,254.93 L359.71,254.67 L360.57,254.42 L361.44,254.16 L362.30,253.90 L363.16,253.64 L364.02,253.37 L364.89,253.11 L365.75,252.84 L366.61,252.57 L367.48,252.30 L368.34,252.02 L369.20,251.75 L370.06,251.47 L370.93,251.19 L371.79,250.91 L372.65,250.63 L373.51,250.34 L374.38,250.05 L375.24,249.76 L376.10,249.47 L376.96,249.18 L377.82,248.88 L378.69,248.59 L379.55,248.29 L380.41,247.99 L381.27,247.68 L382.14,247.38 L383.00,247.07 L383.86,246.77 L384.73,246.47 L385.59,246.17 L386.45,245.87 L387.31,245.56 L388.18,245.25 L389.04,244.94 L389.90,244.63 L390.76,244.32 L391.62,244.00 L392.49,243.69 L393.35,243.37 L394.21,243.05 L395.07,242.72 L395.94,242.40 L396.80,242.07 L397.66,241.74 L398.52,241.41 L399.39,241.08 L400.25,240.74 L401.11,240.40 L401.98,240.06 L402.84,239.72 L403.70,239.38 L404.56,239.04 L405.42,238.69 L406.29,238.34 L407.15,237.99 L408.01,237.64 L408.88,237.28 L409.74,236.93 L410.60,236.57 L411.46,236.21 L412.33,235.84 L413.19,235.48 L414.05,235.11 L414.91,234.75 L415.77,234.38 L416.64,234.00 L417.50,233.63 L418.36,233.26 L419.23,232.89 L420.09,232.51 L420.95,232.14 L421.81,231.76 L422.67,231.38 L423.54,231.00 L424.40,230.61 L425.26,230.23 L426.12,229.84 L426.99,229.45 L427.85,229.06 L428.71,228.67 L429.57,228.27 L430.44,227.87 L431.30,227.47 L432.16,227.07 L433.02,226.67 L433.89,226.26 L434.75,225.86 L435.61,225.45 L436.48,225.04 L437.34,224.62 L438.20,224.21 L439.06,223.79 L439.93,223.37 L440.79,222.95 L441.65,222.53 L442.51,222.11 L443.38,221.68 L444.24,221.25 L445.10,220.82 L445.96,220.39 L446.83,219.96 L447.69,219.52 L448.55,219.08 L449.41,218.64 L450.27,218.20 L451.14,217.76 L452.00,217.31 L452.86,216.87 L453.73,216.43 L454.59,215.98 L455.45,215.53 L456.31,215.08 L457.17,214.63 L458.04,214.17 L458.90,213.72 L459.76,213.26 L460.62,212.80 L461.49,212.34 L462.35,211.88 L463.21,211.41 L464.08,210.94 L464.94,210.47 L465.80,210.00 L466.66,209.53 L467.52,209.05 L468.39,208.58 L469.25,208.10 L470.11,207.62 L470.98,207.13 L471.84,206.65 L472.70,206.16 L473.56,205.67 L474.42,205.18 L475.29,204.69 L476.15,204.20 L477.01,203.70 L477.88,203.20 L478.74,202.70 L479.60,202.20 L480.46,201.70 L481.32,201.19 L482.19,200.69 L483.05,200.18 L483.91,199.67 L484.77,199.15 L485.64,198.64 L486.50,198.12 L486.50,199.57 L485.64,200.11 L484.77,200.64 L483.91,201.18 L483.05,201.71 L482.19,202.24 L481.32,202.76 L480.46,203.29 L479.60,203.81 L478.74,204.34 L477.88,204.86 L477.01,205.37 L476.15,205.89 L475.29,206.41 L474.42,206.92 L473.56,207.43 L472.70,207.94 L471.84,208.44 L470.98,208.95 L470.11,209.45 L469.25,209.95 L468.39,210.45 L467.52,210.95 L466.66,211.45 L465.80,211.94 L464.94,212.43 L464.08,212.92 L463.21,213.41 L462.35,213.89 L461.49,214.38 L460.62,214.86 L459.76,215.34 L458.90,215.82 L458.04,216.30 L457.17,216.77 L456.31,217.24 L455.45,217.71 L454.59,218.18 L453.73,218.65 L452.86,219.11 L452.00,219.58 L451.14,220.03 L450.27,220.49 L449.41,220.94 L448.55,221.39 L447.69,221.84 L446.83,222.29 L445.96,222.73 L445.10,223.18 L444.24,223.62 L443.38,224.06 L442.51,224.50 L441.65,224.93 L440.79,225.36 L439.93,225.80 L439.06,226.23 L438.20,226.65 L437.34,227.08 L436.48,227.50 L435.61,227.93 L434.75,228.35 L433.89,228.76 L433.02,229.18 L432.16,229.60 L431.30,230.01 L430.44,230.42 L429.57,230.83 L428.71,231.23 L427.85,231.64 L426.99,232.04 L426.12,232.44 L425.26,232.84 L424.40,233.24 L423.54,233.63 L422.67,234.03 L421.81,234.42 L420.95,234.81 L420.09,235.20 L419.23,235.58 L418.36,235.96 L417.50,236.35 L416.64,236.72 L415.77,237.09 L414.91,237.46 L414.05,237.83 L413.19,238.20 L412.33,238.56 L411.46,238.92 L410.60,239.28 L409.74,239.64 L408.88,240.00 L408.01,240.35 L407.15,240.71 L406.29,241.06 L405.42,241.41 L404.56,241.75 L403.70,242.10 L402.84,242.44 L401.98,242.78 L401.11,243.12 L400.25,243.46 L399.39,243.79 L398.52,244.13 L397.66,244.46 L396.80,244.79 L395.94,245.11 L395.07,245.44 L394.21,245.76 L393.35,246.08 L392.49,246.40 L391.62,246.72 L390.76,247.04 L389.90,247.35 L389.04,247.66 L388.18,247.97 L387.31,248.28 L386.45,248.58 L385.59,248.89 L384.73,249.19 L383.86,249.49 L383.00,249.79 L382.14,250.07 L381.27,250.35 L380.41,250.63 L379.55,250.91 L378.69,251.19 L377.82,251.46 L376.96,251.74 L376.10,252.01 L375.24,252.28 L374.38,252.54 L373.51,252.81 L372.65,253.07 L371.79,253.33 L370.93,253.59 L370.06,253.85 L369.20,254.10 L368.34,254.36 L367.48,254.61 L366.61,254.86 L365.75,255.10 L364.89,255.35 L364.02,255.59 L363.16,255.83 L362.30,256.07 L361.44,256.31 L360.57,256.54 L359.71,256.78 L358.85,257.01 L357.99,257.24 L357.12,257.46 L356.26,257.69 L355.40,257.91 L354.54,258.13 L353.68,258.35 L352.81,258.57 L351.95,258.79 L351.09,259.00 L350.23,259.21 L349.36,259.42 L348.50,259.63 L347.64,259.83 L346.77,260.04 L345.91,260.24 L345.05,260.44 L344.19,260.63 L343.32,260.83 L342.46,261.02 L341.60,261.21 L340.74,261.40 L339.88,261.59 L339.01,261.78 L338.15,261.96 L337.29,262.14 L336.43,262.32 L335.56,262.50 L334.70,262.67 L333.84,262.85 L332.98,263.02 L332.11,263.19 L331.25,263.35 L330.39,263.52 L329.52,263.68 L328.66,263.84 L327.80,264.00 L326.94,264.16 L326.07,264.31 L325.21,264.47 L324.35,264.62 L323.49,264.77 L322.62,264.92 L321.76,265.06 L320.90,265.20 L320.04,265.34 L319.18,265.48 L318.31,265.62 L317.45,265.76 L316.59,265.89 L315.73,266.02 L314.86,266.15 L314.00,266.28 L313.14,266.41 L312.27,266.53 L311.41,266.66 L310.55,266.78 L309.69,266.90 L308.82,267.02 L307.96,267.14 L307.10,267.25 L306.24,267.37 L305.38,267.48 L304.51,267.59 L303.65,267.70 L302.79,267.80 L301.93,267.90 L301.06,268.00 L300.20,268.10 L299.34,268.20 L298.48,268.30 L297.61,268.39 L296.75,268.48 L295.89,268.57 L295.02,268.65 L294.16,268.74 L293.30,268.82 L292.44,268.90 L291.57,268.98 L290.71,269.06 L289.85,269.13 L288.99,269.20 L288.12,269.28 L287.26,269.34 L286.40,269.41 L285.54,269.47 L284.68,269.54 L283.81,269.60 L282.95,269.65 L282.09,269.71 L281.23,269.77 L280.36,269.82 L279.50,269.87Z" fill="#ff7f0e" fill-opacity="0.3" stroke="#ff7f0e" stroke-opacity="0.3" stroke-width="0.7"/>
<path d="M279.50,269.70 L280.36,269.63 L281.23,269.57 L282.09,269.50 L282.95,269.43 L283.81,269.35 L284.68,269.28 L285.54,269.21 L286.40,269.13 L287.26,269.05 L288.12,268.97 L288.99,268.89 L289.85,268.80 L290.71,268.72 L291.57,268.63 L292.44,268.54 L293.30,268.46 L294.16,268.36 L295.02,268.27 L295.89,268.18 L296.75,268.08 L297.61,267.98 L298.48,267.88 L299.34,267.78 L300.20,267.68 L301.06,267.57 L301.93,267.47 L302.79,267.36 L303.65,267.25 L304.51,267.14 L305.38,267.03 L306.24,266.91 L307.10,266.80 L307.96,266.68 L308.82,266.56 L309.69,266.44 L310.55,266.32 L311.41,266.19 L312.27,266.07 L313.14,265.94 L314.00,265.81 L314.86,265.68 L315.73,265.55 L316.59,265.41 L317.45,265.28 L318.31,265.14 L319.18,265.00 L320.04,264.86 L320.90,264.72 L321.76,264.58 L322.62,264.43 L323.49,264.29 L324.35,264.14 L325.21,263.99 L326.07,263.84 L326.94,263.68 L327.80,263.53 L328.66,263.37 L329.52,263.21 L330.39,263.05 L331.25,262.89 L332.11,262.73 L332.98,262.56 L333.84,262.40 L334.70,262.23 L335.56,262.06 L336.43,261.89 L337.29,261.72 L338.15,261.54 L339.01,261.37 L339.88,261.19 L340.74,261.01 L341.60,260.83 L342.46,260.65 L343.32,260.46 L344.19,260.28 L345.05,260.09 L345.91,259.90 L346.77,259.71 L347.64,259.52 L348.50,259.32 L349.36,259.13 L350.23,258.93 L351.09,258.73 L351.95,258.53 L352.81,258.33 L353.68,258.13 L354.54,257.92 L355.40,257.71 L356.26,257.51 L357.12,257.30 L357.99,257.08 L358.85,256.87 L359.71,256.66 L360.57,256.44 L361.44,256.22 L362.30,256.00 L363.16,255.78 L364.02,255.56 L364.89,255.33 L365.75,255.11 L366.61,254.88 L367.48,254.65 L368.34,254.42 L369.20,254.18 L370.06,253.95 L370.93,253.71 L371.79,253.48 L372.65,253.24 L373.51,253.00 L374.38,252.75 L375.24,252.51 L376.10,252.26 L376.96,252.02 L377.82,251.77 L378.69,251.52 L379.55,251.26 L380.41,251.01 L381.27,250.76 L382.14,250.50 L383.00,250.24 L383.86,249.98 L384.73,249.72 L385.59,249.45 L386.45,249.19 L387.31,248.92 L388.18,248.65 L389.04,248.38 L389.90,248.11 L390.76,247.84 L391.62,247.56 L392.49,247.29 L393.35,247.01 L394.21,246.73 L395.07,246.45 L395.94,246.16 L396.80,245.88 L397.66,245.59 L398.52,245.30 L399.39,245.01 L400.25,244.72 L401.11,244.43 L401.98,244.14 L402.84,243.84 L403.70,243.54 L404.56,243.24 L405.42,242.94 L406.29,242.64 L407.15,242.34 L408.01,242.03 L408.88,241.72 L409.74,241.41 L410.60,241.10 L411.46,240.79 L412.33,240.48 L413.19,240.16 L414.05,239.84 L414.91,239.52 L415.77,239.20 L416.64,238.88 L417.50,238.56 L418.36,238.23 L419.23,237.91 L420.09,237.58 L420.95,237.25 L421.81,236.92 L422.67,236.58 L423.54,236.25 L424.40,235.91 L425.26,235.57 L426.12,235.23 L426.99,234.89 L427.85,234.55 L428.71,234.20 L429.57,233.86 L430.44,233.51 L431.30,233.16 L432.16,232.81 L433.02,232.45 L433.89,232.10 L434.75,231.74 L435.61,231.39 L436.48,231.03 L437.34,230.66 L438.20,230.30 L439.06,229.94 L439.93,229.57 L440.79,229.20 L441.65,228.84 L442.51,228.46 L443.38,228.09 L444.24,227.72 L445.10,227.34 L445.96,226.97 L446.83,226.59 L447.69,226.21 L448.55,225.82 L449.41,225.44 L450.27,225.05 L451.14,224.67 L452.00,224.28 L452.86,223.89 L453.73,223.50 L454.59,223.10 L455.45,222.71 L456.31,222.31 L457.17,221.91 L458.04,221.51 L458.90,221.11 L459.76,220.71 L460.62,220.30 L461.49,219.90 L462.35,219.49 L463.21,219.08 L464.08,218.67 L464.94,218.25 L465.80,217.84 L466.66,217.42 L467.52,217.01 L468.39,216.59 L469.25,216.17 L470.11,215.74 L470.98,215.32 L471.84,214.89 L472.70,214.46 L473.56,214.04 L474.42,213.60 L475.29,213.17 L476.15,212.74 L477.01,212.30 L477.88,211.86 L478.74,211.43 L479.60,210.99 L480.46,210.54 L481.32,210.10 L482.19,209.65 L483.05,209.21 L483.91,208.76 L484.77,208.31 L485.64,207.86 L486.50,207.40" fill="none" stroke="#1f77b4" stroke-width="1.1" stroke-linejoin="round" />
<path d="M279.50,269.69 L280.36,269.63 L281.23,269.57 L282.09,269.51 L282.95,269.45 L283.81,269.38 L284.68,269.31 L285.54,269.25 L286.40,269.17 L287.26,269.10 L288.12,269.03 L288.99,268.95 L289.85,268.87 L290.71,268.79 L291.57,268.70 L292.44,268.62 L293.30,268.53 L294.16,268.44 L295.02,268.35 L295.89,268.26 L296.75,268.16 L297.61,268.06 L298.48,267.96 L299.34,267.86 L300.20,267.76 L301.06,267.65 L301.93,267.55 L302.79,267.44 L303.65,267.32 L304.51,267.21 L305.38,267.09 L306.24,266.98 L307.10,266.86 L307.96,266.73 L308.82,266.61 L309.69,266.48 L310.55,266.36 L311.41,266.23 L312.27,266.09 L313.14,265.96 L314.00,265.82 L314.86,265.68 L315.73,265.54 L316.59,265.40 L317.45,265.26 L318.31,265.11 L319.18,264.96 L320.04,264.81 L320.90,264.66 L321.76,264.51 L322.62,264.35 L323.49,264.19 L324.35,264.03 L325.21,263.87 L326.07,263.70 L326.94,263.54 L327.80,263.37 L328.66,263.20 L329.52,263.03 L330.39,262.85 L331.25,262.67 L332.11,262.50 L332.98,262.32 L333.84,262.13 L334.70,261.95 L335.56,261.76 L336.43,261.57 L337.29,261.38 L338.15,261.19 L339.01,261.00 L339.88,260.80 L340.74,260.60 L341.60,260.40 L342.46,260.20 L343.32,259.99 L344.19,259.79 L345.05,259.58 L345.91,259.37 L346.77,259.15 L347.64,258.94 L348.50,258.72 L349.36,258.50 L350.23,258.28 L351.09,258.06 L351.95,257.84 L352.81,257.61 L353.68,257.38 L354.54,257.15 L355.40,256.92 L356.26,256.68 L357.12,256.45 L357.99,256.21 L358.85,255.97 L359.71,255.72 L360.57,255.48 L361.44,255.23 L362.30,254.99 L363.16,254.73 L364.02,254.48 L364.89,254.23 L365.75,253.97 L366.61,253.71 L367.48,253.45 L368.34,253.19 L369.20,252.93 L370.06,252.66 L370.93,252.39 L371.79,252.12 L372.65,251.85 L373.51,251.58 L374.38,251.30 L375.24,251.02 L376.10,250.74 L376.96,250.46 L377.82,250.17 L378.69,249.89 L379.55,249.60 L380.41,249.31 L381.27,249.02 L382.14,248.72 L383.00,248.43 L383.86,248.13 L384.73,247.83 L385.59,247.53 L386.45,247.23 L387.31,246.92 L388.18,246.61 L389.04,246.30 L389.90,245.99 L390.76,245.68 L391.62,245.36 L392.49,245.04 L393.35,244.72 L394.21,244.40 L395.07,244.08 L395.94,243.75 L396.80,243.43 L397.66,243.10 L398.52,242.77 L399.39,242.43 L400.25,242.10 L401.11,241.76 L401.98,241.42 L402.84,241.08 L403.70,240.74 L404.56,240.39 L405.42,240.05 L406.29,239.70 L407.15,239.35 L408.01,239.00 L408.88,238.64 L409.74,238.28 L410.60,237.93 L411.46,237.57 L412.33,237.20 L413.19,236.84 L414.05,236.47 L414.91,236.10 L415.77,235.73 L416.64,235.36 L417.50,234.99 L418.36,234.61 L419.23,234.23 L420.09,233.85 L420.95,233.47 L421.81,233.09 L422.67,232.70 L423.54,232.32 L424.40,231.93 L425.26,231.53 L426.12,231.14 L426.99,230.75 L427.85,230.35 L428.71,229.95 L429.57,229.55 L430.44,229.15 L431.30,228.74 L432.16,228.33 L433.02,227.93 L433.89,227.51 L434.75,227.10 L435.61,226.69 L436.48,226.27 L437.34,225.85 L438.20,225.43 L439.06,225.01 L439.93,224.59 L440.79,224.16 L441.65,223.73 L442.51,223.30 L443.38,222.87 L444.24,222.44 L445.10,222.00 L445.96,221.56 L446.83,221.12 L447.69,220.68 L448.55,220.24 L449.41,219.79 L450.27,219.35 L451.14,218.90 L452.00,218.45 L452.86,217.99 L453.73,217.54 L454.59,217.08 L455.45,216.62 L456.31,216.16 L457.17,215.70 L458.04,215.23 L458.90,214.77 L459.76,214.30 L460.62,213.83 L461.49,213.36 L462.35,212.88 L463.21,212.41 L464.08,211.93 L464.94,211.45 L465.80,210.97 L466.66,210.49 L467.52,210.00 L468.39,209.51 L469.25,209.02 L470.11,208.53 L470.98,208.04 L471.84,207.55 L472.70,207.05 L473.56,206.55 L474.42,206.05 L475.29,205.55 L476.15,205.04 L477.01,204.54 L477.88,204.03 L478.74,203.52 L479.60,203.01 L480.46,202.49 L481.32,201.98 L482.19,201.46 L483.05,200.94 L483.91,200.42 L484.77,199.90 L485.64,199.37 L486.50,198.85" fill="none" stroke="#ff7f0e" stroke-width="1.4" stroke-linejoin="round" />
<path d="M279.50,158.80 H486.50 V276.50 H279.50 Z M279.50,276.50 v2.4 M314.00,276.50 v2.4 M348.50,276.50 v2.4 M383.00,276.50 v2.4 M417.50,276.50 v2.4 M452.00,276.50 v2.4 M486.50,276.50 v2.4 M279.50,267.45 h-2.4 M279.50,249.34 h-2.4 M279.50,231.23 h-2.4 M279.50,213.12 h-2.4 M279.50,195.02 h-2.4 M279.50,176.91 h-2.4 M279.50,158.80 h-2.4" stroke="#7a7a7a" stroke-width="0.95" fill="none"/>
<text x="270.51" y="285.80" font-size="7.92" textLength="17.99" lengthAdjust="spacingAndGlyphs" fill="#2e2e2e">1980</text>
<text x="304.96" y="285.80" font-size="7.92" textLength="18.04" lengthAdjust="spacingAndGlyphs" fill="#2e2e2e">2000</text>
<text x="339.46" y="285.80" font-size="7.92" textLength="18.04" lengthAdjust="spacingAndGlyphs" fill="#2e2e2e">2020</text>
<text x="373.96" y="285.80" font-size="7.92" textLength="18.04" lengthAdjust="spacingAndGlyphs" fill="#2e2e2e">2040</text>
<text x="408.46" y="285.80" font-size="7.92" textLength="18.04" lengthAdjust="spacingAndGlyphs" fill="#2e2e2e">2060</text>
<text x="442.96" y="285.80" font-size="7.92" textLength="18.04" lengthAdjust="spacingAndGlyphs" fill="#2e2e2e">2080</text>
<text x="477.46" y="285.80" font-size="7.92" textLength="18.04" lengthAdjust="spacingAndGlyphs" fill="#2e2e2e">2100</text>
<text x="264.51" y="270.65" font-size="7.92" textLength="11.12" lengthAdjust="spacingAndGlyphs" fill="#2e2e2e">0.0</text>
<text x="264.52" y="252.54" font-size="7.92" textLength="10.96" lengthAdjust="spacingAndGlyphs" fill="#2e2e2e">0.2</text>
<text x="264.51" y="234.43" font-size="7.92" textLength="11.12" lengthAdjust="spacingAndGlyphs" fill="#2e2e2e">0.4</text>
<text x="264.51" y="216.32" font-size="7.92" textLength="11.19" lengthAdjust="spacingAndGlyphs" fill="#2e2e2e">0.6</text>
<text x="264.51" y="198.22" font-size="7.92" textLength="11.15" lengthAdjust="spacingAndGlyphs" fill="#2e2e2e">0.8</text>
<text x="264.53" y="180.11" font-size="7.92" textLength="11.10" lengthAdjust="spacingAndGlyphs" fill="#2e2e2e">1.0</text>
<text x="264.54" y="162.00" font-size="7.92" textLength="10.93" lengthAdjust="spacingAndGlyphs" fill="#2e2e2e">1.2</text>
<rect x="71.4" y="17.6" width="125.0" height="55.6" rx="1.6" ry="1.6" fill="#ffffff" fill-opacity="0.8" stroke="#d0d0d0" stroke-width="0.8"/>
<path d="M73.4,23.6 H88.6" stroke="#1f77b4" stroke-width="1.1"/>
<path d="M73.4,34.4 H88.6" stroke="#ff7f0e" stroke-width="1.1"/>
<path d="M73.4,45.1 H88.6" stroke="#000" stroke-width="1.3" stroke-dasharray="4.6,2.0"/>
<path d="M73.4,55.8 H88.6" stroke="#000" stroke-width="1.3" stroke-dasharray="1.25,2.06"/>
<path d="M73.4,66.5 H88.6" stroke="#000" stroke-width="1.3" stroke-dasharray="8.0,2.0,1.25,2.0"/>
<text x="93.67" y="26.20" font-size="7.92" textLength="96.38" lengthAdjust="spacingAndGlyphs" fill="#2e2e2e">FRIDA (No SLR adaptation)</text>
<text x="100.85" y="37.00" font-size="7.92" textLength="28.53" lengthAdjust="spacingAndGlyphs" fill="#2e2e2e">+ GMSL</text>
<text x="129.24" y="38.30" font-size="5.54" textLength="12.63" lengthAdjust="spacingAndGlyphs" fill="#2e2e2e">2100</text>
<text x="144.40" y="37.00" font-size="7.92" textLength="50.88" lengthAdjust="spacingAndGlyphs" fill="#2e2e2e">in (0.75, 0.79)</text>
<text x="93.77" y="47.70" font-size="7.92" textLength="25.54" lengthAdjust="spacingAndGlyphs" fill="#2e2e2e">ssp126</text>
<text x="93.77" y="58.40" font-size="7.92" textLength="25.34" lengthAdjust="spacingAndGlyphs" fill="#2e2e2e">ssp245</text>
<text x="93.77" y="69.10" font-size="7.92" textLength="25.34" lengthAdjust="spacingAndGlyphs" fill="#2e2e2e">ssp585</text>
<text x="113.66" y="10.60" font-size="7.92" textLength="40.86" lengthAdjust="spacingAndGlyphs" fill="#2e2e2e">Global GDP</text>
<text x="70.62" y="156.10" font-size="7.92" textLength="126.55" lengthAdjust="spacingAndGlyphs" fill="#2e2e2e">Global mean temperature anomaly</text>
<text x="335.30" y="156.10" font-size="7.92" textLength="95.38" lengthAdjust="spacingAndGlyphs" fill="#2e2e2e">Global mean sea level rise</text>
<text x="344.46" y="10.60" font-size="7.92" textLength="35.90" lengthAdjust="spacingAndGlyphs" fill="#2e2e2e">Global CO</text>
<text x="380.51" y="11.90" font-size="5.54" textLength="2.85" lengthAdjust="spacingAndGlyphs" fill="#2e2e2e">2</text>
<text x="385.95" y="10.60" font-size="7.92" textLength="35.55" lengthAdjust="spacingAndGlyphs" fill="#2e2e2e">emissions</text>
<text x="32.35" y="23.20" font-size="9.57" textLength="11.82" lengthAdjust="spacingAndGlyphs" fill="#2e2e2e">(a)</text>
<text x="281.34" y="23.20" font-size="9.57" textLength="12.04" lengthAdjust="spacingAndGlyphs" fill="#2e2e2e">(b)</text>
<text x="32.35" y="168.50" font-size="9.57" textLength="11.28" lengthAdjust="spacingAndGlyphs" fill="#2e2e2e">(c)</text>
<text x="281.34" y="168.50" font-size="9.57" textLength="12.04" lengthAdjust="spacingAndGlyphs" fill="#2e2e2e">(d)</text>
<text x="30.48" y="12.50" font-size="7.92" textLength="13.30" lengthAdjust="spacingAndGlyphs" fill="#2e2e2e">1e6</text>
<text transform="translate(10.80,0) rotate(-90)" x="-105.05" y="0" font-size="7.92" textLength="55.32" lengthAdjust="spacingAndGlyphs" fill="#2e2e2e">real GDP (b$ yr</text>
<text transform="translate(8.20,0) rotate(-90)" x="-49.63" y="0" font-size="5.54" textLength="7.04" lengthAdjust="spacingAndGlyphs" fill="#2e2e2e">−1</text>
<text transform="translate(10.80,0) rotate(-90)" x="-41.89" y="0" font-size="7.92" textLength="2.03" lengthAdjust="spacingAndGlyphs" fill="#2e2e2e">)</text>
<text transform="translate(261.20,0) rotate(-90)" x="-118.56" y="0" font-size="7.92" textLength="10.58" lengthAdjust="spacingAndGlyphs" fill="#2e2e2e">CO</text>
<text transform="translate(262.50,0) rotate(-90)" x="-107.80" y="0" font-size="5.54" textLength="2.85" lengthAdjust="spacingAndGlyphs" fill="#2e2e2e">2</text>
<text transform="translate(261.20,0) rotate(-90)" x="-102.36" y="0" font-size="7.92" textLength="66.07" lengthAdjust="spacingAndGlyphs" fill="#2e2e2e">emissions (Gt C yr</text>
<text transform="translate(258.60,0) rotate(-90)" x="-36.20" y="0" font-size="5.54" textLength="7.04" lengthAdjust="spacingAndGlyphs" fill="#2e2e2e">−1</text>
<text transform="translate(261.20,0) rotate(-90)" x="-28.46" y="0" font-size="7.92" textLength="2.03" lengthAdjust="spacingAndGlyphs" fill="#2e2e2e">)</text>
<text transform="translate(18.40,0) rotate(-90)" x="-264.34" y="0" font-size="7.92" textLength="93.07" lengthAdjust="spacingAndGlyphs" fill="#2e2e2e">Temperature anomaly (K)</text>
<text transform="translate(260.40,0) rotate(-90)" x="-243.11" y="0" font-size="7.92" textLength="48.90" lengthAdjust="spacingAndGlyphs" fill="#2e2e2e">Total SLR (m)</text>
</svg>
</body></html>
